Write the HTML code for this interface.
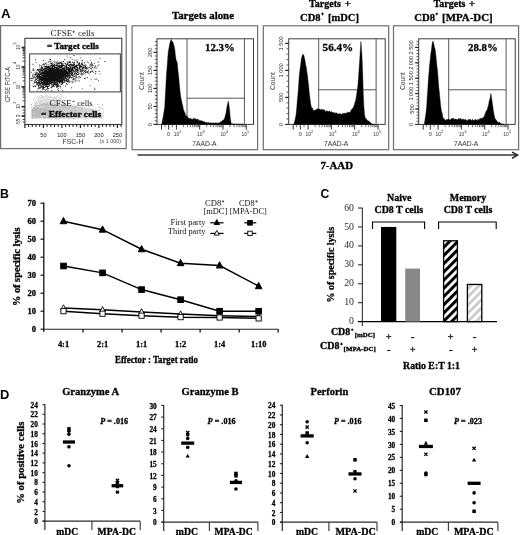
<!DOCTYPE html>
<html><head><meta charset="utf-8"><title>Figure</title>
<style>html,body{margin:0;padding:0;background:#fff;}body{width:520px;height:535px;overflow:hidden;font-family:"Liberation Serif",serif;}svg{display:block;will-change:transform;}</style>
</head><body>
<svg width="520" height="535" viewBox="0 0 520 535"><text x="1.00" y="17.60" font-family="Liberation Sans" font-size="13" font-weight="bold" textLength="9.60" lengthAdjust="spacingAndGlyphs" >A</text><rect x="0.60" y="25.60" width="125.60" height="123.00" fill="none" stroke="#6e6e6e" stroke-width="1.2" /><rect x="24.90" y="38.30" width="96.90" height="86.20" fill="none" stroke="#3c3c3c" stroke-width="1.1" /><path d="M51.1 77.0h.9v.9h-.9zM51.3 73.2h.9v.9h-.9zM46.0 74.2h.9v.9h-.9zM61.3 75.7h.9v.9h-.9zM60.8 74.9h.9v.9h-.9zM56.0 75.1h.9v.9h-.9zM40.5 79.5h.9v.9h-.9zM56.8 76.4h.9v.9h-.9zM40.3 67.7h.9v.9h-.9zM46.3 73.0h.9v.9h-.9zM55.3 74.1h.9v.9h-.9zM56.9 71.2h.9v.9h-.9zM55.3 76.1h.9v.9h-.9zM48.0 82.8h.9v.9h-.9zM57.2 79.6h.9v.9h-.9zM48.3 71.6h.9v.9h-.9zM50.4 74.3h.9v.9h-.9zM57.7 75.2h.9v.9h-.9zM49.6 70.5h.9v.9h-.9zM49.1 80.4h.9v.9h-.9zM46.9 76.2h.9v.9h-.9zM56.2 67.4h.9v.9h-.9zM53.4 80.4h.9v.9h-.9zM37.9 74.4h.9v.9h-.9zM52.2 70.9h.9v.9h-.9zM56.7 73.9h.9v.9h-.9zM42.0 79.3h.9v.9h-.9zM58.0 78.3h.9v.9h-.9zM63.8 75.2h.9v.9h-.9zM53.9 68.5h.9v.9h-.9zM57.6 71.3h.9v.9h-.9zM49.6 69.1h.9v.9h-.9zM45.7 72.8h.9v.9h-.9zM62.7 64.4h.9v.9h-.9zM42.1 76.6h.9v.9h-.9zM63.8 76.1h.9v.9h-.9zM38.8 64.4h.9v.9h-.9zM55.7 70.9h.9v.9h-.9zM44.6 79.7h.9v.9h-.9zM61.3 74.5h.9v.9h-.9zM54.8 76.3h.9v.9h-.9zM65.0 76.2h.9v.9h-.9zM56.9 76.6h.9v.9h-.9zM41.2 81.4h.9v.9h-.9zM60.2 76.2h.9v.9h-.9zM38.2 73.0h.9v.9h-.9zM59.3 65.7h.9v.9h-.9zM51.6 79.3h.9v.9h-.9zM43.2 82.7h.9v.9h-.9zM57.1 73.4h.9v.9h-.9zM55.4 77.2h.9v.9h-.9zM53.9 79.6h.9v.9h-.9zM48.0 73.1h.9v.9h-.9zM60.8 73.9h.9v.9h-.9zM46.4 79.4h.9v.9h-.9zM64.0 71.5h.9v.9h-.9zM42.7 74.8h.9v.9h-.9zM51.9 73.2h.9v.9h-.9zM63.5 68.9h.9v.9h-.9zM62.5 67.9h.9v.9h-.9zM47.1 77.9h.9v.9h-.9zM61.5 77.6h.9v.9h-.9zM55.6 74.9h.9v.9h-.9zM54.1 77.0h.9v.9h-.9zM51.7 75.9h.9v.9h-.9zM57.3 74.1h.9v.9h-.9zM58.7 76.5h.9v.9h-.9zM68.1 74.6h.9v.9h-.9zM49.8 73.1h.9v.9h-.9zM52.9 78.7h.9v.9h-.9zM50.5 76.5h.9v.9h-.9zM66.8 61.6h.9v.9h-.9zM44.6 76.4h.9v.9h-.9zM56.0 75.3h.9v.9h-.9zM49.8 77.8h.9v.9h-.9zM55.1 71.9h.9v.9h-.9zM71.2 74.4h.9v.9h-.9zM48.8 74.4h.9v.9h-.9zM51.3 74.4h.9v.9h-.9zM32.5 74.2h.9v.9h-.9zM60.6 68.5h.9v.9h-.9zM52.5 78.9h.9v.9h-.9zM59.4 80.7h.9v.9h-.9zM40.2 74.1h.9v.9h-.9zM50.4 77.6h.9v.9h-.9zM61.2 61.5h.9v.9h-.9zM61.2 67.2h.9v.9h-.9zM58.1 67.2h.9v.9h-.9zM54.3 79.8h.9v.9h-.9zM51.9 75.5h.9v.9h-.9zM59.0 74.6h.9v.9h-.9zM52.3 81.5h.9v.9h-.9zM60.9 72.4h.9v.9h-.9zM73.6 67.4h.9v.9h-.9zM59.9 72.7h.9v.9h-.9zM54.0 77.6h.9v.9h-.9zM54.7 77.3h.9v.9h-.9zM41.5 68.7h.9v.9h-.9zM57.6 69.7h.9v.9h-.9zM45.3 68.5h.9v.9h-.9zM62.5 77.0h.9v.9h-.9zM64.0 69.2h.9v.9h-.9zM53.0 69.3h.9v.9h-.9zM58.7 81.2h.9v.9h-.9zM46.3 82.2h.9v.9h-.9zM60.4 73.0h.9v.9h-.9zM38.2 82.3h.9v.9h-.9zM52.3 71.8h.9v.9h-.9zM56.0 76.1h.9v.9h-.9zM64.2 68.8h.9v.9h-.9zM61.5 80.5h.9v.9h-.9zM63.9 72.7h.9v.9h-.9zM47.4 79.6h.9v.9h-.9zM53.9 75.0h.9v.9h-.9zM63.7 72.3h.9v.9h-.9zM35.8 74.3h.9v.9h-.9zM39.1 79.5h.9v.9h-.9zM55.4 71.5h.9v.9h-.9zM52.9 78.3h.9v.9h-.9zM53.6 80.5h.9v.9h-.9zM52.5 79.3h.9v.9h-.9zM64.2 80.8h.9v.9h-.9zM48.0 79.0h.9v.9h-.9zM38.9 70.9h.9v.9h-.9zM38.3 80.7h.9v.9h-.9zM43.8 75.3h.9v.9h-.9zM51.6 74.5h.9v.9h-.9zM48.6 76.0h.9v.9h-.9zM66.4 73.5h.9v.9h-.9zM57.0 78.7h.9v.9h-.9zM51.5 68.9h.9v.9h-.9zM48.8 79.8h.9v.9h-.9zM40.7 72.9h.9v.9h-.9zM60.6 77.4h.9v.9h-.9zM53.1 78.2h.9v.9h-.9zM54.2 69.0h.9v.9h-.9zM41.3 72.7h.9v.9h-.9zM59.9 71.3h.9v.9h-.9zM46.2 71.6h.9v.9h-.9zM41.5 75.0h.9v.9h-.9zM44.2 77.0h.9v.9h-.9zM35.3 77.6h.9v.9h-.9zM48.2 66.1h.9v.9h-.9zM58.4 72.7h.9v.9h-.9zM36.3 72.1h.9v.9h-.9zM55.2 72.2h.9v.9h-.9zM58.8 77.4h.9v.9h-.9zM58.0 75.5h.9v.9h-.9zM63.0 76.6h.9v.9h-.9zM56.4 64.7h.9v.9h-.9zM59.7 79.8h.9v.9h-.9zM50.8 72.6h.9v.9h-.9zM67.6 65.2h.9v.9h-.9zM56.5 85.2h.9v.9h-.9zM46.0 78.3h.9v.9h-.9zM67.1 72.7h.9v.9h-.9zM57.2 78.2h.9v.9h-.9zM46.2 74.7h.9v.9h-.9zM55.2 78.1h.9v.9h-.9zM52.7 73.6h.9v.9h-.9zM45.4 73.6h.9v.9h-.9zM59.7 74.3h.9v.9h-.9zM46.6 71.3h.9v.9h-.9zM73.0 77.8h.9v.9h-.9zM57.8 62.3h.9v.9h-.9zM57.7 76.3h.9v.9h-.9zM65.6 75.3h.9v.9h-.9zM52.5 76.9h.9v.9h-.9zM38.4 80.5h.9v.9h-.9zM55.4 71.1h.9v.9h-.9zM62.9 81.8h.9v.9h-.9zM42.5 72.4h.9v.9h-.9zM55.2 75.1h.9v.9h-.9zM50.0 70.3h.9v.9h-.9zM68.9 77.8h.9v.9h-.9zM44.0 69.2h.9v.9h-.9zM65.8 77.8h.9v.9h-.9zM66.7 76.9h.9v.9h-.9zM46.5 76.3h.9v.9h-.9zM36.8 72.6h.9v.9h-.9zM52.6 76.9h.9v.9h-.9zM47.5 74.4h.9v.9h-.9zM56.4 75.9h.9v.9h-.9zM57.8 75.0h.9v.9h-.9zM50.6 78.3h.9v.9h-.9zM53.4 70.7h.9v.9h-.9zM48.3 74.9h.9v.9h-.9zM52.2 75.3h.9v.9h-.9zM53.0 75.3h.9v.9h-.9zM52.0 68.9h.9v.9h-.9zM56.2 79.0h.9v.9h-.9zM56.3 73.3h.9v.9h-.9zM56.3 69.8h.9v.9h-.9zM38.8 76.1h.9v.9h-.9zM46.0 78.5h.9v.9h-.9zM44.9 63.3h.9v.9h-.9zM45.2 82.4h.9v.9h-.9zM50.1 68.5h.9v.9h-.9zM47.3 77.4h.9v.9h-.9zM56.7 75.0h.9v.9h-.9zM64.1 76.7h.9v.9h-.9zM52.8 77.2h.9v.9h-.9zM65.4 77.8h.9v.9h-.9zM60.7 68.9h.9v.9h-.9zM51.9 77.9h.9v.9h-.9zM50.8 79.6h.9v.9h-.9zM57.5 78.2h.9v.9h-.9zM51.4 86.2h.9v.9h-.9zM62.3 72.7h.9v.9h-.9zM53.7 86.2h.9v.9h-.9zM50.4 78.7h.9v.9h-.9zM60.4 73.9h.9v.9h-.9zM44.2 76.2h.9v.9h-.9zM55.7 79.4h.9v.9h-.9zM58.9 74.1h.9v.9h-.9zM59.4 76.4h.9v.9h-.9zM54.5 74.6h.9v.9h-.9zM51.2 77.8h.9v.9h-.9zM45.1 72.4h.9v.9h-.9zM53.0 67.8h.9v.9h-.9zM49.7 65.7h.9v.9h-.9zM47.9 77.6h.9v.9h-.9zM57.2 73.9h.9v.9h-.9zM51.3 68.2h.9v.9h-.9zM66.7 75.6h.9v.9h-.9zM61.2 69.7h.9v.9h-.9zM51.6 66.4h.9v.9h-.9zM58.9 78.2h.9v.9h-.9zM38.8 75.6h.9v.9h-.9zM57.7 66.1h.9v.9h-.9zM39.3 70.9h.9v.9h-.9zM48.3 68.6h.9v.9h-.9zM53.2 75.6h.9v.9h-.9zM57.8 77.3h.9v.9h-.9zM64.3 78.8h.9v.9h-.9zM43.2 73.1h.9v.9h-.9zM45.0 70.3h.9v.9h-.9zM52.4 74.6h.9v.9h-.9zM56.7 66.9h.9v.9h-.9zM43.7 75.2h.9v.9h-.9zM51.5 73.2h.9v.9h-.9zM52.5 71.1h.9v.9h-.9zM58.3 75.6h.9v.9h-.9zM52.3 71.5h.9v.9h-.9zM51.7 62.2h.9v.9h-.9zM45.6 75.3h.9v.9h-.9zM41.7 76.4h.9v.9h-.9zM54.1 68.1h.9v.9h-.9zM51.1 73.2h.9v.9h-.9zM56.4 77.0h.9v.9h-.9zM52.7 70.7h.9v.9h-.9zM51.9 74.3h.9v.9h-.9zM58.5 75.3h.9v.9h-.9zM47.6 68.8h.9v.9h-.9zM50.2 71.4h.9v.9h-.9zM44.7 74.7h.9v.9h-.9zM49.3 75.3h.9v.9h-.9zM56.9 72.3h.9v.9h-.9zM70.4 71.4h.9v.9h-.9zM61.3 74.3h.9v.9h-.9zM61.4 62.9h.9v.9h-.9zM47.4 76.1h.9v.9h-.9zM57.5 84.7h.9v.9h-.9zM55.4 80.1h.9v.9h-.9zM58.7 78.3h.9v.9h-.9zM56.8 73.4h.9v.9h-.9zM56.8 69.2h.9v.9h-.9zM61.9 69.1h.9v.9h-.9zM54.9 84.0h.9v.9h-.9zM51.3 74.7h.9v.9h-.9zM61.7 73.8h.9v.9h-.9zM46.9 76.2h.9v.9h-.9zM57.4 77.3h.9v.9h-.9zM47.2 83.0h.9v.9h-.9zM65.5 73.4h.9v.9h-.9zM55.0 72.4h.9v.9h-.9zM63.6 70.3h.9v.9h-.9zM58.1 71.9h.9v.9h-.9zM47.8 78.2h.9v.9h-.9zM63.0 73.5h.9v.9h-.9zM47.9 78.7h.9v.9h-.9zM52.6 75.9h.9v.9h-.9zM64.4 78.6h.9v.9h-.9zM49.1 85.2h.9v.9h-.9zM53.0 78.1h.9v.9h-.9zM48.1 74.7h.9v.9h-.9zM39.9 83.8h.9v.9h-.9zM63.2 68.0h.9v.9h-.9zM41.7 68.2h.9v.9h-.9zM61.8 71.6h.9v.9h-.9zM52.5 73.1h.9v.9h-.9zM52.1 69.6h.9v.9h-.9zM53.2 67.9h.9v.9h-.9zM52.5 76.0h.9v.9h-.9zM56.5 73.1h.9v.9h-.9zM46.2 75.8h.9v.9h-.9zM49.4 82.0h.9v.9h-.9zM58.8 73.4h.9v.9h-.9zM49.5 71.6h.9v.9h-.9zM46.0 73.5h.9v.9h-.9zM55.2 76.6h.9v.9h-.9zM57.3 83.7h.9v.9h-.9zM47.7 75.0h.9v.9h-.9zM74.0 64.1h.9v.9h-.9zM49.1 75.6h.9v.9h-.9zM54.2 76.2h.9v.9h-.9zM51.2 76.3h.9v.9h-.9zM53.4 78.0h.9v.9h-.9zM38.8 71.8h.9v.9h-.9zM53.0 69.8h.9v.9h-.9zM45.2 78.1h.9v.9h-.9zM48.1 77.8h.9v.9h-.9zM58.6 75.4h.9v.9h-.9zM56.8 73.7h.9v.9h-.9zM42.4 75.3h.9v.9h-.9zM56.4 71.8h.9v.9h-.9zM52.3 78.0h.9v.9h-.9zM46.4 78.0h.9v.9h-.9zM67.0 70.7h.9v.9h-.9zM54.1 73.7h.9v.9h-.9zM64.6 74.9h.9v.9h-.9zM59.7 70.7h.9v.9h-.9zM52.9 74.5h.9v.9h-.9zM39.7 82.3h.9v.9h-.9zM59.7 65.9h.9v.9h-.9zM58.6 73.4h.9v.9h-.9zM56.4 75.9h.9v.9h-.9zM41.8 74.6h.9v.9h-.9zM64.2 70.9h.9v.9h-.9zM45.3 69.0h.9v.9h-.9zM43.8 76.9h.9v.9h-.9zM65.7 75.3h.9v.9h-.9zM54.8 84.5h.9v.9h-.9zM49.1 71.8h.9v.9h-.9zM57.0 76.6h.9v.9h-.9zM45.4 69.9h.9v.9h-.9zM55.2 75.4h.9v.9h-.9zM43.2 74.5h.9v.9h-.9zM48.9 77.0h.9v.9h-.9zM52.1 74.2h.9v.9h-.9zM50.3 79.5h.9v.9h-.9zM63.4 71.9h.9v.9h-.9zM59.3 70.5h.9v.9h-.9zM53.5 77.9h.9v.9h-.9zM64.4 71.7h.9v.9h-.9zM52.4 75.4h.9v.9h-.9zM41.8 75.6h.9v.9h-.9zM47.9 76.7h.9v.9h-.9zM44.5 66.3h.9v.9h-.9zM53.3 75.7h.9v.9h-.9zM48.9 78.9h.9v.9h-.9zM51.0 71.9h.9v.9h-.9zM56.6 67.0h.9v.9h-.9zM47.9 74.9h.9v.9h-.9zM59.4 73.2h.9v.9h-.9zM55.3 71.3h.9v.9h-.9zM55.3 81.9h.9v.9h-.9zM47.9 85.7h.9v.9h-.9zM48.2 75.0h.9v.9h-.9zM54.3 79.0h.9v.9h-.9zM43.7 65.8h.9v.9h-.9zM57.5 77.7h.9v.9h-.9zM57.7 86.0h.9v.9h-.9zM54.5 75.5h.9v.9h-.9zM60.0 75.5h.9v.9h-.9zM65.5 67.7h.9v.9h-.9zM50.2 59.1h.9v.9h-.9zM59.1 72.2h.9v.9h-.9zM59.9 83.7h.9v.9h-.9zM53.0 73.3h.9v.9h-.9zM49.3 71.0h.9v.9h-.9zM48.3 77.8h.9v.9h-.9zM53.3 74.8h.9v.9h-.9zM51.7 78.8h.9v.9h-.9zM56.7 73.5h.9v.9h-.9zM58.0 73.4h.9v.9h-.9zM44.4 81.9h.9v.9h-.9zM56.5 69.8h.9v.9h-.9zM61.1 75.3h.9v.9h-.9zM41.3 82.9h.9v.9h-.9zM55.5 78.3h.9v.9h-.9zM54.5 73.7h.9v.9h-.9zM41.4 80.0h.9v.9h-.9zM53.2 73.2h.9v.9h-.9zM55.6 74.6h.9v.9h-.9zM58.1 72.3h.9v.9h-.9zM52.7 64.8h.9v.9h-.9zM49.8 77.9h.9v.9h-.9zM63.0 71.9h.9v.9h-.9zM52.1 81.8h.9v.9h-.9zM50.6 78.1h.9v.9h-.9zM65.6 73.5h.9v.9h-.9zM62.2 70.4h.9v.9h-.9zM54.6 74.0h.9v.9h-.9zM53.9 79.6h.9v.9h-.9zM70.9 69.8h.9v.9h-.9zM48.7 77.2h.9v.9h-.9zM45.1 77.5h.9v.9h-.9zM57.3 72.8h.9v.9h-.9zM57.0 67.1h.9v.9h-.9zM58.7 66.9h.9v.9h-.9zM47.8 72.5h.9v.9h-.9zM50.0 78.7h.9v.9h-.9zM53.6 72.6h.9v.9h-.9zM57.1 81.3h.9v.9h-.9zM53.0 76.2h.9v.9h-.9zM62.3 74.9h.9v.9h-.9zM43.4 86.7h.9v.9h-.9zM69.6 63.9h.9v.9h-.9zM52.7 76.4h.9v.9h-.9zM60.2 76.9h.9v.9h-.9zM51.0 69.9h.9v.9h-.9zM53.8 79.1h.9v.9h-.9zM44.8 70.6h.9v.9h-.9zM52.8 65.7h.9v.9h-.9zM51.0 72.7h.9v.9h-.9zM56.4 71.0h.9v.9h-.9zM46.4 73.3h.9v.9h-.9zM52.6 71.5h.9v.9h-.9zM53.1 77.9h.9v.9h-.9zM61.9 81.4h.9v.9h-.9zM47.1 73.1h.9v.9h-.9zM34.4 84.9h.9v.9h-.9zM47.6 74.8h.9v.9h-.9zM56.9 68.0h.9v.9h-.9zM56.5 74.1h.9v.9h-.9zM39.3 77.1h.9v.9h-.9zM62.0 65.2h.9v.9h-.9zM59.1 74.9h.9v.9h-.9zM56.6 76.2h.9v.9h-.9zM62.8 72.6h.9v.9h-.9zM59.6 72.0h.9v.9h-.9zM58.5 70.3h.9v.9h-.9zM52.2 82.4h.9v.9h-.9zM56.3 73.5h.9v.9h-.9zM44.4 71.7h.9v.9h-.9zM54.5 78.6h.9v.9h-.9zM56.2 76.6h.9v.9h-.9zM52.7 80.7h.9v.9h-.9zM50.1 72.3h.9v.9h-.9zM59.7 74.2h.9v.9h-.9zM50.9 72.1h.9v.9h-.9zM51.1 77.5h.9v.9h-.9zM55.7 68.8h.9v.9h-.9zM56.2 75.0h.9v.9h-.9zM45.5 78.7h.9v.9h-.9zM50.9 73.2h.9v.9h-.9zM59.0 80.0h.9v.9h-.9zM47.8 77.0h.9v.9h-.9zM46.4 85.6h.9v.9h-.9zM49.3 80.3h.9v.9h-.9zM48.1 78.6h.9v.9h-.9zM69.6 61.4h.9v.9h-.9zM49.7 77.1h.9v.9h-.9zM52.3 71.5h.9v.9h-.9zM69.1 73.4h.9v.9h-.9zM40.7 79.5h.9v.9h-.9zM40.1 80.9h.9v.9h-.9zM48.7 75.6h.9v.9h-.9zM62.5 74.2h.9v.9h-.9zM42.6 67.7h.9v.9h-.9zM61.9 77.1h.9v.9h-.9zM46.9 79.0h.9v.9h-.9zM56.7 77.1h.9v.9h-.9zM36.1 74.7h.9v.9h-.9zM59.8 77.2h.9v.9h-.9zM59.6 62.7h.9v.9h-.9zM54.3 76.6h.9v.9h-.9zM72.1 68.4h.9v.9h-.9zM50.5 74.9h.9v.9h-.9zM59.6 71.9h.9v.9h-.9zM61.6 70.1h.9v.9h-.9zM55.0 71.9h.9v.9h-.9zM54.2 71.2h.9v.9h-.9zM41.0 80.6h.9v.9h-.9zM55.3 71.7h.9v.9h-.9zM54.5 78.9h.9v.9h-.9zM45.7 74.7h.9v.9h-.9zM57.0 76.5h.9v.9h-.9zM50.5 65.1h.9v.9h-.9zM62.3 75.1h.9v.9h-.9zM53.1 73.2h.9v.9h-.9zM55.0 72.4h.9v.9h-.9zM45.3 71.8h.9v.9h-.9zM48.5 72.1h.9v.9h-.9zM44.3 78.2h.9v.9h-.9zM43.2 78.4h.9v.9h-.9zM45.4 76.8h.9v.9h-.9zM63.3 74.5h.9v.9h-.9zM47.5 75.2h.9v.9h-.9zM54.1 66.5h.9v.9h-.9zM48.4 75.7h.9v.9h-.9zM49.5 75.2h.9v.9h-.9zM58.5 77.5h.9v.9h-.9zM59.8 76.6h.9v.9h-.9zM50.8 74.6h.9v.9h-.9zM51.0 73.3h.9v.9h-.9zM51.7 66.8h.9v.9h-.9zM50.5 74.6h.9v.9h-.9zM45.7 75.1h.9v.9h-.9zM56.9 73.4h.9v.9h-.9zM68.6 61.2h.9v.9h-.9zM51.5 66.3h.9v.9h-.9zM60.3 85.9h.9v.9h-.9zM34.2 76.8h.9v.9h-.9zM56.9 72.8h.9v.9h-.9zM57.1 63.9h.9v.9h-.9zM59.4 75.6h.9v.9h-.9zM53.2 71.8h.9v.9h-.9zM57.8 71.9h.9v.9h-.9zM54.7 72.0h.9v.9h-.9zM36.1 75.9h.9v.9h-.9zM54.5 77.8h.9v.9h-.9zM46.4 75.0h.9v.9h-.9zM57.6 74.7h.9v.9h-.9zM62.3 82.7h.9v.9h-.9zM46.2 66.4h.9v.9h-.9zM59.4 80.9h.9v.9h-.9zM59.9 77.6h.9v.9h-.9zM48.4 71.7h.9v.9h-.9zM59.7 69.7h.9v.9h-.9zM39.4 71.2h.9v.9h-.9zM71.7 81.5h.9v.9h-.9zM47.9 71.7h.9v.9h-.9zM54.7 70.9h.9v.9h-.9zM62.8 73.2h.9v.9h-.9zM44.9 81.2h.9v.9h-.9zM48.6 75.9h.9v.9h-.9zM52.9 73.1h.9v.9h-.9zM55.4 71.1h.9v.9h-.9zM39.2 65.7h.9v.9h-.9zM43.5 71.9h.9v.9h-.9zM52.8 74.8h.9v.9h-.9zM57.2 74.7h.9v.9h-.9zM47.0 71.8h.9v.9h-.9zM37.1 75.2h.9v.9h-.9zM56.6 76.6h.9v.9h-.9zM52.1 73.8h.9v.9h-.9zM60.0 73.9h.9v.9h-.9zM58.5 76.6h.9v.9h-.9zM54.6 80.3h.9v.9h-.9zM48.7 73.3h.9v.9h-.9zM46.9 71.4h.9v.9h-.9zM64.7 81.4h.9v.9h-.9zM53.2 77.1h.9v.9h-.9zM61.8 77.4h.9v.9h-.9zM62.0 67.9h.9v.9h-.9zM48.2 77.0h.9v.9h-.9zM63.8 74.0h.9v.9h-.9zM46.6 73.5h.9v.9h-.9zM48.0 71.1h.9v.9h-.9zM64.3 70.6h.9v.9h-.9zM53.2 84.3h.9v.9h-.9zM61.9 75.2h.9v.9h-.9zM48.4 76.8h.9v.9h-.9zM65.2 76.2h.9v.9h-.9zM62.5 74.1h.9v.9h-.9zM56.9 73.2h.9v.9h-.9zM56.2 80.1h.9v.9h-.9zM42.3 75.2h.9v.9h-.9zM54.8 71.7h.9v.9h-.9zM50.7 78.3h.9v.9h-.9zM68.0 76.0h.9v.9h-.9zM55.4 67.2h.9v.9h-.9zM67.5 73.5h.9v.9h-.9zM52.7 69.4h.9v.9h-.9zM52.6 69.6h.9v.9h-.9zM53.5 76.6h.9v.9h-.9zM53.2 75.8h.9v.9h-.9zM46.6 81.6h.9v.9h-.9zM48.1 66.7h.9v.9h-.9zM51.6 71.2h.9v.9h-.9zM45.4 73.6h.9v.9h-.9zM55.2 68.9h.9v.9h-.9zM52.0 81.1h.9v.9h-.9zM58.1 73.3h.9v.9h-.9zM54.0 73.9h.9v.9h-.9zM52.6 77.9h.9v.9h-.9zM52.3 63.6h.9v.9h-.9zM52.8 70.5h.9v.9h-.9zM57.9 71.3h.9v.9h-.9zM54.1 84.3h.9v.9h-.9zM45.1 70.1h.9v.9h-.9zM42.4 64.6h.9v.9h-.9zM38.9 77.5h.9v.9h-.9zM48.2 66.4h.9v.9h-.9zM41.9 78.3h.9v.9h-.9zM47.2 73.4h.9v.9h-.9zM55.5 80.4h.9v.9h-.9zM67.6 77.9h.9v.9h-.9zM54.1 75.2h.9v.9h-.9zM66.5 79.8h.9v.9h-.9zM50.7 76.8h.9v.9h-.9zM55.2 74.5h.9v.9h-.9zM49.2 68.8h.9v.9h-.9zM49.0 67.8h.9v.9h-.9zM62.2 76.1h.9v.9h-.9zM44.0 81.7h.9v.9h-.9zM59.7 65.2h.9v.9h-.9zM66.8 76.9h.9v.9h-.9zM68.5 67.5h.9v.9h-.9zM57.0 76.1h.9v.9h-.9zM54.5 75.1h.9v.9h-.9zM60.9 67.0h.9v.9h-.9zM43.7 69.0h.9v.9h-.9zM48.8 72.1h.9v.9h-.9zM55.8 75.5h.9v.9h-.9zM53.2 71.4h.9v.9h-.9zM49.7 79.1h.9v.9h-.9zM58.7 74.4h.9v.9h-.9zM50.6 81.8h.9v.9h-.9zM48.5 77.9h.9v.9h-.9zM61.7 72.5h.9v.9h-.9zM59.2 68.9h.9v.9h-.9zM60.6 74.7h.9v.9h-.9zM41.1 78.6h.9v.9h-.9zM46.3 80.9h.9v.9h-.9zM47.9 74.2h.9v.9h-.9zM55.1 72.8h.9v.9h-.9zM54.9 71.8h.9v.9h-.9zM58.0 74.1h.9v.9h-.9zM54.6 61.8h.9v.9h-.9zM61.7 73.8h.9v.9h-.9zM39.6 76.2h.9v.9h-.9zM56.5 79.0h.9v.9h-.9zM44.9 82.3h.9v.9h-.9zM51.8 85.5h.9v.9h-.9zM51.9 77.7h.9v.9h-.9zM50.3 69.7h.9v.9h-.9zM61.2 77.9h.9v.9h-.9zM64.5 77.3h.9v.9h-.9zM48.7 67.3h.9v.9h-.9zM48.1 71.9h.9v.9h-.9zM46.9 77.7h.9v.9h-.9zM55.5 73.0h.9v.9h-.9zM54.3 73.7h.9v.9h-.9zM54.6 77.8h.9v.9h-.9zM60.2 70.7h.9v.9h-.9zM41.7 82.0h.9v.9h-.9zM53.9 79.4h.9v.9h-.9zM40.7 74.1h.9v.9h-.9zM53.2 67.9h.9v.9h-.9zM49.1 78.2h.9v.9h-.9zM61.1 81.0h.9v.9h-.9zM46.5 68.7h.9v.9h-.9zM56.9 78.4h.9v.9h-.9zM54.4 68.4h.9v.9h-.9zM58.9 77.6h.9v.9h-.9zM57.2 71.9h.9v.9h-.9zM55.3 77.9h.9v.9h-.9zM48.8 66.5h.9v.9h-.9zM55.5 76.5h.9v.9h-.9zM53.1 78.5h.9v.9h-.9zM48.6 74.5h.9v.9h-.9zM50.7 77.3h.9v.9h-.9zM65.0 72.3h.9v.9h-.9zM68.4 80.0h.9v.9h-.9zM58.9 76.6h.9v.9h-.9zM66.3 72.5h.9v.9h-.9zM52.2 69.7h.9v.9h-.9zM56.5 80.3h.9v.9h-.9zM57.0 76.1h.9v.9h-.9zM51.5 75.4h.9v.9h-.9zM42.3 80.3h.9v.9h-.9zM49.9 69.8h.9v.9h-.9zM47.4 71.3h.9v.9h-.9zM59.4 78.7h.9v.9h-.9zM42.8 79.6h.9v.9h-.9zM59.7 71.3h.9v.9h-.9zM41.9 72.1h.9v.9h-.9zM48.2 76.5h.9v.9h-.9zM50.3 65.5h.9v.9h-.9zM54.8 67.4h.9v.9h-.9zM59.8 68.4h.9v.9h-.9zM47.8 71.1h.9v.9h-.9zM48.9 80.8h.9v.9h-.9zM59.4 76.6h.9v.9h-.9zM55.4 67.2h.9v.9h-.9zM49.1 72.3h.9v.9h-.9zM45.7 77.5h.9v.9h-.9zM47.4 71.8h.9v.9h-.9zM45.2 65.9h.9v.9h-.9zM57.5 80.1h.9v.9h-.9zM54.3 69.9h.9v.9h-.9zM32.7 77.2h.9v.9h-.9zM62.1 75.0h.9v.9h-.9zM60.0 80.6h.9v.9h-.9zM61.5 71.7h.9v.9h-.9zM60.9 77.3h.9v.9h-.9zM41.5 73.7h.9v.9h-.9zM42.3 75.0h.9v.9h-.9zM57.3 69.2h.9v.9h-.9zM37.6 81.8h.9v.9h-.9zM55.8 80.9h.9v.9h-.9zM43.1 80.2h.9v.9h-.9zM68.6 82.2h.9v.9h-.9zM51.4 75.9h.9v.9h-.9zM51.8 79.1h.9v.9h-.9zM60.8 74.2h.9v.9h-.9zM42.8 78.8h.9v.9h-.9zM49.5 77.7h.9v.9h-.9zM55.0 81.7h.9v.9h-.9zM61.5 71.7h.9v.9h-.9zM55.6 82.3h.9v.9h-.9zM49.0 76.8h.9v.9h-.9zM61.9 79.4h.9v.9h-.9zM56.9 68.1h.9v.9h-.9zM43.5 76.5h.9v.9h-.9zM55.9 85.8h.9v.9h-.9zM46.5 80.3h.9v.9h-.9zM58.8 66.4h.9v.9h-.9zM46.9 75.8h.9v.9h-.9zM49.3 74.1h.9v.9h-.9zM56.5 70.5h.9v.9h-.9zM56.5 71.3h.9v.9h-.9zM48.9 77.3h.9v.9h-.9zM48.7 76.2h.9v.9h-.9zM65.0 73.5h.9v.9h-.9zM51.9 77.9h.9v.9h-.9zM50.3 79.7h.9v.9h-.9zM43.4 78.2h.9v.9h-.9zM49.2 71.2h.9v.9h-.9zM66.3 69.4h.9v.9h-.9zM66.2 76.3h.9v.9h-.9zM63.9 69.1h.9v.9h-.9zM62.0 80.3h.9v.9h-.9zM52.1 74.0h.9v.9h-.9zM71.4 73.6h.9v.9h-.9zM49.8 71.9h.9v.9h-.9zM56.3 75.7h.9v.9h-.9zM54.3 82.2h.9v.9h-.9zM50.5 76.9h.9v.9h-.9zM63.9 68.9h.9v.9h-.9zM60.8 82.1h.9v.9h-.9zM42.8 70.4h.9v.9h-.9zM45.2 66.8h.9v.9h-.9zM56.4 65.7h.9v.9h-.9zM56.7 80.8h.9v.9h-.9zM40.9 74.2h.9v.9h-.9zM38.6 79.4h.9v.9h-.9zM47.5 73.8h.9v.9h-.9zM53.4 76.9h.9v.9h-.9zM50.4 74.8h.9v.9h-.9zM48.9 75.4h.9v.9h-.9zM44.2 75.6h.9v.9h-.9zM38.5 73.6h.9v.9h-.9zM67.4 73.5h.9v.9h-.9zM43.6 76.5h.9v.9h-.9zM45.7 67.7h.9v.9h-.9zM47.5 78.4h.9v.9h-.9zM55.9 73.8h.9v.9h-.9zM46.1 70.2h.9v.9h-.9zM63.1 74.7h.9v.9h-.9zM45.9 65.6h.9v.9h-.9zM42.7 86.7h.9v.9h-.9zM44.4 74.9h.9v.9h-.9zM54.6 73.6h.9v.9h-.9zM50.9 68.4h.9v.9h-.9zM45.1 82.9h.9v.9h-.9zM47.3 78.9h.9v.9h-.9zM40.3 74.4h.9v.9h-.9zM55.0 79.0h.9v.9h-.9zM44.6 78.0h.9v.9h-.9zM55.9 70.9h.9v.9h-.9zM56.6 70.1h.9v.9h-.9zM47.0 75.0h.9v.9h-.9zM32.6 75.9h.9v.9h-.9zM45.5 68.5h.9v.9h-.9zM49.8 78.3h.9v.9h-.9zM50.0 80.5h.9v.9h-.9zM44.3 69.3h.9v.9h-.9zM64.6 75.2h.9v.9h-.9zM60.1 70.1h.9v.9h-.9zM59.0 75.1h.9v.9h-.9zM57.9 74.2h.9v.9h-.9zM62.0 70.7h.9v.9h-.9zM45.8 68.4h.9v.9h-.9zM61.7 70.3h.9v.9h-.9zM45.2 70.9h.9v.9h-.9zM49.7 69.0h.9v.9h-.9zM50.8 71.8h.9v.9h-.9zM48.9 70.5h.9v.9h-.9zM53.3 72.4h.9v.9h-.9zM53.9 75.6h.9v.9h-.9zM55.6 64.3h.9v.9h-.9zM49.0 71.2h.9v.9h-.9zM58.8 66.8h.9v.9h-.9zM47.6 73.7h.9v.9h-.9zM50.5 79.2h.9v.9h-.9zM49.7 79.2h.9v.9h-.9zM42.0 67.3h.9v.9h-.9zM62.1 75.6h.9v.9h-.9zM56.7 74.7h.9v.9h-.9zM56.6 68.6h.9v.9h-.9zM60.1 71.4h.9v.9h-.9zM60.4 74.2h.9v.9h-.9zM38.2 70.0h.9v.9h-.9zM61.5 73.1h.9v.9h-.9zM50.0 75.9h.9v.9h-.9zM49.8 72.3h.9v.9h-.9zM53.8 75.1h.9v.9h-.9zM64.4 73.7h.9v.9h-.9zM67.1 81.4h.9v.9h-.9zM65.9 78.1h.9v.9h-.9zM54.0 75.0h.9v.9h-.9zM51.9 71.3h.9v.9h-.9zM52.5 71.6h.9v.9h-.9zM65.3 75.8h.9v.9h-.9zM49.7 66.1h.9v.9h-.9zM52.6 72.6h.9v.9h-.9zM44.9 70.1h.9v.9h-.9zM36.1 78.6h.9v.9h-.9zM52.5 86.3h.9v.9h-.9zM52.8 73.8h.9v.9h-.9zM63.8 74.1h.9v.9h-.9zM54.3 72.7h.9v.9h-.9zM48.5 81.7h.9v.9h-.9zM60.5 81.6h.9v.9h-.9zM50.4 74.9h.9v.9h-.9zM46.4 79.5h.9v.9h-.9zM42.6 78.0h.9v.9h-.9zM61.2 80.2h.9v.9h-.9zM46.0 80.1h.9v.9h-.9zM47.6 71.5h.9v.9h-.9zM43.1 80.7h.9v.9h-.9zM65.4 70.7h.9v.9h-.9zM47.3 73.5h.9v.9h-.9zM71.8 77.3h.9v.9h-.9zM48.9 66.7h.9v.9h-.9zM48.0 80.4h.9v.9h-.9zM67.0 72.0h.9v.9h-.9zM47.8 72.7h.9v.9h-.9zM38.9 79.9h.9v.9h-.9zM44.9 80.1h.9v.9h-.9zM40.2 69.9h.9v.9h-.9zM55.2 70.8h.9v.9h-.9zM58.9 74.0h.9v.9h-.9zM44.2 78.1h.9v.9h-.9zM59.3 65.2h.9v.9h-.9zM66.7 75.5h.9v.9h-.9zM58.7 65.5h.9v.9h-.9zM47.6 73.4h.9v.9h-.9zM61.1 67.1h.9v.9h-.9zM46.4 65.9h.9v.9h-.9zM51.2 76.2h.9v.9h-.9zM40.4 73.0h.9v.9h-.9zM56.8 81.4h.9v.9h-.9zM58.0 72.7h.9v.9h-.9zM44.2 71.1h.9v.9h-.9zM48.0 75.6h.9v.9h-.9zM52.6 82.1h.9v.9h-.9zM55.2 69.4h.9v.9h-.9zM64.6 77.8h.9v.9h-.9zM53.8 71.2h.9v.9h-.9zM39.0 71.1h.9v.9h-.9zM59.8 70.2h.9v.9h-.9zM43.1 76.3h.9v.9h-.9zM54.8 77.1h.9v.9h-.9zM57.9 80.5h.9v.9h-.9zM46.7 79.5h.9v.9h-.9zM45.6 78.3h.9v.9h-.9zM54.3 75.5h.9v.9h-.9zM60.3 73.8h.9v.9h-.9zM61.3 77.7h.9v.9h-.9zM54.0 71.8h.9v.9h-.9zM47.3 72.6h.9v.9h-.9zM51.5 74.5h.9v.9h-.9zM75.4 75.3h.9v.9h-.9zM58.8 70.1h.9v.9h-.9zM47.7 73.5h.9v.9h-.9zM54.4 69.7h.9v.9h-.9zM65.1 70.8h.9v.9h-.9zM61.1 63.1h.9v.9h-.9zM52.9 75.8h.9v.9h-.9zM54.4 77.1h.9v.9h-.9zM55.1 75.0h.9v.9h-.9zM38.8 72.6h.9v.9h-.9zM35.4 79.0h.9v.9h-.9zM55.3 73.4h.9v.9h-.9zM46.8 72.4h.9v.9h-.9zM66.8 81.1h.9v.9h-.9zM52.6 80.4h.9v.9h-.9zM41.1 66.8h.9v.9h-.9zM49.4 70.9h.9v.9h-.9zM48.8 75.7h.9v.9h-.9zM75.7 69.4h.9v.9h-.9zM53.4 75.7h.9v.9h-.9zM52.7 78.8h.9v.9h-.9zM66.3 67.6h.9v.9h-.9zM54.2 73.2h.9v.9h-.9zM55.7 67.3h.9v.9h-.9zM39.8 65.2h.9v.9h-.9zM56.9 75.0h.9v.9h-.9zM53.6 63.7h.9v.9h-.9zM50.2 71.3h.9v.9h-.9zM42.4 71.3h.9v.9h-.9zM58.2 76.5h.9v.9h-.9zM52.8 76.9h.9v.9h-.9zM48.5 75.2h.9v.9h-.9zM53.3 77.0h.9v.9h-.9zM52.5 73.9h.9v.9h-.9zM52.0 71.7h.9v.9h-.9zM69.8 75.3h.9v.9h-.9zM56.2 84.6h.9v.9h-.9zM63.5 66.5h.9v.9h-.9zM58.2 77.8h.9v.9h-.9zM67.1 79.2h.9v.9h-.9zM58.8 68.6h.9v.9h-.9zM46.5 76.3h.9v.9h-.9zM56.8 69.5h.9v.9h-.9zM50.1 72.9h.9v.9h-.9zM53.5 76.0h.9v.9h-.9zM50.8 69.1h.9v.9h-.9zM62.3 80.9h.9v.9h-.9zM52.2 79.2h.9v.9h-.9zM56.3 77.2h.9v.9h-.9zM56.6 70.7h.9v.9h-.9zM57.3 78.7h.9v.9h-.9zM46.3 84.1h.9v.9h-.9zM68.7 81.3h.9v.9h-.9zM67.9 76.5h.9v.9h-.9zM50.5 72.0h.9v.9h-.9zM46.9 75.6h.9v.9h-.9zM52.8 77.6h.9v.9h-.9zM37.9 86.4h.9v.9h-.9zM70.1 72.8h.9v.9h-.9zM58.1 76.2h.9v.9h-.9zM55.1 73.4h.9v.9h-.9zM52.1 70.8h.9v.9h-.9zM54.3 74.3h.9v.9h-.9zM55.4 70.4h.9v.9h-.9zM53.3 74.7h.9v.9h-.9zM57.5 69.2h.9v.9h-.9zM56.1 78.7h.9v.9h-.9zM57.5 72.4h.9v.9h-.9zM49.3 73.8h.9v.9h-.9zM58.5 81.1h.9v.9h-.9zM51.8 71.7h.9v.9h-.9zM55.8 75.2h.9v.9h-.9zM46.2 71.8h.9v.9h-.9zM52.2 77.6h.9v.9h-.9zM44.1 70.7h.9v.9h-.9zM56.7 68.6h.9v.9h-.9zM53.8 76.0h.9v.9h-.9zM52.2 69.9h.9v.9h-.9zM52.6 73.0h.9v.9h-.9zM55.5 70.5h.9v.9h-.9zM61.2 66.1h.9v.9h-.9zM51.7 74.7h.9v.9h-.9zM60.2 71.1h.9v.9h-.9zM57.1 71.5h.9v.9h-.9zM58.5 81.9h.9v.9h-.9zM50.0 76.8h.9v.9h-.9zM46.0 79.6h.9v.9h-.9zM62.1 73.8h.9v.9h-.9zM44.5 77.1h.9v.9h-.9zM61.6 78.7h.9v.9h-.9zM59.1 65.6h.9v.9h-.9zM47.9 81.4h.9v.9h-.9zM43.8 80.5h.9v.9h-.9zM67.1 76.7h.9v.9h-.9zM61.4 72.2h.9v.9h-.9zM43.8 74.9h.9v.9h-.9zM51.5 74.4h.9v.9h-.9zM58.2 73.4h.9v.9h-.9zM54.4 76.3h.9v.9h-.9zM53.0 82.9h.9v.9h-.9zM56.3 74.6h.9v.9h-.9zM51.4 71.8h.9v.9h-.9zM63.1 74.3h.9v.9h-.9zM44.9 72.7h.9v.9h-.9zM52.0 72.6h.9v.9h-.9zM61.1 68.5h.9v.9h-.9zM56.7 74.8h.9v.9h-.9zM44.2 75.5h.9v.9h-.9zM52.3 76.8h.9v.9h-.9zM49.6 76.2h.9v.9h-.9zM40.5 70.7h.9v.9h-.9zM58.9 78.7h.9v.9h-.9zM52.9 71.8h.9v.9h-.9zM61.1 64.2h.9v.9h-.9zM47.0 78.1h.9v.9h-.9zM57.9 69.4h.9v.9h-.9zM38.8 82.4h.9v.9h-.9zM54.1 70.3h.9v.9h-.9zM53.4 78.6h.9v.9h-.9zM33.6 81.3h.9v.9h-.9zM58.6 64.5h.9v.9h-.9zM58.8 65.9h.9v.9h-.9zM61.5 75.5h.9v.9h-.9zM69.9 70.2h.9v.9h-.9zM53.0 79.3h.9v.9h-.9zM48.2 71.7h.9v.9h-.9zM50.2 74.4h.9v.9h-.9zM44.9 77.4h.9v.9h-.9zM57.1 74.5h.9v.9h-.9zM65.8 71.8h.9v.9h-.9zM62.8 71.1h.9v.9h-.9zM58.7 65.2h.9v.9h-.9zM54.5 73.6h.9v.9h-.9zM49.3 72.1h.9v.9h-.9zM50.4 71.5h.9v.9h-.9zM36.6 73.3h.9v.9h-.9zM48.9 72.5h.9v.9h-.9zM45.1 74.6h.9v.9h-.9zM58.9 72.8h.9v.9h-.9zM49.3 81.0h.9v.9h-.9zM60.3 78.0h.9v.9h-.9zM61.7 72.2h.9v.9h-.9zM52.0 79.7h.9v.9h-.9zM48.8 74.3h.9v.9h-.9zM55.8 75.9h.9v.9h-.9zM50.9 79.2h.9v.9h-.9zM51.7 77.9h.9v.9h-.9zM61.0 76.8h.9v.9h-.9zM58.5 68.7h.9v.9h-.9zM43.2 72.6h.9v.9h-.9zM56.6 81.0h.9v.9h-.9zM43.8 76.7h.9v.9h-.9zM46.6 71.8h.9v.9h-.9zM50.9 77.8h.9v.9h-.9zM54.6 79.7h.9v.9h-.9zM45.6 79.2h.9v.9h-.9zM60.0 74.2h.9v.9h-.9zM56.6 71.6h.9v.9h-.9zM44.8 73.4h.9v.9h-.9zM48.2 88.1h.9v.9h-.9zM49.4 82.3h.9v.9h-.9zM54.5 75.8h.9v.9h-.9zM58.6 70.4h.9v.9h-.9zM59.9 75.6h.9v.9h-.9zM41.6 78.3h.9v.9h-.9zM57.1 76.2h.9v.9h-.9zM64.9 71.5h.9v.9h-.9zM56.8 77.6h.9v.9h-.9zM46.2 80.6h.9v.9h-.9zM42.1 69.6h.9v.9h-.9zM56.9 69.2h.9v.9h-.9zM52.1 67.1h.9v.9h-.9zM53.5 69.3h.9v.9h-.9zM55.6 67.3h.9v.9h-.9zM56.4 73.0h.9v.9h-.9zM53.5 74.1h.9v.9h-.9zM54.0 68.4h.9v.9h-.9zM33.8 76.4h.9v.9h-.9zM46.0 73.1h.9v.9h-.9zM56.2 65.2h.9v.9h-.9zM47.3 72.3h.9v.9h-.9zM45.1 76.7h.9v.9h-.9zM51.9 70.9h.9v.9h-.9zM45.6 78.9h.9v.9h-.9zM48.1 77.6h.9v.9h-.9zM56.4 65.6h.9v.9h-.9zM44.9 75.3h.9v.9h-.9zM55.6 77.8h.9v.9h-.9zM59.0 78.7h.9v.9h-.9zM50.2 73.8h.9v.9h-.9zM58.8 72.0h.9v.9h-.9zM60.9 66.5h.9v.9h-.9zM57.9 73.3h.9v.9h-.9zM38.2 80.3h.9v.9h-.9zM55.3 74.4h.9v.9h-.9zM44.9 73.1h.9v.9h-.9zM64.3 69.7h.9v.9h-.9zM44.0 74.7h.9v.9h-.9zM50.1 70.6h.9v.9h-.9zM46.7 79.8h.9v.9h-.9zM42.2 84.4h.9v.9h-.9zM48.9 69.9h.9v.9h-.9zM58.9 76.5h.9v.9h-.9zM45.2 78.6h.9v.9h-.9zM39.2 71.6h.9v.9h-.9zM61.4 72.6h.9v.9h-.9zM43.2 77.7h.9v.9h-.9zM59.9 73.8h.9v.9h-.9zM39.4 74.2h.9v.9h-.9zM56.1 77.7h.9v.9h-.9zM66.9 72.1h.9v.9h-.9zM49.4 74.7h.9v.9h-.9zM62.0 69.4h.9v.9h-.9zM62.8 61.1h.9v.9h-.9zM59.0 70.9h.9v.9h-.9zM56.4 77.3h.9v.9h-.9zM44.1 74.9h.9v.9h-.9zM54.8 77.0h.9v.9h-.9zM46.0 70.6h.9v.9h-.9zM38.6 87.4h.9v.9h-.9zM51.6 73.6h.9v.9h-.9zM41.8 79.8h.9v.9h-.9zM49.0 81.4h.9v.9h-.9zM59.4 74.0h.9v.9h-.9zM58.5 68.9h.9v.9h-.9zM50.6 72.1h.9v.9h-.9zM43.5 75.5h.9v.9h-.9zM51.9 81.1h.9v.9h-.9zM46.1 73.0h.9v.9h-.9zM56.2 76.0h.9v.9h-.9zM53.2 72.3h.9v.9h-.9zM56.7 75.8h.9v.9h-.9zM39.2 74.6h.9v.9h-.9zM42.7 70.1h.9v.9h-.9zM54.1 74.7h.9v.9h-.9zM53.9 70.4h.9v.9h-.9zM51.5 70.5h.9v.9h-.9zM55.9 77.4h.9v.9h-.9zM66.2 79.0h.9v.9h-.9zM47.0 73.0h.9v.9h-.9zM46.0 76.5h.9v.9h-.9zM67.9 76.4h.9v.9h-.9zM36.5 70.3h.9v.9h-.9zM43.3 77.7h.9v.9h-.9zM53.0 75.9h.9v.9h-.9zM66.4 69.5h.9v.9h-.9zM46.6 84.0h.9v.9h-.9zM55.6 70.7h.9v.9h-.9zM37.8 69.0h.9v.9h-.9zM34.7 76.5h.9v.9h-.9zM53.3 79.0h.9v.9h-.9zM52.0 71.4h.9v.9h-.9zM47.4 83.7h.9v.9h-.9zM39.8 76.5h.9v.9h-.9zM53.2 77.3h.9v.9h-.9zM50.0 77.0h.9v.9h-.9zM59.1 73.3h.9v.9h-.9zM49.6 74.0h.9v.9h-.9zM45.8 74.2h.9v.9h-.9zM50.7 75.7h.9v.9h-.9zM63.0 79.5h.9v.9h-.9zM49.7 77.5h.9v.9h-.9zM55.2 77.8h.9v.9h-.9zM53.2 75.7h.9v.9h-.9zM49.5 71.3h.9v.9h-.9zM59.5 79.8h.9v.9h-.9zM58.0 76.0h.9v.9h-.9zM55.0 72.3h.9v.9h-.9zM39.6 78.7h.9v.9h-.9zM54.5 71.8h.9v.9h-.9zM45.8 81.0h.9v.9h-.9zM39.5 83.8h.9v.9h-.9zM57.8 84.8h.9v.9h-.9zM47.6 74.9h.9v.9h-.9zM49.2 75.6h.9v.9h-.9zM51.4 71.2h.9v.9h-.9zM61.1 70.2h.9v.9h-.9zM49.2 77.4h.9v.9h-.9zM49.0 72.9h.9v.9h-.9zM55.7 72.6h.9v.9h-.9zM43.7 74.9h.9v.9h-.9zM51.4 82.4h.9v.9h-.9zM44.8 79.7h.9v.9h-.9zM47.1 73.4h.9v.9h-.9zM50.5 76.0h.9v.9h-.9zM59.5 81.9h.9v.9h-.9zM48.2 81.0h.9v.9h-.9zM60.5 77.5h.9v.9h-.9zM47.3 79.1h.9v.9h-.9zM52.2 76.2h.9v.9h-.9zM51.0 77.7h.9v.9h-.9zM61.4 78.9h.9v.9h-.9zM51.5 79.2h.9v.9h-.9zM63.9 69.2h.9v.9h-.9zM64.0 67.4h.9v.9h-.9zM57.1 76.8h.9v.9h-.9zM64.1 74.7h.9v.9h-.9zM49.4 71.2h.9v.9h-.9zM43.6 78.8h.9v.9h-.9zM51.2 71.4h.9v.9h-.9zM57.0 70.7h.9v.9h-.9zM49.7 72.7h.9v.9h-.9zM65.4 80.0h.9v.9h-.9zM51.8 67.5h.9v.9h-.9zM55.1 74.6h.9v.9h-.9zM55.6 76.8h.9v.9h-.9zM50.6 78.9h.9v.9h-.9zM59.3 74.9h.9v.9h-.9zM50.0 72.6h.9v.9h-.9zM58.2 69.0h.9v.9h-.9zM51.8 71.2h.9v.9h-.9zM42.5 78.2h.9v.9h-.9zM52.8 74.7h.9v.9h-.9zM59.6 67.1h.9v.9h-.9zM52.5 75.9h.9v.9h-.9zM59.2 69.0h.9v.9h-.9zM58.4 75.0h.9v.9h-.9zM63.2 78.7h.9v.9h-.9zM57.1 83.9h.9v.9h-.9zM53.0 72.6h.9v.9h-.9zM50.4 70.5h.9v.9h-.9zM52.8 66.0h.9v.9h-.9zM52.4 76.5h.9v.9h-.9zM60.4 72.2h.9v.9h-.9zM63.4 70.6h.9v.9h-.9zM52.0 66.1h.9v.9h-.9zM47.3 71.4h.9v.9h-.9zM63.9 75.8h.9v.9h-.9zM44.9 77.6h.9v.9h-.9zM56.5 73.1h.9v.9h-.9zM53.2 73.1h.9v.9h-.9zM49.0 67.0h.9v.9h-.9zM52.3 80.3h.9v.9h-.9zM63.5 72.3h.9v.9h-.9zM47.5 74.1h.9v.9h-.9zM59.6 75.5h.9v.9h-.9zM48.7 76.5h.9v.9h-.9zM51.5 76.9h.9v.9h-.9zM50.0 68.2h.9v.9h-.9zM53.4 77.8h.9v.9h-.9zM44.9 74.8h.9v.9h-.9zM59.4 72.2h.9v.9h-.9zM48.2 83.9h.9v.9h-.9zM59.1 78.5h.9v.9h-.9zM46.1 82.4h.9v.9h-.9zM40.9 73.3h.9v.9h-.9zM58.4 79.9h.9v.9h-.9zM46.2 72.2h.9v.9h-.9zM54.4 65.8h.9v.9h-.9zM57.7 76.5h.9v.9h-.9zM49.7 77.2h.9v.9h-.9zM58.7 75.3h.9v.9h-.9zM56.8 80.8h.9v.9h-.9zM49.5 75.5h.9v.9h-.9zM49.2 79.4h.9v.9h-.9zM50.0 76.9h.9v.9h-.9zM54.0 74.7h.9v.9h-.9zM65.5 73.0h.9v.9h-.9zM63.3 77.2h.9v.9h-.9zM62.6 72.9h.9v.9h-.9zM59.7 77.2h.9v.9h-.9zM48.5 76.1h.9v.9h-.9zM52.1 74.4h.9v.9h-.9zM62.4 70.5h.9v.9h-.9zM40.8 68.0h.9v.9h-.9zM49.7 72.0h.9v.9h-.9zM53.1 77.0h.9v.9h-.9zM65.7 74.7h.9v.9h-.9zM56.4 71.0h.9v.9h-.9zM57.2 80.1h.9v.9h-.9zM62.7 65.0h.9v.9h-.9zM59.4 80.9h.9v.9h-.9zM59.0 67.4h.9v.9h-.9zM50.8 77.3h.9v.9h-.9zM56.0 70.7h.9v.9h-.9zM46.6 79.3h.9v.9h-.9zM43.4 81.7h.9v.9h-.9zM53.1 75.8h.9v.9h-.9zM43.4 72.8h.9v.9h-.9zM58.0 67.6h.9v.9h-.9zM67.9 67.0h.9v.9h-.9zM44.2 75.5h.9v.9h-.9zM56.5 77.4h.9v.9h-.9zM50.3 73.8h.9v.9h-.9zM51.3 72.1h.9v.9h-.9zM34.4 80.4h.9v.9h-.9zM54.8 75.0h.9v.9h-.9zM48.5 76.0h.9v.9h-.9zM52.9 74.2h.9v.9h-.9zM61.0 66.2h.9v.9h-.9zM54.8 69.7h.9v.9h-.9zM50.7 81.3h.9v.9h-.9zM45.2 74.8h.9v.9h-.9zM48.7 79.0h.9v.9h-.9zM45.9 67.8h.9v.9h-.9zM56.7 72.6h.9v.9h-.9zM50.7 79.4h.9v.9h-.9zM46.6 73.5h.9v.9h-.9zM54.1 76.2h.9v.9h-.9zM49.3 79.4h.9v.9h-.9zM69.1 71.2h.9v.9h-.9zM66.5 64.0h.9v.9h-.9zM63.1 72.1h.9v.9h-.9zM54.0 72.9h.9v.9h-.9zM48.4 69.3h.9v.9h-.9zM50.2 80.4h.9v.9h-.9zM61.2 72.2h.9v.9h-.9zM49.2 71.8h.9v.9h-.9zM44.4 83.2h.9v.9h-.9zM57.8 74.6h.9v.9h-.9zM49.5 70.4h.9v.9h-.9zM62.5 77.0h.9v.9h-.9zM46.1 79.5h.9v.9h-.9zM45.0 78.0h.9v.9h-.9zM46.1 73.3h.9v.9h-.9zM56.6 76.1h.9v.9h-.9zM60.3 70.2h.9v.9h-.9zM64.4 79.3h.9v.9h-.9zM52.9 76.5h.9v.9h-.9zM47.4 74.4h.9v.9h-.9zM43.5 75.8h.9v.9h-.9zM54.4 80.2h.9v.9h-.9zM59.8 77.4h.9v.9h-.9zM50.4 73.8h.9v.9h-.9zM50.5 75.7h.9v.9h-.9zM39.1 79.1h.9v.9h-.9zM41.7 73.3h.9v.9h-.9zM53.2 72.2h.9v.9h-.9zM65.0 73.0h.9v.9h-.9zM64.3 78.6h.9v.9h-.9zM49.4 76.6h.9v.9h-.9zM62.3 72.2h.9v.9h-.9zM53.6 72.0h.9v.9h-.9zM53.4 72.9h.9v.9h-.9zM53.6 78.8h.9v.9h-.9zM63.0 74.2h.9v.9h-.9zM54.5 78.1h.9v.9h-.9zM50.9 70.1h.9v.9h-.9zM61.0 69.7h.9v.9h-.9zM59.7 69.7h.9v.9h-.9zM66.2 68.7h.9v.9h-.9zM59.1 80.5h.9v.9h-.9zM46.1 81.6h.9v.9h-.9zM47.1 67.3h.9v.9h-.9zM58.2 77.1h.9v.9h-.9zM51.5 63.6h.9v.9h-.9zM52.6 73.2h.9v.9h-.9zM50.3 73.5h.9v.9h-.9zM40.1 73.2h.9v.9h-.9zM66.0 80.1h.9v.9h-.9zM50.4 71.6h.9v.9h-.9zM55.9 78.9h.9v.9h-.9zM58.2 68.9h.9v.9h-.9zM54.2 75.0h.9v.9h-.9zM63.4 78.8h.9v.9h-.9zM56.8 79.5h.9v.9h-.9zM50.2 81.5h.9v.9h-.9zM49.9 76.5h.9v.9h-.9zM59.6 69.9h.9v.9h-.9zM47.9 67.3h.9v.9h-.9zM54.2 74.2h.9v.9h-.9zM50.6 76.9h.9v.9h-.9zM37.8 75.8h.9v.9h-.9zM53.6 73.3h.9v.9h-.9zM58.7 81.6h.9v.9h-.9zM49.8 70.7h.9v.9h-.9zM48.6 75.3h.9v.9h-.9zM57.2 70.4h.9v.9h-.9zM60.2 69.4h.9v.9h-.9zM59.0 75.8h.9v.9h-.9zM56.3 83.6h.9v.9h-.9zM51.1 74.0h.9v.9h-.9zM56.4 78.0h.9v.9h-.9zM43.4 76.6h.9v.9h-.9zM47.7 77.7h.9v.9h-.9zM62.9 73.8h.9v.9h-.9zM52.2 75.4h.9v.9h-.9zM31.7 79.8h.9v.9h-.9zM57.0 74.8h.9v.9h-.9zM50.1 71.6h.9v.9h-.9zM51.7 79.9h.9v.9h-.9zM52.3 80.5h.9v.9h-.9zM34.5 74.2h.9v.9h-.9zM55.0 74.3h.9v.9h-.9zM41.0 72.7h.9v.9h-.9zM62.0 68.0h.9v.9h-.9zM45.9 70.4h.9v.9h-.9zM49.0 77.7h.9v.9h-.9zM57.3 65.2h.9v.9h-.9zM63.5 70.9h.9v.9h-.9zM48.8 82.2h.9v.9h-.9zM52.4 69.1h.9v.9h-.9zM48.4 71.8h.9v.9h-.9zM45.7 73.7h.9v.9h-.9zM59.3 75.4h.9v.9h-.9zM43.1 87.6h.9v.9h-.9zM45.9 75.7h.9v.9h-.9zM53.2 77.8h.9v.9h-.9zM50.6 76.7h.9v.9h-.9zM68.2 73.5h.9v.9h-.9zM45.2 76.7h.9v.9h-.9zM47.2 73.4h.9v.9h-.9zM54.4 75.8h.9v.9h-.9zM51.0 78.4h.9v.9h-.9zM51.6 68.9h.9v.9h-.9zM59.3 72.3h.9v.9h-.9zM61.7 70.8h.9v.9h-.9zM57.1 75.5h.9v.9h-.9zM33.6 69.8h.9v.9h-.9zM44.9 81.4h.9v.9h-.9zM39.4 79.7h.9v.9h-.9zM60.9 75.9h.9v.9h-.9zM57.9 71.9h.9v.9h-.9zM52.9 75.5h.9v.9h-.9zM56.0 77.3h.9v.9h-.9zM51.5 71.6h.9v.9h-.9zM49.0 76.7h.9v.9h-.9zM41.0 70.1h.9v.9h-.9zM50.0 72.4h.9v.9h-.9zM51.1 63.1h.9v.9h-.9zM50.5 73.6h.9v.9h-.9zM58.6 65.3h.9v.9h-.9zM50.8 76.8h.9v.9h-.9zM56.5 79.4h.9v.9h-.9zM60.6 69.2h.9v.9h-.9zM57.6 72.6h.9v.9h-.9zM47.2 81.7h.9v.9h-.9zM48.5 71.2h.9v.9h-.9zM50.1 71.0h.9v.9h-.9zM60.3 75.5h.9v.9h-.9zM63.1 75.4h.9v.9h-.9zM48.6 79.5h.9v.9h-.9zM48.3 72.9h.9v.9h-.9zM51.8 74.8h.9v.9h-.9zM61.6 71.1h.9v.9h-.9zM55.5 74.1h.9v.9h-.9zM43.9 70.5h.9v.9h-.9zM51.4 76.4h.9v.9h-.9zM55.3 76.4h.9v.9h-.9zM53.4 72.5h.9v.9h-.9zM56.1 69.8h.9v.9h-.9zM43.3 73.9h.9v.9h-.9zM42.7 73.2h.9v.9h-.9zM47.6 72.6h.9v.9h-.9zM52.7 71.0h.9v.9h-.9zM49.9 67.3h.9v.9h-.9zM54.0 70.5h.9v.9h-.9zM55.9 61.8h.9v.9h-.9zM47.2 76.1h.9v.9h-.9zM35.4 74.5h.9v.9h-.9zM53.7 74.9h.9v.9h-.9zM42.2 76.5h.9v.9h-.9zM54.1 70.1h.9v.9h-.9zM58.4 73.8h.9v.9h-.9zM53.1 72.5h.9v.9h-.9zM57.0 74.6h.9v.9h-.9zM61.2 75.7h.9v.9h-.9zM48.5 73.9h.9v.9h-.9zM59.6 72.3h.9v.9h-.9zM55.8 76.5h.9v.9h-.9zM51.7 64.4h.9v.9h-.9zM54.0 75.4h.9v.9h-.9zM54.0 71.1h.9v.9h-.9zM61.8 73.1h.9v.9h-.9zM48.5 71.8h.9v.9h-.9zM55.6 69.5h.9v.9h-.9zM45.7 84.0h.9v.9h-.9zM62.5 78.3h.9v.9h-.9zM62.9 76.2h.9v.9h-.9zM40.8 80.9h.9v.9h-.9zM62.0 75.8h.9v.9h-.9zM38.8 81.3h.9v.9h-.9zM62.9 71.4h.9v.9h-.9zM53.9 77.8h.9v.9h-.9zM52.4 79.4h.9v.9h-.9zM53.6 77.5h.9v.9h-.9zM53.6 67.9h.9v.9h-.9zM45.8 89.1h.9v.9h-.9zM55.0 80.1h.9v.9h-.9zM61.3 81.3h.9v.9h-.9zM57.0 71.5h.9v.9h-.9zM53.1 66.0h.9v.9h-.9zM51.6 78.6h.9v.9h-.9zM37.3 76.8h.9v.9h-.9zM59.0 79.8h.9v.9h-.9zM46.3 72.2h.9v.9h-.9zM39.4 71.3h.9v.9h-.9zM56.9 83.3h.9v.9h-.9zM44.7 81.4h.9v.9h-.9zM56.1 72.0h.9v.9h-.9zM69.0 61.9h.9v.9h-.9zM52.5 75.5h.9v.9h-.9zM68.5 81.0h.9v.9h-.9zM69.5 73.6h.9v.9h-.9zM60.1 79.9h.9v.9h-.9zM56.7 75.7h.9v.9h-.9zM51.7 72.8h.9v.9h-.9zM44.0 83.9h.9v.9h-.9zM49.7 65.6h.9v.9h-.9zM54.9 74.2h.9v.9h-.9zM54.3 82.4h.9v.9h-.9zM52.2 73.4h.9v.9h-.9zM47.6 74.9h.9v.9h-.9zM49.8 75.7h.9v.9h-.9zM75.8 74.1h.9v.9h-.9zM46.8 83.6h.9v.9h-.9zM59.3 77.5h.9v.9h-.9zM58.2 77.6h.9v.9h-.9zM57.9 80.3h.9v.9h-.9zM60.3 79.8h.9v.9h-.9zM49.3 74.8h.9v.9h-.9zM47.7 79.2h.9v.9h-.9zM59.1 71.9h.9v.9h-.9zM57.3 85.7h.9v.9h-.9zM62.0 68.7h.9v.9h-.9zM52.3 77.4h.9v.9h-.9zM52.7 76.2h.9v.9h-.9zM61.6 75.2h.9v.9h-.9zM45.0 78.4h.9v.9h-.9zM52.3 75.1h.9v.9h-.9zM48.9 68.8h.9v.9h-.9zM43.9 73.8h.9v.9h-.9zM45.2 63.2h.9v.9h-.9zM61.4 68.6h.9v.9h-.9zM47.7 77.3h.9v.9h-.9zM35.4 82.1h.9v.9h-.9zM47.4 77.9h.9v.9h-.9zM49.5 76.2h.9v.9h-.9zM53.8 74.4h.9v.9h-.9zM39.7 69.2h.9v.9h-.9zM52.7 80.8h.9v.9h-.9zM49.0 77.2h.9v.9h-.9zM54.2 76.5h.9v.9h-.9zM60.2 67.2h.9v.9h-.9zM55.0 73.5h.9v.9h-.9zM50.7 70.9h.9v.9h-.9zM47.3 70.5h.9v.9h-.9zM45.0 86.4h.9v.9h-.9zM65.4 73.4h.9v.9h-.9zM58.4 69.7h.9v.9h-.9zM32.7 68.3h.9v.9h-.9zM54.0 80.8h.9v.9h-.9zM52.7 70.1h.9v.9h-.9zM51.2 70.2h.9v.9h-.9zM42.8 74.4h.9v.9h-.9zM50.1 71.2h.9v.9h-.9zM46.5 71.0h.9v.9h-.9zM54.7 80.5h.9v.9h-.9zM51.5 84.5h.9v.9h-.9zM41.2 76.8h.9v.9h-.9zM44.5 74.6h.9v.9h-.9zM53.7 76.9h.9v.9h-.9zM61.3 71.3h.9v.9h-.9zM43.9 74.5h.9v.9h-.9zM55.1 71.2h.9v.9h-.9zM59.5 81.4h.9v.9h-.9zM42.6 77.1h.9v.9h-.9zM60.4 65.3h.9v.9h-.9zM54.5 73.4h.9v.9h-.9zM42.6 81.3h.9v.9h-.9zM54.6 72.2h.9v.9h-.9zM56.2 77.1h.9v.9h-.9zM58.6 76.6h.9v.9h-.9zM56.0 69.0h.9v.9h-.9zM49.9 75.4h.9v.9h-.9zM32.8 85.8h.9v.9h-.9zM50.2 70.1h.9v.9h-.9zM39.7 76.8h.9v.9h-.9zM53.2 71.9h.9v.9h-.9zM50.0 70.8h.9v.9h-.9zM47.5 74.6h.9v.9h-.9zM48.3 77.9h.9v.9h-.9zM52.0 75.2h.9v.9h-.9zM56.0 79.9h.9v.9h-.9zM57.4 75.1h.9v.9h-.9zM51.8 71.0h.9v.9h-.9zM50.5 77.8h.9v.9h-.9zM54.7 72.6h.9v.9h-.9zM43.3 68.6h.9v.9h-.9zM55.4 78.8h.9v.9h-.9zM55.7 68.2h.9v.9h-.9zM51.4 75.6h.9v.9h-.9zM46.3 76.7h.9v.9h-.9zM51.5 70.9h.9v.9h-.9zM43.9 78.9h.9v.9h-.9zM55.6 70.3h.9v.9h-.9zM45.6 79.1h.9v.9h-.9zM57.4 72.7h.9v.9h-.9zM64.6 72.1h.9v.9h-.9zM45.3 80.0h.9v.9h-.9zM51.6 76.2h.9v.9h-.9zM53.3 70.0h.9v.9h-.9zM44.3 74.4h.9v.9h-.9zM63.3 69.1h.9v.9h-.9zM62.9 74.6h.9v.9h-.9zM44.9 76.4h.9v.9h-.9zM57.1 70.1h.9v.9h-.9zM37.4 77.5h.9v.9h-.9zM44.9 77.2h.9v.9h-.9zM39.0 75.2h.9v.9h-.9zM47.1 68.5h.9v.9h-.9zM51.2 75.4h.9v.9h-.9zM48.9 69.6h.9v.9h-.9zM54.5 66.6h.9v.9h-.9zM56.9 76.3h.9v.9h-.9zM65.2 77.3h.9v.9h-.9zM55.6 75.4h.9v.9h-.9zM53.2 68.6h.9v.9h-.9zM63.7 75.8h.9v.9h-.9zM50.9 69.6h.9v.9h-.9zM63.8 75.9h.9v.9h-.9zM44.4 78.3h.9v.9h-.9zM66.8 73.1h.9v.9h-.9zM55.9 72.4h.9v.9h-.9zM48.4 79.7h.9v.9h-.9zM75.4 73.0h.9v.9h-.9zM52.1 78.1h.9v.9h-.9zM50.8 77.9h.9v.9h-.9zM59.0 69.5h.9v.9h-.9zM45.2 74.9h.9v.9h-.9zM59.1 75.2h.9v.9h-.9zM62.0 67.6h.9v.9h-.9zM56.6 71.4h.9v.9h-.9zM53.7 75.9h.9v.9h-.9zM45.9 74.1h.9v.9h-.9zM44.5 76.5h.9v.9h-.9zM46.8 72.9h.9v.9h-.9zM54.6 71.5h.9v.9h-.9zM61.4 70.9h.9v.9h-.9zM59.2 75.2h.9v.9h-.9zM45.5 74.2h.9v.9h-.9zM46.9 73.5h.9v.9h-.9zM51.0 82.7h.9v.9h-.9zM50.0 81.7h.9v.9h-.9zM56.3 68.4h.9v.9h-.9zM36.2 79.0h.9v.9h-.9zM38.5 79.0h.9v.9h-.9zM60.5 75.5h.9v.9h-.9zM51.5 73.5h.9v.9h-.9zM54.9 73.0h.9v.9h-.9zM49.1 73.2h.9v.9h-.9zM61.5 71.0h.9v.9h-.9zM55.8 69.2h.9v.9h-.9zM47.8 68.9h.9v.9h-.9zM51.6 77.6h.9v.9h-.9zM55.2 72.1h.9v.9h-.9zM57.4 72.6h.9v.9h-.9zM55.7 75.5h.9v.9h-.9zM56.9 63.2h.9v.9h-.9zM43.5 78.8h.9v.9h-.9zM52.2 84.4h.9v.9h-.9zM51.3 72.2h.9v.9h-.9zM63.8 75.9h.9v.9h-.9zM66.8 75.5h.9v.9h-.9zM51.5 77.8h.9v.9h-.9zM47.3 73.1h.9v.9h-.9zM49.0 73.9h.9v.9h-.9zM58.7 71.9h.9v.9h-.9zM55.3 72.1h.9v.9h-.9zM59.4 61.8h.9v.9h-.9zM51.5 75.4h.9v.9h-.9zM45.2 79.7h.9v.9h-.9zM54.6 80.0h.9v.9h-.9zM60.0 76.7h.9v.9h-.9zM51.9 69.8h.9v.9h-.9zM51.4 72.6h.9v.9h-.9zM54.8 72.3h.9v.9h-.9zM75.2 65.4h.9v.9h-.9zM61.5 71.7h.9v.9h-.9zM51.2 78.7h.9v.9h-.9zM53.0 69.2h.9v.9h-.9zM56.0 73.4h.9v.9h-.9zM38.1 76.7h.9v.9h-.9zM45.4 71.9h.9v.9h-.9zM56.5 75.5h.9v.9h-.9zM50.9 84.2h.9v.9h-.9zM56.0 71.5h.9v.9h-.9zM54.7 73.8h.9v.9h-.9zM37.0 69.0h.9v.9h-.9zM42.9 84.5h.9v.9h-.9zM51.7 73.4h.9v.9h-.9zM48.9 79.2h.9v.9h-.9zM53.2 82.0h.9v.9h-.9zM58.7 81.2h.9v.9h-.9zM52.2 76.2h.9v.9h-.9zM49.9 74.0h.9v.9h-.9zM40.5 73.1h.9v.9h-.9zM46.1 72.3h.9v.9h-.9zM61.8 74.8h.9v.9h-.9zM61.9 77.4h.9v.9h-.9zM59.7 78.3h.9v.9h-.9zM48.6 78.4h.9v.9h-.9zM50.7 72.4h.9v.9h-.9zM61.6 83.2h.9v.9h-.9zM45.9 82.8h.9v.9h-.9zM59.0 70.2h.9v.9h-.9zM55.0 75.9h.9v.9h-.9zM55.7 72.7h.9v.9h-.9zM43.7 75.5h.9v.9h-.9zM59.2 77.4h.9v.9h-.9zM57.8 78.9h.9v.9h-.9zM45.8 75.0h.9v.9h-.9zM55.5 78.7h.9v.9h-.9zM54.1 76.7h.9v.9h-.9zM54.0 83.6h.9v.9h-.9zM37.2 75.8h.9v.9h-.9zM70.9 73.9h.9v.9h-.9zM39.8 76.3h.9v.9h-.9zM42.6 72.5h.9v.9h-.9zM54.6 81.9h.9v.9h-.9zM56.3 77.1h.9v.9h-.9zM60.4 74.7h.9v.9h-.9zM46.8 74.6h.9v.9h-.9zM55.4 73.1h.9v.9h-.9zM48.2 73.4h.9v.9h-.9zM42.2 71.0h.9v.9h-.9zM52.3 73.0h.9v.9h-.9zM53.3 80.6h.9v.9h-.9zM55.2 74.2h.9v.9h-.9zM44.5 70.6h.9v.9h-.9zM55.7 70.4h.9v.9h-.9zM56.1 69.5h.9v.9h-.9zM54.0 74.1h.9v.9h-.9zM60.2 72.1h.9v.9h-.9zM50.3 75.8h.9v.9h-.9zM53.4 81.9h.9v.9h-.9zM51.1 72.3h.9v.9h-.9zM50.7 76.8h.9v.9h-.9zM54.7 77.4h.9v.9h-.9zM43.0 86.3h.9v.9h-.9zM66.3 73.1h.9v.9h-.9zM44.3 76.0h.9v.9h-.9zM56.0 64.5h.9v.9h-.9zM53.1 68.0h.9v.9h-.9zM56.3 80.2h.9v.9h-.9zM60.5 67.2h.9v.9h-.9zM63.0 77.5h.9v.9h-.9zM50.4 76.9h.9v.9h-.9zM64.0 72.0h.9v.9h-.9zM52.9 72.1h.9v.9h-.9zM61.3 64.3h.9v.9h-.9zM63.2 69.3h.9v.9h-.9zM59.7 66.8h.9v.9h-.9zM46.2 72.5h.9v.9h-.9zM59.0 66.9h.9v.9h-.9zM57.4 71.3h.9v.9h-.9zM62.0 72.3h.9v.9h-.9zM56.5 73.4h.9v.9h-.9zM65.9 71.7h.9v.9h-.9zM52.8 83.2h.9v.9h-.9zM53.6 77.5h.9v.9h-.9zM47.7 75.9h.9v.9h-.9zM36.6 76.5h.9v.9h-.9zM48.3 68.4h.9v.9h-.9zM42.8 80.4h.9v.9h-.9zM56.1 67.6h.9v.9h-.9zM66.1 70.3h.9v.9h-.9zM50.3 75.8h.9v.9h-.9zM44.8 68.2h.9v.9h-.9zM47.6 80.2h.9v.9h-.9zM59.9 67.0h.9v.9h-.9zM61.7 73.8h.9v.9h-.9zM56.6 74.4h.9v.9h-.9zM56.0 69.8h.9v.9h-.9zM46.4 72.0h.9v.9h-.9zM50.3 77.5h.9v.9h-.9zM44.2 82.3h.9v.9h-.9zM48.4 72.3h.9v.9h-.9zM58.1 75.9h.9v.9h-.9zM50.6 70.0h.9v.9h-.9zM45.8 68.2h.9v.9h-.9zM61.3 78.5h.9v.9h-.9zM66.5 75.4h.9v.9h-.9zM55.4 77.6h.9v.9h-.9zM59.9 72.7h.9v.9h-.9zM55.5 83.7h.9v.9h-.9zM40.8 69.5h.9v.9h-.9zM46.0 78.4h.9v.9h-.9zM61.6 72.2h.9v.9h-.9zM57.8 73.8h.9v.9h-.9zM55.2 71.9h.9v.9h-.9zM52.8 74.5h.9v.9h-.9zM61.2 83.5h.9v.9h-.9zM39.9 78.0h.9v.9h-.9zM53.0 78.7h.9v.9h-.9zM60.7 77.2h.9v.9h-.9zM58.8 69.8h.9v.9h-.9zM40.7 82.9h.9v.9h-.9zM61.7 69.5h.9v.9h-.9zM62.3 76.6h.9v.9h-.9zM35.3 80.1h.9v.9h-.9zM45.9 80.3h.9v.9h-.9zM48.1 71.7h.9v.9h-.9zM41.8 74.6h.9v.9h-.9zM60.4 70.9h.9v.9h-.9zM39.6 85.1h.9v.9h-.9zM66.3 76.3h.9v.9h-.9zM49.1 69.5h.9v.9h-.9zM41.2 78.0h.9v.9h-.9zM62.4 69.0h.9v.9h-.9zM53.0 73.3h.9v.9h-.9zM51.1 76.9h.9v.9h-.9zM68.1 70.3h.9v.9h-.9zM59.1 78.7h.9v.9h-.9zM50.9 74.0h.9v.9h-.9zM43.3 80.1h.9v.9h-.9zM49.2 72.0h.9v.9h-.9zM53.5 70.7h.9v.9h-.9zM45.5 73.9h.9v.9h-.9zM63.7 72.6h.9v.9h-.9zM56.8 67.7h.9v.9h-.9zM38.9 83.8h.9v.9h-.9zM50.1 68.0h.9v.9h-.9zM52.2 77.2h.9v.9h-.9zM40.5 71.8h.9v.9h-.9zM54.9 70.3h.9v.9h-.9zM58.8 78.2h.9v.9h-.9zM56.2 72.3h.9v.9h-.9zM52.7 71.8h.9v.9h-.9zM52.1 76.0h.9v.9h-.9zM50.8 79.0h.9v.9h-.9zM71.8 70.4h.9v.9h-.9zM55.5 77.9h.9v.9h-.9zM57.7 73.0h.9v.9h-.9zM49.5 79.2h.9v.9h-.9zM57.5 76.3h.9v.9h-.9zM47.2 77.8h.9v.9h-.9zM58.8 73.2h.9v.9h-.9zM57.7 83.6h.9v.9h-.9zM39.4 78.4h.9v.9h-.9zM44.5 69.3h.9v.9h-.9zM51.3 77.1h.9v.9h-.9zM53.4 69.3h.9v.9h-.9zM42.6 73.0h.9v.9h-.9zM53.1 70.8h.9v.9h-.9zM42.1 83.2h.9v.9h-.9zM46.9 74.4h.9v.9h-.9zM49.0 72.3h.9v.9h-.9zM53.3 73.2h.9v.9h-.9zM57.5 68.9h.9v.9h-.9zM42.2 84.1h.9v.9h-.9zM52.5 77.9h.9v.9h-.9zM61.6 76.2h.9v.9h-.9zM53.3 67.6h.9v.9h-.9zM41.4 79.9h.9v.9h-.9zM57.9 76.6h.9v.9h-.9zM41.0 66.2h.9v.9h-.9zM45.3 70.0h.9v.9h-.9zM54.2 69.9h.9v.9h-.9zM64.5 70.7h.9v.9h-.9zM48.9 78.7h.9v.9h-.9zM55.4 70.3h.9v.9h-.9zM59.0 82.4h.9v.9h-.9zM44.1 74.2h.9v.9h-.9zM45.2 66.7h.9v.9h-.9zM57.6 77.2h.9v.9h-.9zM60.1 75.7h.9v.9h-.9zM38.3 75.7h.9v.9h-.9zM48.1 69.8h.9v.9h-.9zM44.9 78.6h.9v.9h-.9zM50.8 83.4h.9v.9h-.9zM56.4 65.8h.9v.9h-.9zM59.5 79.4h.9v.9h-.9zM53.2 69.1h.9v.9h-.9zM65.9 67.5h.9v.9h-.9zM52.4 66.1h.9v.9h-.9zM43.9 67.8h.9v.9h-.9zM60.9 79.0h.9v.9h-.9zM50.0 68.8h.9v.9h-.9zM52.6 76.2h.9v.9h-.9zM41.9 70.4h.9v.9h-.9zM52.3 77.7h.9v.9h-.9zM53.5 76.4h.9v.9h-.9zM43.9 64.3h.9v.9h-.9zM55.3 70.2h.9v.9h-.9zM52.1 72.9h.9v.9h-.9zM56.5 70.8h.9v.9h-.9zM63.6 73.7h.9v.9h-.9zM56.9 76.9h.9v.9h-.9zM60.6 75.6h.9v.9h-.9zM40.2 72.9h.9v.9h-.9zM66.6 75.3h.9v.9h-.9zM57.1 76.2h.9v.9h-.9zM48.3 71.9h.9v.9h-.9zM48.3 80.1h.9v.9h-.9zM55.7 82.2h.9v.9h-.9zM56.7 82.6h.9v.9h-.9zM56.4 68.9h.9v.9h-.9zM65.8 74.8h.9v.9h-.9zM61.7 74.7h.9v.9h-.9zM50.6 75.5h.9v.9h-.9zM44.8 69.9h.9v.9h-.9zM46.5 72.8h.9v.9h-.9zM43.0 75.0h.9v.9h-.9zM55.2 83.3h.9v.9h-.9zM66.5 73.0h.9v.9h-.9zM59.5 72.9h.9v.9h-.9zM55.9 74.1h.9v.9h-.9zM49.0 75.2h.9v.9h-.9zM42.1 77.5h.9v.9h-.9zM50.9 69.9h.9v.9h-.9zM50.3 77.2h.9v.9h-.9zM48.0 77.1h.9v.9h-.9zM57.2 81.1h.9v.9h-.9zM45.0 74.7h.9v.9h-.9zM56.8 80.9h.9v.9h-.9zM54.9 77.7h.9v.9h-.9zM42.2 72.9h.9v.9h-.9zM65.3 72.1h.9v.9h-.9zM69.0 69.8h.9v.9h-.9zM50.9 67.5h.9v.9h-.9zM57.7 75.3h.9v.9h-.9zM67.9 73.9h.9v.9h-.9zM51.1 68.4h.9v.9h-.9zM52.4 78.8h.9v.9h-.9zM58.5 79.5h.9v.9h-.9zM59.4 73.7h.9v.9h-.9zM57.5 74.9h.9v.9h-.9zM43.1 83.1h.9v.9h-.9zM55.8 69.5h.9v.9h-.9zM55.9 75.5h.9v.9h-.9zM60.4 80.3h.9v.9h-.9zM64.3 69.2h.9v.9h-.9zM39.2 77.0h.9v.9h-.9zM55.5 75.8h.9v.9h-.9zM44.8 73.2h.9v.9h-.9zM54.4 77.7h.9v.9h-.9zM69.3 74.3h.9v.9h-.9zM48.5 64.3h.9v.9h-.9zM61.0 73.2h.9v.9h-.9zM54.9 68.7h.9v.9h-.9zM63.6 62.5h.9v.9h-.9zM57.1 74.4h.9v.9h-.9zM59.1 80.6h.9v.9h-.9zM55.0 74.7h.9v.9h-.9zM64.9 63.6h.9v.9h-.9zM53.0 75.0h.9v.9h-.9zM65.9 67.5h.9v.9h-.9zM64.4 74.5h.9v.9h-.9zM40.5 68.8h.9v.9h-.9zM41.1 77.8h.9v.9h-.9zM58.2 77.6h.9v.9h-.9zM64.6 69.2h.9v.9h-.9zM67.2 76.3h.9v.9h-.9zM60.9 75.7h.9v.9h-.9zM42.6 78.7h.9v.9h-.9zM45.2 69.5h.9v.9h-.9zM52.4 75.5h.9v.9h-.9zM55.4 72.3h.9v.9h-.9zM45.6 77.1h.9v.9h-.9zM48.3 67.7h.9v.9h-.9zM57.0 81.9h.9v.9h-.9zM51.8 68.9h.9v.9h-.9zM70.5 80.7h.9v.9h-.9zM52.9 73.4h.9v.9h-.9zM58.2 90.1h.9v.9h-.9zM57.4 79.3h.9v.9h-.9zM60.6 62.9h.9v.9h-.9zM44.5 69.4h.9v.9h-.9zM60.5 73.7h.9v.9h-.9zM74.7 68.7h.9v.9h-.9zM59.2 73.8h.9v.9h-.9zM57.5 86.7h.9v.9h-.9zM59.0 81.6h.9v.9h-.9zM69.6 67.9h.9v.9h-.9zM63.2 70.4h.9v.9h-.9zM57.1 74.7h.9v.9h-.9zM56.2 71.3h.9v.9h-.9zM72.3 69.3h.9v.9h-.9zM63.4 81.9h.9v.9h-.9zM62.6 78.4h.9v.9h-.9zM70.5 77.2h.9v.9h-.9zM74.0 62.4h.9v.9h-.9zM76.5 70.1h.9v.9h-.9zM37.7 74.1h.9v.9h-.9zM41.4 76.8h.9v.9h-.9zM40.4 71.5h.9v.9h-.9zM59.1 74.3h.9v.9h-.9zM47.6 74.4h.9v.9h-.9zM55.0 74.6h.9v.9h-.9zM55.9 72.8h.9v.9h-.9zM65.2 63.1h.9v.9h-.9zM50.8 75.8h.9v.9h-.9zM51.8 71.7h.9v.9h-.9zM51.4 76.1h.9v.9h-.9zM69.1 70.3h.9v.9h-.9zM53.2 76.6h.9v.9h-.9zM53.5 63.6h.9v.9h-.9zM58.8 71.3h.9v.9h-.9zM50.0 78.7h.9v.9h-.9zM56.5 70.7h.9v.9h-.9zM33.2 68.9h.9v.9h-.9zM56.1 73.3h.9v.9h-.9zM60.6 74.3h.9v.9h-.9zM51.0 67.9h.9v.9h-.9zM44.5 75.5h.9v.9h-.9zM43.9 80.7h.9v.9h-.9zM42.1 66.7h.9v.9h-.9zM54.0 64.4h.9v.9h-.9zM73.1 65.0h.9v.9h-.9zM55.5 72.7h.9v.9h-.9zM47.4 65.8h.9v.9h-.9zM36.5 82.8h.9v.9h-.9zM66.7 84.0h.9v.9h-.9zM40.6 80.2h.9v.9h-.9zM55.9 78.8h.9v.9h-.9zM50.6 79.1h.9v.9h-.9zM65.4 75.5h.9v.9h-.9zM71.2 70.0h.9v.9h-.9zM72.2 66.8h.9v.9h-.9zM73.5 55.1h.9v.9h-.9zM56.1 69.5h.9v.9h-.9zM56.0 79.8h.9v.9h-.9zM63.5 73.0h.9v.9h-.9zM73.9 62.1h.9v.9h-.9zM47.5 84.2h.9v.9h-.9zM59.4 61.7h.9v.9h-.9zM59.6 66.6h.9v.9h-.9zM71.5 77.3h.9v.9h-.9zM50.3 82.4h.9v.9h-.9zM47.2 80.9h.9v.9h-.9zM62.1 72.1h.9v.9h-.9zM41.1 75.4h.9v.9h-.9zM32.0 75.6h.9v.9h-.9zM36.6 84.7h.9v.9h-.9zM45.9 62.4h.9v.9h-.9zM62.1 74.8h.9v.9h-.9zM50.7 87.0h.9v.9h-.9zM64.1 72.7h.9v.9h-.9zM49.2 58.7h.9v.9h-.9zM61.0 78.4h.9v.9h-.9zM49.8 67.3h.9v.9h-.9zM55.6 64.7h.9v.9h-.9zM56.1 78.3h.9v.9h-.9zM71.9 72.3h.9v.9h-.9zM58.1 77.8h.9v.9h-.9zM70.7 69.3h.9v.9h-.9zM43.1 72.1h.9v.9h-.9zM42.8 71.6h.9v.9h-.9zM54.7 76.2h.9v.9h-.9zM57.6 74.1h.9v.9h-.9zM52.3 77.1h.9v.9h-.9zM65.3 76.4h.9v.9h-.9zM71.7 69.2h.9v.9h-.9zM53.4 84.1h.9v.9h-.9zM58.1 75.9h.9v.9h-.9zM52.5 80.2h.9v.9h-.9zM51.8 69.2h.9v.9h-.9zM55.4 71.6h.9v.9h-.9zM64.8 70.1h.9v.9h-.9zM57.3 72.5h.9v.9h-.9zM59.6 69.7h.9v.9h-.9zM67.6 63.7h.9v.9h-.9zM52.0 70.8h.9v.9h-.9zM62.8 72.9h.9v.9h-.9zM61.1 71.1h.9v.9h-.9zM48.5 69.2h.9v.9h-.9zM52.5 71.7h.9v.9h-.9zM58.9 75.4h.9v.9h-.9zM66.3 71.3h.9v.9h-.9zM48.1 69.6h.9v.9h-.9zM56.6 75.9h.9v.9h-.9zM76.5 70.9h.9v.9h-.9zM74.5 80.8h.9v.9h-.9zM45.0 83.0h.9v.9h-.9zM67.9 79.2h.9v.9h-.9zM55.9 79.4h.9v.9h-.9zM50.9 74.6h.9v.9h-.9zM56.2 84.0h.9v.9h-.9zM53.7 79.8h.9v.9h-.9zM56.7 69.9h.9v.9h-.9zM58.5 77.2h.9v.9h-.9zM48.5 79.1h.9v.9h-.9zM48.5 70.6h.9v.9h-.9zM58.3 72.2h.9v.9h-.9zM45.7 66.9h.9v.9h-.9zM56.2 75.3h.9v.9h-.9zM51.2 76.0h.9v.9h-.9zM40.0 79.4h.9v.9h-.9zM60.4 74.7h.9v.9h-.9zM49.6 75.7h.9v.9h-.9zM57.4 79.7h.9v.9h-.9zM58.9 74.8h.9v.9h-.9zM48.4 80.4h.9v.9h-.9zM68.3 68.8h.9v.9h-.9zM62.7 74.4h.9v.9h-.9zM55.5 66.9h.9v.9h-.9zM74.4 59.8h.9v.9h-.9zM59.2 71.3h.9v.9h-.9zM68.0 69.2h.9v.9h-.9zM56.4 77.3h.9v.9h-.9zM60.8 70.1h.9v.9h-.9zM63.1 74.8h.9v.9h-.9zM66.4 69.1h.9v.9h-.9zM55.5 71.9h.9v.9h-.9zM47.2 77.2h.9v.9h-.9zM60.3 81.1h.9v.9h-.9zM52.6 76.9h.9v.9h-.9zM68.0 71.0h.9v.9h-.9zM56.7 74.6h.9v.9h-.9zM48.8 69.9h.9v.9h-.9zM67.7 72.6h.9v.9h-.9zM55.2 67.2h.9v.9h-.9zM57.2 80.3h.9v.9h-.9zM44.0 71.4h.9v.9h-.9zM67.6 79.7h.9v.9h-.9zM72.2 67.7h.9v.9h-.9zM62.3 68.5h.9v.9h-.9zM61.4 70.9h.9v.9h-.9zM58.1 81.1h.9v.9h-.9zM59.5 71.9h.9v.9h-.9zM56.6 75.4h.9v.9h-.9zM50.6 76.2h.9v.9h-.9zM62.3 81.5h.9v.9h-.9zM34.5 71.7h.9v.9h-.9zM43.1 81.5h.9v.9h-.9zM81.5 70.0h.9v.9h-.9zM57.3 80.1h.9v.9h-.9zM30.5 78.1h.9v.9h-.9zM50.7 72.4h.9v.9h-.9zM59.5 70.0h.9v.9h-.9zM67.6 71.7h.9v.9h-.9zM60.0 87.4h.9v.9h-.9zM51.3 80.1h.9v.9h-.9zM47.4 82.7h.9v.9h-.9zM66.1 72.8h.9v.9h-.9zM66.3 80.9h.9v.9h-.9zM70.4 71.1h.9v.9h-.9zM55.4 80.3h.9v.9h-.9zM40.7 73.7h.9v.9h-.9zM61.1 76.2h.9v.9h-.9zM75.4 79.9h.9v.9h-.9zM59.4 75.8h.9v.9h-.9zM42.3 75.7h.9v.9h-.9zM58.7 72.2h.9v.9h-.9zM56.6 77.3h.9v.9h-.9zM46.1 72.8h.9v.9h-.9zM37.5 84.1h.9v.9h-.9zM45.0 66.7h.9v.9h-.9zM64.0 71.2h.9v.9h-.9zM66.0 69.9h.9v.9h-.9zM78.1 73.6h.9v.9h-.9zM57.6 74.3h.9v.9h-.9zM53.9 78.9h.9v.9h-.9zM76.8 67.5h.9v.9h-.9zM44.7 79.6h.9v.9h-.9zM67.1 63.5h.9v.9h-.9zM48.8 69.9h.9v.9h-.9zM61.8 75.6h.9v.9h-.9zM48.4 69.3h.9v.9h-.9zM63.1 61.2h.9v.9h-.9zM62.7 71.8h.9v.9h-.9zM75.9 75.5h.9v.9h-.9zM50.0 73.7h.9v.9h-.9zM53.1 70.5h.9v.9h-.9zM56.8 79.2h.9v.9h-.9zM40.4 75.9h.9v.9h-.9zM71.5 75.0h.9v.9h-.9zM47.6 71.2h.9v.9h-.9zM47.1 66.9h.9v.9h-.9zM67.9 72.0h.9v.9h-.9zM48.8 67.5h.9v.9h-.9zM52.0 72.0h.9v.9h-.9zM73.8 67.9h.9v.9h-.9zM57.2 79.7h.9v.9h-.9zM62.9 71.6h.9v.9h-.9zM33.4 86.3h.9v.9h-.9zM62.2 70.4h.9v.9h-.9zM55.1 68.9h.9v.9h-.9zM46.7 67.7h.9v.9h-.9zM61.2 75.8h.9v.9h-.9zM57.8 78.0h.9v.9h-.9zM61.5 73.6h.9v.9h-.9zM46.9 79.1h.9v.9h-.9zM68.3 75.0h.9v.9h-.9zM68.9 68.8h.9v.9h-.9zM45.9 82.9h.9v.9h-.9zM50.0 76.5h.9v.9h-.9zM54.0 74.5h.9v.9h-.9zM53.2 71.6h.9v.9h-.9zM37.6 88.2h.9v.9h-.9zM58.1 63.0h.9v.9h-.9zM46.7 69.7h.9v.9h-.9zM48.4 61.5h.9v.9h-.9zM61.9 81.9h.9v.9h-.9zM53.5 78.6h.9v.9h-.9zM62.2 65.9h.9v.9h-.9zM68.6 62.2h.9v.9h-.9zM50.1 73.2h.9v.9h-.9zM68.9 72.1h.9v.9h-.9zM54.7 69.8h.9v.9h-.9zM56.9 74.0h.9v.9h-.9zM63.5 80.2h.9v.9h-.9zM63.6 72.6h.9v.9h-.9zM54.4 83.1h.9v.9h-.9zM58.1 73.5h.9v.9h-.9zM74.5 78.9h.9v.9h-.9zM61.9 72.2h.9v.9h-.9zM49.5 81.2h.9v.9h-.9zM51.3 80.2h.9v.9h-.9zM48.0 76.2h.9v.9h-.9zM60.1 74.0h.9v.9h-.9zM58.4 75.6h.9v.9h-.9zM44.5 70.2h.9v.9h-.9zM54.5 84.2h.9v.9h-.9zM54.7 69.2h.9v.9h-.9zM49.2 75.5h.9v.9h-.9zM68.1 68.5h.9v.9h-.9zM61.8 73.9h.9v.9h-.9zM52.3 69.5h.9v.9h-.9zM54.4 70.3h.9v.9h-.9zM61.5 63.2h.9v.9h-.9zM67.6 75.9h.9v.9h-.9zM61.9 81.0h.9v.9h-.9zM62.2 63.4h.9v.9h-.9zM56.5 76.4h.9v.9h-.9zM49.0 69.2h.9v.9h-.9zM60.4 75.9h.9v.9h-.9zM51.6 73.5h.9v.9h-.9zM50.8 71.9h.9v.9h-.9zM55.4 80.0h.9v.9h-.9zM39.5 75.4h.9v.9h-.9zM72.5 72.4h.9v.9h-.9zM57.6 78.3h.9v.9h-.9zM45.7 69.4h.9v.9h-.9zM39.0 69.4h.9v.9h-.9zM58.5 78.1h.9v.9h-.9zM51.7 71.1h.9v.9h-.9zM60.1 76.5h.9v.9h-.9zM58.6 63.0h.9v.9h-.9zM50.4 61.2h.9v.9h-.9zM58.5 68.9h.9v.9h-.9zM49.3 83.6h.9v.9h-.9zM69.5 73.9h.9v.9h-.9zM58.8 74.4h.9v.9h-.9zM50.0 74.9h.9v.9h-.9zM75.6 65.3h.9v.9h-.9zM49.2 76.2h.9v.9h-.9zM65.1 76.7h.9v.9h-.9zM46.1 75.3h.9v.9h-.9zM53.3 67.8h.9v.9h-.9zM56.8 71.2h.9v.9h-.9zM65.4 74.5h.9v.9h-.9zM48.0 76.0h.9v.9h-.9zM52.4 71.3h.9v.9h-.9zM51.0 80.8h.9v.9h-.9zM51.8 65.5h.9v.9h-.9zM48.1 80.0h.9v.9h-.9zM78.0 63.8h.9v.9h-.9zM52.4 72.9h.9v.9h-.9zM41.6 79.1h.9v.9h-.9zM55.5 75.6h.9v.9h-.9zM78.9 68.0h.9v.9h-.9zM64.1 76.9h.9v.9h-.9zM49.5 72.1h.9v.9h-.9zM71.9 74.7h.9v.9h-.9zM57.5 67.7h.9v.9h-.9zM65.0 75.1h.9v.9h-.9zM78.4 77.6h.9v.9h-.9zM64.2 73.8h.9v.9h-.9zM56.6 70.9h.9v.9h-.9zM59.2 74.7h.9v.9h-.9zM62.7 78.6h.9v.9h-.9zM59.2 70.4h.9v.9h-.9zM64.2 80.8h.9v.9h-.9zM47.5 78.0h.9v.9h-.9zM61.6 75.8h.9v.9h-.9zM61.2 72.5h.9v.9h-.9zM55.0 83.4h.9v.9h-.9zM73.7 62.8h.9v.9h-.9zM49.1 72.6h.9v.9h-.9zM39.7 79.2h.9v.9h-.9zM55.4 71.2h.9v.9h-.9zM65.2 85.5h.9v.9h-.9zM71.1 77.4h.9v.9h-.9zM51.8 78.4h.9v.9h-.9zM55.6 80.4h.9v.9h-.9zM61.9 72.6h.9v.9h-.9zM61.6 69.0h.9v.9h-.9zM64.1 80.6h.9v.9h-.9zM52.3 77.8h.9v.9h-.9zM39.0 82.5h.9v.9h-.9zM65.0 66.6h.9v.9h-.9zM73.8 71.1h.9v.9h-.9zM38.4 70.1h.9v.9h-.9zM64.9 70.7h.9v.9h-.9zM67.3 63.3h.9v.9h-.9zM55.0 79.5h.9v.9h-.9zM49.1 79.1h.9v.9h-.9zM52.3 76.6h.9v.9h-.9zM59.3 85.5h.9v.9h-.9zM43.4 80.8h.9v.9h-.9zM69.4 65.2h.9v.9h-.9zM56.8 86.4h.9v.9h-.9zM66.7 55.7h.9v.9h-.9zM53.6 65.1h.9v.9h-.9zM59.1 69.4h.9v.9h-.9zM50.3 70.6h.9v.9h-.9zM59.0 70.9h.9v.9h-.9zM46.8 74.6h.9v.9h-.9zM60.1 68.5h.9v.9h-.9zM67.3 62.7h.9v.9h-.9zM60.2 71.0h.9v.9h-.9zM72.1 67.3h.9v.9h-.9zM49.2 68.0h.9v.9h-.9zM76.3 73.3h.9v.9h-.9zM44.9 74.4h.9v.9h-.9zM46.2 84.3h.9v.9h-.9zM60.3 62.0h.9v.9h-.9zM58.1 78.6h.9v.9h-.9zM56.0 76.6h.9v.9h-.9zM54.9 75.4h.9v.9h-.9zM58.2 69.7h.9v.9h-.9zM59.5 74.2h.9v.9h-.9zM55.6 70.3h.9v.9h-.9zM45.7 77.4h.9v.9h-.9zM64.4 59.1h.9v.9h-.9zM50.5 82.5h.9v.9h-.9zM65.3 68.2h.9v.9h-.9zM69.8 65.9h.9v.9h-.9zM47.9 86.2h.9v.9h-.9zM51.5 73.7h.9v.9h-.9zM39.2 71.8h.9v.9h-.9zM44.0 75.6h.9v.9h-.9zM37.3 83.6h.9v.9h-.9zM52.4 71.4h.9v.9h-.9zM49.5 79.4h.9v.9h-.9zM71.7 68.6h.9v.9h-.9zM72.5 79.5h.9v.9h-.9zM69.7 72.9h.9v.9h-.9zM40.8 80.7h.9v.9h-.9zM51.8 75.9h.9v.9h-.9zM36.8 76.3h.9v.9h-.9zM58.4 68.4h.9v.9h-.9zM59.0 82.5h.9v.9h-.9zM58.4 69.8h.9v.9h-.9zM80.4 57.4h.9v.9h-.9zM46.6 78.1h.9v.9h-.9zM50.0 62.7h.9v.9h-.9zM58.7 78.0h.9v.9h-.9zM47.9 83.6h.9v.9h-.9zM61.1 79.5h.9v.9h-.9zM40.4 77.1h.9v.9h-.9zM72.4 81.8h.9v.9h-.9zM69.5 71.3h.9v.9h-.9zM57.9 70.2h.9v.9h-.9zM67.2 67.9h.9v.9h-.9zM57.3 62.4h.9v.9h-.9zM40.6 86.8h.9v.9h-.9zM56.6 75.1h.9v.9h-.9zM33.5 78.3h.9v.9h-.9zM77.2 61.6h.9v.9h-.9zM31.7 78.0h.9v.9h-.9zM50.6 73.9h.9v.9h-.9zM43.1 69.1h.9v.9h-.9zM43.3 80.0h.9v.9h-.9zM55.5 78.6h.9v.9h-.9zM44.9 79.4h.9v.9h-.9zM51.5 75.4h.9v.9h-.9zM65.6 72.3h.9v.9h-.9zM52.4 65.6h.9v.9h-.9zM56.7 78.2h.9v.9h-.9zM49.5 74.9h.9v.9h-.9zM37.9 70.3h.9v.9h-.9zM60.1 80.3h.9v.9h-.9zM52.8 65.4h.9v.9h-.9zM52.1 66.2h.9v.9h-.9zM53.2 85.2h.9v.9h-.9zM59.1 72.5h.9v.9h-.9zM66.7 69.8h.9v.9h-.9zM59.4 74.4h.9v.9h-.9zM60.6 65.0h.9v.9h-.9zM63.3 77.4h.9v.9h-.9zM32.5 63.8h.9v.9h-.9zM46.8 84.1h.9v.9h-.9zM56.2 77.7h.9v.9h-.9zM61.7 77.8h.9v.9h-.9zM49.4 72.1h.9v.9h-.9zM59.9 76.6h.9v.9h-.9zM61.9 74.7h.9v.9h-.9zM51.0 81.1h.9v.9h-.9zM60.9 78.9h.9v.9h-.9zM30.8 80.2h.9v.9h-.9zM49.1 76.0h.9v.9h-.9zM51.1 73.3h.9v.9h-.9zM58.0 75.5h.9v.9h-.9zM47.7 61.7h.9v.9h-.9zM47.9 78.6h.9v.9h-.9zM47.3 78.1h.9v.9h-.9zM52.2 69.5h.9v.9h-.9zM68.1 80.8h.9v.9h-.9zM54.9 73.9h.9v.9h-.9zM65.9 64.7h.9v.9h-.9zM47.0 82.1h.9v.9h-.9zM65.3 69.4h.9v.9h-.9zM47.9 77.6h.9v.9h-.9zM41.4 74.1h.9v.9h-.9zM53.6 60.8h.9v.9h-.9zM62.1 77.0h.9v.9h-.9zM67.1 63.8h.9v.9h-.9zM42.7 72.1h.9v.9h-.9zM42.4 88.1h.9v.9h-.9zM45.9 74.3h.9v.9h-.9zM58.1 76.1h.9v.9h-.9zM71.1 64.9h.9v.9h-.9zM65.1 73.0h.9v.9h-.9zM43.8 77.3h.9v.9h-.9zM41.4 85.9h.9v.9h-.9zM48.4 81.1h.9v.9h-.9zM69.5 67.8h.9v.9h-.9zM46.7 76.6h.9v.9h-.9zM45.1 81.2h.9v.9h-.9zM57.8 69.4h.9v.9h-.9zM48.9 79.5h.9v.9h-.9zM40.9 86.4h.9v.9h-.9zM47.8 74.5h.9v.9h-.9zM46.4 85.0h.9v.9h-.9zM64.6 79.6h.9v.9h-.9zM62.8 73.1h.9v.9h-.9zM73.7 74.2h.9v.9h-.9zM60.6 76.3h.9v.9h-.9zM63.7 74.0h.9v.9h-.9zM54.3 65.4h.9v.9h-.9zM77.5 62.4h.9v.9h-.9zM33.5 74.5h.9v.9h-.9zM76.2 76.8h.9v.9h-.9zM49.7 76.7h.9v.9h-.9zM55.7 62.9h.9v.9h-.9zM52.5 76.3h.9v.9h-.9zM68.3 64.8h.9v.9h-.9zM32.4 69.9h.9v.9h-.9zM59.5 73.8h.9v.9h-.9zM57.6 74.5h.9v.9h-.9zM52.2 67.1h.9v.9h-.9zM60.8 75.2h.9v.9h-.9zM62.1 79.8h.9v.9h-.9zM43.0 63.5h.9v.9h-.9zM37.3 89.7h.9v.9h-.9zM46.4 78.2h.9v.9h-.9zM55.8 78.1h.9v.9h-.9zM89.7 64.4h.9v.9h-.9zM54.2 71.0h.9v.9h-.9zM58.6 76.4h.9v.9h-.9zM45.8 83.4h.9v.9h-.9zM68.0 74.1h.9v.9h-.9zM54.8 72.9h.9v.9h-.9zM38.7 81.1h.9v.9h-.9zM45.8 73.2h.9v.9h-.9zM66.5 66.7h.9v.9h-.9zM50.5 79.9h.9v.9h-.9zM75.5 66.2h.9v.9h-.9zM67.6 68.0h.9v.9h-.9zM60.1 75.9h.9v.9h-.9zM44.0 82.2h.9v.9h-.9zM74.9 70.5h.9v.9h-.9zM58.8 66.8h.9v.9h-.9zM74.8 70.6h.9v.9h-.9zM42.6 81.0h.9v.9h-.9zM40.7 73.2h.9v.9h-.9zM33.6 86.2h.9v.9h-.9zM79.2 65.8h.9v.9h-.9zM49.1 72.1h.9v.9h-.9zM50.1 78.3h.9v.9h-.9zM71.3 65.3h.9v.9h-.9zM60.6 62.9h.9v.9h-.9zM72.0 70.3h.9v.9h-.9zM48.6 84.1h.9v.9h-.9zM54.9 81.9h.9v.9h-.9zM67.3 81.1h.9v.9h-.9zM47.6 76.0h.9v.9h-.9zM59.9 72.1h.9v.9h-.9zM72.0 66.8h.9v.9h-.9zM66.5 79.6h.9v.9h-.9zM35.5 72.7h.9v.9h-.9zM46.5 72.8h.9v.9h-.9zM60.1 72.2h.9v.9h-.9zM56.8 71.3h.9v.9h-.9zM55.1 76.9h.9v.9h-.9zM63.8 68.0h.9v.9h-.9zM54.8 70.0h.9v.9h-.9zM54.1 66.3h.9v.9h-.9zM66.0 75.8h.9v.9h-.9zM54.7 70.4h.9v.9h-.9zM51.2 71.2h.9v.9h-.9zM39.8 86.4h.9v.9h-.9zM90.5 60.2h.9v.9h-.9zM43.7 79.7h.9v.9h-.9zM62.4 63.9h.9v.9h-.9zM35.8 81.1h.9v.9h-.9zM35.1 86.2h.9v.9h-.9zM50.8 75.5h.9v.9h-.9zM56.0 70.9h.9v.9h-.9zM54.5 72.6h.9v.9h-.9zM69.1 70.9h.9v.9h-.9zM55.7 71.1h.9v.9h-.9zM49.3 71.2h.9v.9h-.9zM56.1 84.3h.9v.9h-.9zM67.7 73.0h.9v.9h-.9zM73.5 76.2h.9v.9h-.9zM58.2 72.6h.9v.9h-.9zM44.5 77.7h.9v.9h-.9zM52.7 65.8h.9v.9h-.9zM42.5 87.6h.9v.9h-.9zM58.3 76.3h.9v.9h-.9zM58.1 71.0h.9v.9h-.9zM60.8 79.1h.9v.9h-.9zM52.8 77.5h.9v.9h-.9zM66.8 69.1h.9v.9h-.9zM57.8 69.5h.9v.9h-.9zM62.3 70.7h.9v.9h-.9zM68.0 67.3h.9v.9h-.9zM73.7 68.7h.9v.9h-.9zM47.2 70.7h.9v.9h-.9zM63.0 67.8h.9v.9h-.9zM74.9 77.4h.9v.9h-.9zM61.4 64.9h.9v.9h-.9zM55.7 70.0h.9v.9h-.9zM37.0 80.2h.9v.9h-.9zM79.1 66.4h.9v.9h-.9zM64.5 79.5h.9v.9h-.9zM45.9 74.1h.9v.9h-.9zM58.8 76.1h.9v.9h-.9zM44.0 77.6h.9v.9h-.9zM54.9 79.6h.9v.9h-.9zM39.2 74.2h.9v.9h-.9zM50.7 73.3h.9v.9h-.9zM63.6 69.0h.9v.9h-.9zM84.7 64.3h.9v.9h-.9zM64.8 78.0h.9v.9h-.9zM66.1 70.8h.9v.9h-.9zM47.3 74.3h.9v.9h-.9zM63.0 73.3h.9v.9h-.9zM62.1 76.0h.9v.9h-.9zM46.7 70.6h.9v.9h-.9zM71.1 68.2h.9v.9h-.9zM39.4 87.8h.9v.9h-.9zM47.2 70.5h.9v.9h-.9zM66.2 65.6h.9v.9h-.9zM46.9 81.7h.9v.9h-.9zM47.4 89.8h.9v.9h-.9zM57.0 88.9h.9v.9h-.9zM57.4 74.0h.9v.9h-.9zM49.3 74.1h.9v.9h-.9zM50.7 74.9h.9v.9h-.9zM64.1 65.2h.9v.9h-.9zM46.4 64.2h.9v.9h-.9zM71.8 70.4h.9v.9h-.9zM55.9 73.7h.9v.9h-.9zM66.5 73.7h.9v.9h-.9zM64.9 71.3h.9v.9h-.9zM54.7 73.9h.9v.9h-.9zM36.4 84.0h.9v.9h-.9zM39.4 71.7h.9v.9h-.9zM63.0 72.9h.9v.9h-.9zM64.5 81.9h.9v.9h-.9zM75.6 77.9h.9v.9h-.9zM53.6 86.0h.9v.9h-.9zM46.8 75.4h.9v.9h-.9zM66.5 70.7h.9v.9h-.9zM54.7 72.3h.9v.9h-.9zM70.3 57.3h.9v.9h-.9zM69.4 77.3h.9v.9h-.9zM55.2 77.3h.9v.9h-.9zM45.8 82.3h.9v.9h-.9zM88.1 62.4h.9v.9h-.9zM70.7 70.8h.9v.9h-.9zM52.5 72.0h.9v.9h-.9zM54.0 67.4h.9v.9h-.9zM41.7 86.2h.9v.9h-.9zM55.8 77.1h.9v.9h-.9zM59.3 76.0h.9v.9h-.9zM40.0 71.9h.9v.9h-.9zM62.6 78.3h.9v.9h-.9zM44.0 73.2h.9v.9h-.9zM44.8 79.9h.9v.9h-.9zM59.6 73.5h.9v.9h-.9zM49.2 77.3h.9v.9h-.9zM56.3 69.8h.9v.9h-.9zM59.5 69.6h.9v.9h-.9zM66.0 75.5h.9v.9h-.9zM48.8 78.7h.9v.9h-.9zM56.7 69.9h.9v.9h-.9zM46.4 66.6h.9v.9h-.9zM44.1 78.3h.9v.9h-.9zM68.7 67.9h.9v.9h-.9zM57.7 75.6h.9v.9h-.9zM64.2 74.9h.9v.9h-.9zM68.9 75.7h.9v.9h-.9zM48.0 77.8h.9v.9h-.9zM31.4 77.9h.9v.9h-.9zM56.2 77.2h.9v.9h-.9zM52.8 79.3h.9v.9h-.9zM69.9 66.5h.9v.9h-.9zM50.3 76.6h.9v.9h-.9zM61.1 73.8h.9v.9h-.9zM64.7 65.6h.9v.9h-.9zM64.1 78.9h.9v.9h-.9zM67.7 74.1h.9v.9h-.9zM53.5 76.7h.9v.9h-.9zM55.2 65.2h.9v.9h-.9zM49.6 75.0h.9v.9h-.9zM50.6 69.8h.9v.9h-.9zM53.6 72.4h.9v.9h-.9zM56.7 73.6h.9v.9h-.9zM57.8 79.2h.9v.9h-.9zM57.4 76.0h.9v.9h-.9zM43.2 60.0h.9v.9h-.9zM51.8 78.6h.9v.9h-.9zM52.4 71.2h.9v.9h-.9zM43.0 81.6h.9v.9h-.9zM50.5 76.5h.9v.9h-.9zM67.9 74.6h.9v.9h-.9zM79.6 68.5h.9v.9h-.9zM66.0 75.9h.9v.9h-.9zM49.1 75.6h.9v.9h-.9zM50.1 69.4h.9v.9h-.9zM59.1 69.0h.9v.9h-.9zM73.6 66.3h.9v.9h-.9zM50.3 75.7h.9v.9h-.9zM50.6 75.4h.9v.9h-.9zM49.6 67.3h.9v.9h-.9zM30.7 71.8h.9v.9h-.9zM72.0 73.3h.9v.9h-.9zM57.6 71.1h.9v.9h-.9zM54.5 76.0h.9v.9h-.9zM41.4 72.4h.9v.9h-.9zM46.7 82.9h.9v.9h-.9zM44.9 82.8h.9v.9h-.9zM51.1 90.3h.9v.9h-.9zM55.2 74.3h.9v.9h-.9zM70.2 76.1h.9v.9h-.9zM65.9 66.0h.9v.9h-.9zM67.9 81.1h.9v.9h-.9zM54.9 71.5h.9v.9h-.9zM44.5 82.0h.9v.9h-.9zM59.1 73.4h.9v.9h-.9zM43.0 85.7h.9v.9h-.9zM65.2 72.0h.9v.9h-.9zM71.5 65.6h.9v.9h-.9zM65.3 66.5h.9v.9h-.9zM70.8 69.5h.9v.9h-.9zM68.8 69.1h.9v.9h-.9zM60.2 79.6h.9v.9h-.9zM46.5 76.4h.9v.9h-.9zM47.2 80.5h.9v.9h-.9zM49.7 73.2h.9v.9h-.9zM53.9 81.0h.9v.9h-.9zM45.1 76.0h.9v.9h-.9zM52.5 71.6h.9v.9h-.9zM47.7 74.8h.9v.9h-.9zM58.1 64.9h.9v.9h-.9zM58.5 66.9h.9v.9h-.9zM56.2 86.8h.9v.9h-.9zM45.8 75.7h.9v.9h-.9zM53.3 80.1h.9v.9h-.9zM51.0 65.0h.9v.9h-.9zM39.1 78.4h.9v.9h-.9zM58.7 79.5h.9v.9h-.9zM50.4 78.9h.9v.9h-.9zM44.8 83.5h.9v.9h-.9zM55.3 70.3h.9v.9h-.9zM57.9 83.4h.9v.9h-.9zM47.1 68.8h.9v.9h-.9zM45.3 69.6h.9v.9h-.9zM55.5 76.1h.9v.9h-.9zM54.3 75.5h.9v.9h-.9zM68.4 69.9h.9v.9h-.9zM42.8 63.8h.9v.9h-.9zM58.5 69.7h.9v.9h-.9zM53.4 76.8h.9v.9h-.9zM60.9 64.2h.9v.9h-.9zM45.9 76.4h.9v.9h-.9zM54.5 80.7h.9v.9h-.9zM50.7 63.4h.9v.9h-.9zM68.3 62.3h.9v.9h-.9zM45.8 78.2h.9v.9h-.9zM44.9 90.2h.9v.9h-.9zM58.5 76.5h.9v.9h-.9zM51.4 87.4h.9v.9h-.9zM61.7 68.8h.9v.9h-.9zM69.2 61.9h.9v.9h-.9zM49.8 76.9h.9v.9h-.9zM57.4 68.3h.9v.9h-.9zM72.6 79.0h.9v.9h-.9zM46.2 78.1h.9v.9h-.9zM49.3 72.9h.9v.9h-.9zM66.4 72.6h.9v.9h-.9zM54.9 74.8h.9v.9h-.9zM43.7 83.3h.9v.9h-.9zM48.1 82.9h.9v.9h-.9zM51.2 72.4h.9v.9h-.9zM71.6 72.0h.9v.9h-.9zM49.3 72.3h.9v.9h-.9zM62.4 83.2h.9v.9h-.9zM62.4 70.5h.9v.9h-.9zM44.2 72.6h.9v.9h-.9zM54.8 75.6h.9v.9h-.9zM49.1 82.6h.9v.9h-.9zM45.9 72.0h.9v.9h-.9zM61.2 75.7h.9v.9h-.9zM51.9 80.2h.9v.9h-.9zM41.2 86.1h.9v.9h-.9zM79.0 80.4h.9v.9h-.9zM57.3 84.8h.9v.9h-.9zM56.6 81.4h.9v.9h-.9zM53.9 75.5h.9v.9h-.9zM61.5 63.1h.9v.9h-.9zM53.8 84.1h.9v.9h-.9zM65.7 73.9h.9v.9h-.9zM58.0 81.4h.9v.9h-.9zM59.5 62.7h.9v.9h-.9zM46.1 74.3h.9v.9h-.9zM57.5 71.2h.9v.9h-.9zM54.9 83.6h.9v.9h-.9zM65.8 75.4h.9v.9h-.9zM56.2 74.3h.9v.9h-.9zM59.8 74.6h.9v.9h-.9zM48.4 79.9h.9v.9h-.9zM47.3 75.5h.9v.9h-.9zM52.2 68.3h.9v.9h-.9zM62.4 72.3h.9v.9h-.9zM43.8 76.0h.9v.9h-.9zM41.5 84.9h.9v.9h-.9zM61.4 84.1h.9v.9h-.9zM50.1 79.1h.9v.9h-.9zM68.8 65.6h.9v.9h-.9zM76.2 70.4h.9v.9h-.9zM84.8 66.5h.9v.9h-.9zM86.4 71.8h.9v.9h-.9zM69.6 68.5h.9v.9h-.9zM69.2 76.8h.9v.9h-.9zM72.3 72.9h.9v.9h-.9zM84.7 66.6h.9v.9h-.9zM72.9 70.5h.9v.9h-.9zM70.4 63.6h.9v.9h-.9zM68.8 70.9h.9v.9h-.9zM78.6 76.1h.9v.9h-.9zM61.5 72.3h.9v.9h-.9zM67.2 74.6h.9v.9h-.9zM82.9 68.4h.9v.9h-.9zM89.5 65.5h.9v.9h-.9zM72.5 64.4h.9v.9h-.9zM71.4 69.6h.9v.9h-.9zM82.7 73.5h.9v.9h-.9zM74.7 65.5h.9v.9h-.9zM74.2 66.9h.9v.9h-.9zM73.0 67.2h.9v.9h-.9zM69.6 69.1h.9v.9h-.9zM72.7 68.2h.9v.9h-.9zM65.3 70.4h.9v.9h-.9zM81.8 70.8h.9v.9h-.9zM72.4 64.0h.9v.9h-.9zM66.0 64.5h.9v.9h-.9zM71.6 67.7h.9v.9h-.9zM62.0 73.0h.9v.9h-.9zM64.0 66.9h.9v.9h-.9zM70.9 72.8h.9v.9h-.9zM92.5 65.3h.9v.9h-.9zM74.7 67.0h.9v.9h-.9zM75.3 67.9h.9v.9h-.9zM97.8 61.5h.9v.9h-.9zM76.1 65.2h.9v.9h-.9zM80.0 65.9h.9v.9h-.9zM81.8 63.3h.9v.9h-.9zM94.8 67.5h.9v.9h-.9zM62.1 73.1h.9v.9h-.9zM73.0 63.9h.9v.9h-.9zM80.7 65.8h.9v.9h-.9zM83.2 65.5h.9v.9h-.9zM84.6 68.3h.9v.9h-.9zM80.0 68.9h.9v.9h-.9zM73.9 67.3h.9v.9h-.9zM80.8 71.2h.9v.9h-.9zM73.6 78.6h.9v.9h-.9zM91.2 62.0h.9v.9h-.9zM86.1 67.2h.9v.9h-.9zM79.0 64.9h.9v.9h-.9zM90.9 63.4h.9v.9h-.9zM76.3 65.4h.9v.9h-.9zM93.2 72.2h.9v.9h-.9zM65.9 67.7h.9v.9h-.9zM80.1 66.3h.9v.9h-.9zM74.0 64.1h.9v.9h-.9zM79.1 63.5h.9v.9h-.9zM84.0 78.2h.9v.9h-.9zM74.3 75.9h.9v.9h-.9zM80.1 65.3h.9v.9h-.9zM74.1 64.6h.9v.9h-.9zM78.0 71.4h.9v.9h-.9zM84.8 66.5h.9v.9h-.9zM67.0 69.2h.9v.9h-.9zM91.0 68.2h.9v.9h-.9zM76.5 59.6h.9v.9h-.9zM73.4 71.3h.9v.9h-.9zM69.1 75.2h.9v.9h-.9zM72.3 65.2h.9v.9h-.9zM72.1 68.6h.9v.9h-.9zM85.4 65.2h.9v.9h-.9zM62.1 69.7h.9v.9h-.9zM81.4 74.7h.9v.9h-.9zM67.6 75.9h.9v.9h-.9zM82.7 69.9h.9v.9h-.9zM70.6 65.4h.9v.9h-.9zM69.0 73.4h.9v.9h-.9zM78.8 72.9h.9v.9h-.9zM92.2 67.0h.9v.9h-.9zM76.6 76.8h.9v.9h-.9zM66.1 67.7h.9v.9h-.9zM73.9 67.2h.9v.9h-.9zM78.2 64.8h.9v.9h-.9zM86.7 61.6h.9v.9h-.9zM70.2 61.9h.9v.9h-.9zM65.3 72.3h.9v.9h-.9zM82.3 67.1h.9v.9h-.9zM84.1 70.4h.9v.9h-.9zM72.2 68.9h.9v.9h-.9zM80.1 76.9h.9v.9h-.9zM73.3 70.5h.9v.9h-.9zM81.6 73.3h.9v.9h-.9zM80.6 72.8h.9v.9h-.9zM68.1 68.3h.9v.9h-.9zM60.8 70.0h.9v.9h-.9zM96.5 67.5h.9v.9h-.9zM77.7 69.6h.9v.9h-.9zM78.2 62.7h.9v.9h-.9zM71.2 68.4h.9v.9h-.9zM78.4 64.7h.9v.9h-.9zM76.1 65.5h.9v.9h-.9zM66.0 66.9h.9v.9h-.9zM70.3 72.9h.9v.9h-.9zM88.2 69.8h.9v.9h-.9zM75.2 66.3h.9v.9h-.9zM63.9 67.6h.9v.9h-.9zM90.1 72.1h.9v.9h-.9zM78.9 67.3h.9v.9h-.9zM77.0 70.3h.9v.9h-.9zM76.9 70.4h.9v.9h-.9zM70.6 69.4h.9v.9h-.9zM74.1 73.5h.9v.9h-.9zM66.6 75.2h.9v.9h-.9zM76.3 66.4h.9v.9h-.9zM77.2 69.0h.9v.9h-.9zM75.1 70.6h.9v.9h-.9zM72.2 61.8h.9v.9h-.9zM82.8 67.8h.9v.9h-.9zM90.9 68.7h.9v.9h-.9zM60.3 75.6h.9v.9h-.9zM71.3 71.5h.9v.9h-.9zM95.5 71.3h.9v.9h-.9zM67.9 69.1h.9v.9h-.9zM63.6 72.8h.9v.9h-.9zM81.7 63.6h.9v.9h-.9zM80.8 72.2h.9v.9h-.9zM83.7 64.9h.9v.9h-.9zM71.2 64.3h.9v.9h-.9zM66.2 71.0h.9v.9h-.9zM77.3 74.1h.9v.9h-.9zM79.3 66.9h.9v.9h-.9zM65.1 76.4h.9v.9h-.9zM78.4 68.3h.9v.9h-.9zM68.6 64.9h.9v.9h-.9zM82.3 63.8h.9v.9h-.9zM81.9 70.7h.9v.9h-.9zM73.8 61.9h.9v.9h-.9zM80.4 74.2h.9v.9h-.9zM70.1 63.8h.9v.9h-.9zM86.1 68.2h.9v.9h-.9zM71.8 74.3h.9v.9h-.9zM74.7 70.7h.9v.9h-.9zM73.6 65.7h.9v.9h-.9zM78.8 64.7h.9v.9h-.9zM62.2 67.8h.9v.9h-.9zM87.3 72.2h.9v.9h-.9zM95.1 70.9h.9v.9h-.9zM90.5 68.2h.9v.9h-.9zM73.4 70.9h.9v.9h-.9zM69.1 72.5h.9v.9h-.9zM73.3 70.0h.9v.9h-.9zM69.9 68.7h.9v.9h-.9zM85.2 66.7h.9v.9h-.9zM71.4 70.3h.9v.9h-.9zM84.3 67.0h.9v.9h-.9zM67.3 62.9h.9v.9h-.9zM65.8 74.3h.9v.9h-.9zM76.3 70.7h.9v.9h-.9zM86.0 68.8h.9v.9h-.9zM81.0 66.0h.9v.9h-.9zM63.6 72.7h.9v.9h-.9zM76.2 71.1h.9v.9h-.9zM68.1 68.9h.9v.9h-.9zM93.8 63.2h.9v.9h-.9zM77.8 74.1h.9v.9h-.9zM75.1 69.3h.9v.9h-.9zM59.2 73.7h.9v.9h-.9zM73.3 74.4h.9v.9h-.9zM76.2 67.0h.9v.9h-.9zM80.6 67.1h.9v.9h-.9zM72.7 75.6h.9v.9h-.9zM85.2 68.2h.9v.9h-.9zM83.7 71.4h.9v.9h-.9zM81.8 68.2h.9v.9h-.9zM77.6 70.2h.9v.9h-.9zM81.7 69.6h.9v.9h-.9zM72.4 68.7h.9v.9h-.9zM80.8 64.0h.9v.9h-.9zM76.9 71.8h.9v.9h-.9zM78.4 67.2h.9v.9h-.9zM76.8 66.5h.9v.9h-.9zM85.2 66.1h.9v.9h-.9zM63.1 64.9h.9v.9h-.9zM79.5 69.2h.9v.9h-.9zM73.1 63.4h.9v.9h-.9zM75.8 65.1h.9v.9h-.9zM71.5 69.1h.9v.9h-.9zM70.6 70.6h.9v.9h-.9zM70.8 67.2h.9v.9h-.9zM75.1 74.9h.9v.9h-.9zM90.1 71.2h.9v.9h-.9zM70.9 69.2h.9v.9h-.9zM84.6 71.2h.9v.9h-.9zM63.5 69.8h.9v.9h-.9zM70.8 72.4h.9v.9h-.9zM82.3 65.7h.9v.9h-.9zM94.8 65.5h.9v.9h-.9zM97.3 65.7h.9v.9h-.9zM76.3 76.7h.9v.9h-.9zM72.6 67.0h.9v.9h-.9zM89.3 67.1h.9v.9h-.9zM81.0 62.8h.9v.9h-.9zM91.9 71.1h.9v.9h-.9zM80.0 71.2h.9v.9h-.9zM72.8 67.0h.9v.9h-.9zM63.9 71.5h.9v.9h-.9zM87.3 71.1h.9v.9h-.9zM84.7 70.7h.9v.9h-.9zM69.3 63.9h.9v.9h-.9zM82.3 68.7h.9v.9h-.9zM85.2 66.5h.9v.9h-.9zM69.7 71.2h.9v.9h-.9zM72.4 62.2h.9v.9h-.9zM71.9 65.4h.9v.9h-.9zM67.7 67.2h.9v.9h-.9zM84.9 77.6h.9v.9h-.9zM91.4 65.3h.9v.9h-.9zM86.5 67.3h.9v.9h-.9zM80.3 65.4h.9v.9h-.9zM76.4 61.6h.9v.9h-.9zM91.9 63.8h.9v.9h-.9zM81.9 65.6h.9v.9h-.9zM79.2 63.4h.9v.9h-.9zM73.9 72.7h.9v.9h-.9zM81.9 59.9h.9v.9h-.9zM84.1 62.3h.9v.9h-.9zM79.4 70.5h.9v.9h-.9zM71.7 67.8h.9v.9h-.9zM75.0 70.5h.9v.9h-.9zM84.6 73.5h.9v.9h-.9zM79.7 76.7h.9v.9h-.9zM69.1 76.9h.9v.9h-.9zM74.8 72.0h.9v.9h-.9zM76.0 69.0h.9v.9h-.9zM69.4 71.0h.9v.9h-.9zM93.8 67.4h.9v.9h-.9zM76.8 68.6h.9v.9h-.9zM82.9 67.1h.9v.9h-.9zM77.0 69.5h.9v.9h-.9zM87.8 71.4h.9v.9h-.9zM68.2 66.9h.9v.9h-.9zM77.2 72.1h.9v.9h-.9zM85.1 66.9h.9v.9h-.9zM94.7 66.0h.9v.9h-.9zM88.7 73.3h.9v.9h-.9zM90.3 68.0h.9v.9h-.9zM81.8 61.7h.9v.9h-.9zM62.2 67.6h.9v.9h-.9zM83.0 72.4h.9v.9h-.9zM76.1 73.0h.9v.9h-.9zM81.8 74.4h.9v.9h-.9zM63.8 66.5h.9v.9h-.9zM69.0 65.0h.9v.9h-.9zM90.7 63.2h.9v.9h-.9zM70.1 67.6h.9v.9h-.9zM84.4 65.9h.9v.9h-.9zM83.1 70.2h.9v.9h-.9zM71.7 59.2h.9v.9h-.9zM69.4 64.2h.9v.9h-.9zM90.6 64.1h.9v.9h-.9zM68.1 71.1h.9v.9h-.9zM77.5 64.6h.9v.9h-.9zM86.1 71.4h.9v.9h-.9zM79.3 65.1h.9v.9h-.9zM69.7 60.8h.9v.9h-.9zM80.2 69.9h.9v.9h-.9zM69.3 69.5h.9v.9h-.9zM104.3 61.0h.9v.9h-.9zM62.8 72.6h.9v.9h-.9zM73.5 66.9h.9v.9h-.9zM82.2 67.5h.9v.9h-.9zM85.3 69.8h.9v.9h-.9zM86.7 68.0h.9v.9h-.9zM59.0 76.2h.9v.9h-.9zM62.8 74.4h.9v.9h-.9zM79.1 62.5h.9v.9h-.9zM77.6 72.2h.9v.9h-.9zM68.5 69.6h.9v.9h-.9zM39.1 79.7h.9v.9h-.9zM39.6 87.3h.9v.9h-.9zM44.7 82.9h.9v.9h-.9zM41.7 83.5h.9v.9h-.9zM43.1 83.7h.9v.9h-.9zM35.3 86.1h.9v.9h-.9zM38.6 74.4h.9v.9h-.9zM44.8 79.0h.9v.9h-.9zM41.4 82.7h.9v.9h-.9zM39.7 84.8h.9v.9h-.9zM40.9 82.1h.9v.9h-.9zM38.3 82.1h.9v.9h-.9zM37.9 83.2h.9v.9h-.9zM47.2 86.4h.9v.9h-.9zM43.7 78.5h.9v.9h-.9zM46.0 86.1h.9v.9h-.9zM50.1 75.6h.9v.9h-.9zM42.1 81.9h.9v.9h-.9zM46.3 79.4h.9v.9h-.9zM40.5 90.8h.9v.9h-.9zM45.9 76.4h.9v.9h-.9zM42.1 87.6h.9v.9h-.9zM39.6 85.0h.9v.9h-.9zM42.4 78.2h.9v.9h-.9zM39.5 86.8h.9v.9h-.9zM46.7 81.0h.9v.9h-.9zM46.4 80.7h.9v.9h-.9zM43.0 83.0h.9v.9h-.9zM37.1 84.1h.9v.9h-.9zM40.5 73.9h.9v.9h-.9zM38.7 80.2h.9v.9h-.9zM38.7 79.8h.9v.9h-.9zM39.3 74.9h.9v.9h-.9zM45.5 83.3h.9v.9h-.9zM43.0 82.1h.9v.9h-.9zM42.3 82.2h.9v.9h-.9zM37.7 78.0h.9v.9h-.9zM42.3 86.4h.9v.9h-.9zM42.9 88.4h.9v.9h-.9zM36.6 82.1h.9v.9h-.9zM39.6 87.1h.9v.9h-.9zM48.7 81.3h.9v.9h-.9zM44.9 82.2h.9v.9h-.9zM38.1 82.7h.9v.9h-.9zM37.9 88.2h.9v.9h-.9zM44.3 87.0h.9v.9h-.9zM43.4 74.9h.9v.9h-.9zM45.2 83.3h.9v.9h-.9zM32.6 83.4h.9v.9h-.9zM46.0 88.7h.9v.9h-.9zM38.0 85.7h.9v.9h-.9zM43.3 82.4h.9v.9h-.9zM40.9 84.8h.9v.9h-.9zM44.3 85.2h.9v.9h-.9zM40.4 78.6h.9v.9h-.9zM47.2 87.4h.9v.9h-.9zM39.8 82.9h.9v.9h-.9zM45.2 77.1h.9v.9h-.9zM43.1 80.7h.9v.9h-.9zM50.0 83.0h.9v.9h-.9zM42.8 81.6h.9v.9h-.9zM42.7 77.0h.9v.9h-.9zM37.0 78.1h.9v.9h-.9zM45.5 82.7h.9v.9h-.9zM46.5 76.2h.9v.9h-.9zM39.6 87.9h.9v.9h-.9zM38.9 76.8h.9v.9h-.9zM39.1 81.9h.9v.9h-.9zM41.9 87.4h.9v.9h-.9zM47.2 88.2h.9v.9h-.9zM44.3 81.3h.9v.9h-.9zM40.1 78.1h.9v.9h-.9zM47.0 87.2h.9v.9h-.9zM42.4 80.0h.9v.9h-.9zM44.7 84.6h.9v.9h-.9zM42.6 79.1h.9v.9h-.9zM42.9 81.1h.9v.9h-.9zM44.9 85.0h.9v.9h-.9zM43.7 81.6h.9v.9h-.9zM48.0 85.6h.9v.9h-.9zM47.0 85.8h.9v.9h-.9zM44.6 84.3h.9v.9h-.9zM37.8 76.9h.9v.9h-.9zM38.3 85.1h.9v.9h-.9zM45.6 83.6h.9v.9h-.9zM42.4 89.2h.9v.9h-.9zM40.4 77.0h.9v.9h-.9zM35.9 81.9h.9v.9h-.9zM44.8 85.5h.9v.9h-.9zM51.9 66.6h.9v.9h-.9zM82.3 64.3h.9v.9h-.9zM54.1 66.6h.9v.9h-.9zM90.8 78.7h.9v.9h-.9zM64.7 69.9h.9v.9h-.9zM94.7 88.9h.9v.9h-.9zM62.6 76.3h.9v.9h-.9zM90.7 65.7h.9v.9h-.9zM49.6 60.5h.9v.9h-.9zM66.1 83.1h.9v.9h-.9zM42.6 71.7h.9v.9h-.9zM99.4 73.4h.9v.9h-.9zM58.0 85.5h.9v.9h-.9zM92.7 69.8h.9v.9h-.9zM40.4 78.6h.9v.9h-.9zM82.3 88.4h.9v.9h-.9zM76.9 67.5h.9v.9h-.9zM67.0 66.8h.9v.9h-.9zM62.3 72.9h.9v.9h-.9zM94.0 87.8h.9v.9h-.9zM95.0 73.3h.9v.9h-.9zM97.6 61.7h.9v.9h-.9zM94.6 78.8h.9v.9h-.9zM91.3 71.1h.9v.9h-.9zM99.4 57.9h.9v.9h-.9zM89.7 84.9h.9v.9h-.9zM57.4 85.2h.9v.9h-.9zM46.5 82.6h.9v.9h-.9zM63.9 71.0h.9v.9h-.9zM45.4 84.2h.9v.9h-.9zM81.7 60.0h.9v.9h-.9zM98.5 64.5h.9v.9h-.9zM57.5 71.1h.9v.9h-.9zM71.2 87.3h.9v.9h-.9zM96.3 78.5h.9v.9h-.9zM56.9 60.7h.9v.9h-.9zM36.7 74.6h.9v.9h-.9zM71.7 72.2h.9v.9h-.9zM98.8 71.1h.9v.9h-.9zM55.9 71.2h.9v.9h-.9zM43.7 88.9h.9v.9h-.9zM72.2 75.5h.9v.9h-.9zM61.0 65.5h.9v.9h-.9zM53.4 73.8h.9v.9h-.9zM62.3 90.3h.9v.9h-.9zM70.3 64.0h.9v.9h-.9zM35.7 62.4h.9v.9h-.9zM55.5 83.6h.9v.9h-.9zM92.5 65.0h.9v.9h-.9zM85.1 72.0h.9v.9h-.9zM68.6 75.1h.9v.9h-.9zM34.9 59.3h.9v.9h-.9zM77.4 80.4h.9v.9h-.9zM57.9 88.2h.9v.9h-.9zM87.8 67.3h.9v.9h-.9zM36.6 75.8h.9v.9h-.9zM76.5 64.6h.9v.9h-.9zM35.0 73.6h.9v.9h-.9zM34.3 82.0h.9v.9h-.9zM74.5 66.5h.9v.9h-.9zM62.3 64.9h.9v.9h-.9zM44.6 63.2h.9v.9h-.9zM87.5 72.4h.9v.9h-.9zM80.7 68.8h.9v.9h-.9zM86.9 77.3h.9v.9h-.9zM76.5 70.4h.9v.9h-.9zM70.2 63.5h.9v.9h-.9zM98.2 79.9h.9v.9h-.9zM68.2 78.7h.9v.9h-.9zM38.8 68.4h.9v.9h-.9z" fill="#111"/><defs><linearGradient id="gg" x1="0" x2="1" y1="0" y2="0"><stop offset="0" stop-color="#b8b8b8"/><stop offset="0.45" stop-color="#c8c8c8"/><stop offset="1" stop-color="#dcdcdc"/></linearGradient></defs><path d="M34 104 Q37 97.5 44 96 Q52 95.5 58 97.5 Q61 100 61 104 Z" fill="#ebebeb"/><path d="M39.7 103.4h.9v.9h-.9zM33.4 99.4h.9v.9h-.9zM58.2 102.8h.9v.9h-.9zM53.8 98.0h.9v.9h-.9zM39.7 102.0h.9v.9h-.9zM41.7 102.2h.9v.9h-.9zM43.1 102.6h.9v.9h-.9zM49.6 103.2h.9v.9h-.9zM61.6 98.8h.9v.9h-.9zM61.6 95.1h.9v.9h-.9zM58.4 95.3h.9v.9h-.9zM48.8 98.9h.9v.9h-.9zM55.3 98.2h.9v.9h-.9zM39.0 102.8h.9v.9h-.9zM49.0 102.6h.9v.9h-.9zM47.2 95.4h.9v.9h-.9zM55.4 97.2h.9v.9h-.9zM46.7 95.0h.9v.9h-.9zM40.5 101.7h.9v.9h-.9zM55.2 101.4h.9v.9h-.9zM45.9 102.3h.9v.9h-.9zM52.4 97.1h.9v.9h-.9zM48.5 101.0h.9v.9h-.9zM54.1 97.0h.9v.9h-.9zM42.0 98.4h.9v.9h-.9zM35.8 98.5h.9v.9h-.9zM54.2 100.8h.9v.9h-.9zM38.0 102.3h.9v.9h-.9zM36.4 102.5h.9v.9h-.9zM37.3 96.0h.9v.9h-.9zM40.3 100.1h.9v.9h-.9zM40.8 103.8h.9v.9h-.9zM60.2 97.8h.9v.9h-.9zM54.7 102.0h.9v.9h-.9zM49.3 97.5h.9v.9h-.9zM60.5 104.6h.9v.9h-.9zM33.4 98.3h.9v.9h-.9zM42.3 97.0h.9v.9h-.9zM45.5 104.0h.9v.9h-.9zM33.7 103.4h.9v.9h-.9zM42.0 95.1h.9v.9h-.9zM59.1 97.7h.9v.9h-.9zM39.2 96.2h.9v.9h-.9zM43.6 96.2h.9v.9h-.9zM38.2 97.5h.9v.9h-.9zM49.8 99.5h.9v.9h-.9zM41.8 100.3h.9v.9h-.9zM55.4 102.2h.9v.9h-.9zM43.0 104.2h.9v.9h-.9zM55.9 100.6h.9v.9h-.9zM46.8 98.3h.9v.9h-.9zM36.9 103.9h.9v.9h-.9zM50.6 96.0h.9v.9h-.9zM59.8 103.9h.9v.9h-.9zM34.0 102.0h.9v.9h-.9zM39.9 100.4h.9v.9h-.9zM57.2 98.5h.9v.9h-.9zM47.5 101.7h.9v.9h-.9zM38.6 101.3h.9v.9h-.9zM45.3 104.8h.9v.9h-.9zM38.4 102.1h.9v.9h-.9zM34.2 97.7h.9v.9h-.9zM36.4 96.5h.9v.9h-.9zM48.3 96.7h.9v.9h-.9zM56.0 96.0h.9v.9h-.9zM51.1 103.6h.9v.9h-.9zM36.7 97.2h.9v.9h-.9zM55.2 99.7h.9v.9h-.9zM60.0 98.4h.9v.9h-.9zM44.5 104.6h.9v.9h-.9zM43.0 104.7h.9v.9h-.9zM58.8 97.0h.9v.9h-.9zM48.8 104.4h.9v.9h-.9zM36.4 103.5h.9v.9h-.9zM55.5 102.5h.9v.9h-.9zM50.4 96.0h.9v.9h-.9zM60.8 96.0h.9v.9h-.9zM55.7 102.2h.9v.9h-.9zM42.2 101.8h.9v.9h-.9zM44.9 102.5h.9v.9h-.9zM34.3 104.3h.9v.9h-.9zM44.1 103.0h.9v.9h-.9zM46.7 103.1h.9v.9h-.9zM41.7 100.5h.9v.9h-.9zM33.7 99.9h.9v.9h-.9zM35.3 103.6h.9v.9h-.9zM52.6 99.3h.9v.9h-.9zM61.3 104.5h.9v.9h-.9zM60.7 95.8h.9v.9h-.9zM53.4 102.3h.9v.9h-.9zM50.6 95.2h.9v.9h-.9zM59.8 99.4h.9v.9h-.9zM50.3 103.1h.9v.9h-.9zM41.0 95.3h.9v.9h-.9zM59.8 97.7h.9v.9h-.9zM34.2 96.4h.9v.9h-.9zM61.8 102.4h.9v.9h-.9zM39.1 96.5h.9v.9h-.9zM59.0 101.6h.9v.9h-.9zM49.9 96.3h.9v.9h-.9zM45.0 104.5h.9v.9h-.9zM33.1 99.2h.9v.9h-.9zM34.7 105.0h.9v.9h-.9zM36.0 104.5h.9v.9h-.9zM57.4 102.3h.9v.9h-.9zM34.2 102.0h.9v.9h-.9zM47.3 99.9h.9v.9h-.9zM37.2 100.1h.9v.9h-.9zM56.3 96.3h.9v.9h-.9zM58.4 99.2h.9v.9h-.9zM40.7 97.4h.9v.9h-.9zM46.3 101.5h.9v.9h-.9zM49.5 103.9h.9v.9h-.9zM47.8 100.1h.9v.9h-.9zM61.7 97.2h.9v.9h-.9zM33.5 98.3h.9v.9h-.9zM42.1 96.2h.9v.9h-.9zM45.1 95.3h.9v.9h-.9zM59.7 99.8h.9v.9h-.9zM58.5 102.0h.9v.9h-.9zM54.2 102.6h.9v.9h-.9zM41.7 102.3h.9v.9h-.9zM39.0 100.5h.9v.9h-.9zM50.3 102.8h.9v.9h-.9zM37.9 98.4h.9v.9h-.9zM56.9 103.0h.9v.9h-.9zM61.4 96.2h.9v.9h-.9zM39.1 96.1h.9v.9h-.9zM54.0 102.5h.9v.9h-.9zM51.8 102.8h.9v.9h-.9zM48.0 100.6h.9v.9h-.9zM59.7 101.5h.9v.9h-.9zM52.0 100.9h.9v.9h-.9zM47.3 102.6h.9v.9h-.9zM49.6 96.3h.9v.9h-.9zM45.3 99.2h.9v.9h-.9zM45.5 100.6h.9v.9h-.9zM43.5 98.9h.9v.9h-.9zM45.4 98.7h.9v.9h-.9zM61.2 95.9h.9v.9h-.9zM33.5 102.2h.9v.9h-.9zM44.5 99.5h.9v.9h-.9zM50.2 98.7h.9v.9h-.9zM39.9 95.2h.9v.9h-.9zM58.3 104.4h.9v.9h-.9zM41.3 99.7h.9v.9h-.9zM42.4 95.6h.9v.9h-.9zM58.9 103.4h.9v.9h-.9zM40.0 97.5h.9v.9h-.9zM53.2 103.0h.9v.9h-.9zM46.6 98.9h.9v.9h-.9zM39.8 103.0h.9v.9h-.9zM58.0 103.6h.9v.9h-.9zM36.3 100.9h.9v.9h-.9zM61.6 102.2h.9v.9h-.9zM46.3 96.5h.9v.9h-.9zM34.8 102.3h.9v.9h-.9zM35.0 103.1h.9v.9h-.9zM52.3 99.7h.9v.9h-.9zM58.9 104.3h.9v.9h-.9z" fill="#d0d0d0"/><path d="M31.4 118.6 L31.4 110 Q33 106.5 36 105.5 Q39 103.8 44 103.4 L56 103.8 Q70 104.8 84 107.2 Q96 109.5 102 113 L102.5 118.6 Z" fill="url(#gg)"/><path d="M75.4 104.6h.9v.9h-.9zM73.4 109.7h.9v.9h-.9zM49.0 117.9h.9v.9h-.9zM83.6 104.9h.9v.9h-.9zM47.5 108.5h.9v.9h-.9zM72.3 108.2h.9v.9h-.9zM62.7 116.0h.9v.9h-.9zM44.1 114.5h.9v.9h-.9zM54.8 118.1h.9v.9h-.9zM99.5 108.2h.9v.9h-.9zM74.6 104.8h.9v.9h-.9zM60.6 113.0h.9v.9h-.9zM76.9 108.5h.9v.9h-.9zM33.4 105.0h.9v.9h-.9zM71.4 105.7h.9v.9h-.9zM53.0 112.9h.9v.9h-.9zM95.9 111.2h.9v.9h-.9zM49.3 112.4h.9v.9h-.9zM50.8 115.5h.9v.9h-.9zM42.2 107.2h.9v.9h-.9zM62.6 117.5h.9v.9h-.9zM42.9 106.1h.9v.9h-.9zM40.5 106.4h.9v.9h-.9zM54.9 109.3h.9v.9h-.9zM85.7 109.5h.9v.9h-.9zM65.2 109.3h.9v.9h-.9zM86.7 117.5h.9v.9h-.9zM61.6 117.7h.9v.9h-.9zM49.0 118.6h.9v.9h-.9zM68.8 113.9h.9v.9h-.9zM58.5 107.3h.9v.9h-.9zM40.7 117.2h.9v.9h-.9zM56.9 114.2h.9v.9h-.9zM64.2 111.4h.9v.9h-.9zM45.9 105.8h.9v.9h-.9zM55.2 113.9h.9v.9h-.9zM70.1 103.0h.9v.9h-.9zM82.2 109.9h.9v.9h-.9zM36.0 107.2h.9v.9h-.9zM46.2 116.2h.9v.9h-.9zM70.6 108.2h.9v.9h-.9zM48.9 107.7h.9v.9h-.9zM51.2 108.5h.9v.9h-.9zM87.9 115.6h.9v.9h-.9zM81.3 117.2h.9v.9h-.9zM78.1 104.8h.9v.9h-.9zM34.2 105.6h.9v.9h-.9zM49.6 111.5h.9v.9h-.9zM90.2 112.4h.9v.9h-.9zM61.9 106.9h.9v.9h-.9zM101.7 115.1h.9v.9h-.9zM55.6 103.7h.9v.9h-.9zM101.7 107.1h.9v.9h-.9zM92.0 104.9h.9v.9h-.9zM78.0 108.7h.9v.9h-.9zM95.0 107.8h.9v.9h-.9zM38.3 106.2h.9v.9h-.9zM89.0 118.7h.9v.9h-.9zM77.3 113.9h.9v.9h-.9zM51.3 107.4h.9v.9h-.9zM37.2 118.8h.9v.9h-.9zM34.1 112.8h.9v.9h-.9zM56.2 106.0h.9v.9h-.9zM62.4 117.9h.9v.9h-.9zM48.8 105.6h.9v.9h-.9zM76.3 113.5h.9v.9h-.9zM67.8 105.9h.9v.9h-.9zM93.9 104.8h.9v.9h-.9zM43.5 106.9h.9v.9h-.9zM68.0 110.6h.9v.9h-.9zM70.9 114.6h.9v.9h-.9zM95.4 110.5h.9v.9h-.9zM34.0 116.3h.9v.9h-.9zM32.3 108.1h.9v.9h-.9zM41.3 112.6h.9v.9h-.9zM87.3 105.1h.9v.9h-.9zM52.2 116.6h.9v.9h-.9zM80.6 104.7h.9v.9h-.9zM80.4 115.7h.9v.9h-.9zM60.4 105.5h.9v.9h-.9zM78.4 108.1h.9v.9h-.9zM40.6 105.6h.9v.9h-.9zM60.0 105.0h.9v.9h-.9zM58.7 111.8h.9v.9h-.9zM70.8 109.5h.9v.9h-.9zM88.6 104.4h.9v.9h-.9zM54.7 117.9h.9v.9h-.9zM93.2 117.7h.9v.9h-.9zM86.1 111.6h.9v.9h-.9zM87.7 112.2h.9v.9h-.9zM39.5 107.1h.9v.9h-.9zM38.0 117.0h.9v.9h-.9zM54.2 109.5h.9v.9h-.9zM69.8 104.6h.9v.9h-.9zM81.8 115.7h.9v.9h-.9zM88.3 117.1h.9v.9h-.9zM53.8 105.3h.9v.9h-.9zM85.8 114.1h.9v.9h-.9zM57.8 108.5h.9v.9h-.9zM42.1 116.3h.9v.9h-.9zM64.2 116.0h.9v.9h-.9zM55.5 108.1h.9v.9h-.9zM68.0 114.9h.9v.9h-.9zM94.6 108.7h.9v.9h-.9zM80.9 109.5h.9v.9h-.9zM93.0 115.2h.9v.9h-.9zM71.0 108.8h.9v.9h-.9zM50.7 117.2h.9v.9h-.9zM88.7 107.9h.9v.9h-.9zM37.1 106.1h.9v.9h-.9zM100.4 103.6h.9v.9h-.9zM89.3 111.5h.9v.9h-.9zM70.9 111.6h.9v.9h-.9zM60.5 111.9h.9v.9h-.9zM37.5 117.7h.9v.9h-.9zM38.4 105.2h.9v.9h-.9zM79.4 113.3h.9v.9h-.9zM89.1 114.1h.9v.9h-.9zM98.0 103.8h.9v.9h-.9zM31.8 106.8h.9v.9h-.9zM87.1 105.4h.9v.9h-.9zM69.3 115.3h.9v.9h-.9zM42.3 111.4h.9v.9h-.9zM95.9 115.0h.9v.9h-.9zM59.7 110.7h.9v.9h-.9zM51.0 118.4h.9v.9h-.9zM87.3 113.9h.9v.9h-.9zM52.9 114.7h.9v.9h-.9zM66.0 115.8h.9v.9h-.9zM57.2 117.1h.9v.9h-.9z" fill="#e4e4e4"/><path d="M80.3 110.2h.9v.9h-.9zM71.5 115.9h.9v.9h-.9zM69.1 118.4h.9v.9h-.9zM31.5 117.4h.9v.9h-.9zM82.4 110.8h.9v.9h-.9zM92.2 105.4h.9v.9h-.9zM55.3 114.4h.9v.9h-.9zM90.3 109.0h.9v.9h-.9zM102.6 113.4h.9v.9h-.9zM34.3 105.0h.9v.9h-.9zM36.5 112.1h.9v.9h-.9zM54.2 107.2h.9v.9h-.9zM63.2 104.3h.9v.9h-.9zM96.4 116.4h.9v.9h-.9zM71.2 110.1h.9v.9h-.9zM53.2 112.6h.9v.9h-.9zM56.0 118.6h.9v.9h-.9zM99.8 114.6h.9v.9h-.9zM90.5 104.2h.9v.9h-.9zM39.9 108.5h.9v.9h-.9zM40.1 109.8h.9v.9h-.9zM102.0 116.4h.9v.9h-.9zM100.0 106.5h.9v.9h-.9zM47.0 103.4h.9v.9h-.9zM50.7 103.9h.9v.9h-.9zM69.0 107.8h.9v.9h-.9zM79.5 112.0h.9v.9h-.9zM74.0 107.8h.9v.9h-.9zM83.9 114.0h.9v.9h-.9zM82.4 110.5h.9v.9h-.9zM64.4 107.6h.9v.9h-.9zM33.9 110.5h.9v.9h-.9zM75.4 106.0h.9v.9h-.9zM92.9 117.1h.9v.9h-.9zM92.5 116.1h.9v.9h-.9zM66.2 105.8h.9v.9h-.9zM50.5 114.8h.9v.9h-.9zM101.9 104.8h.9v.9h-.9zM31.5 108.7h.9v.9h-.9zM56.1 112.6h.9v.9h-.9zM39.1 116.5h.9v.9h-.9zM55.3 117.5h.9v.9h-.9zM54.7 107.9h.9v.9h-.9zM43.7 118.5h.9v.9h-.9zM73.4 116.2h.9v.9h-.9zM35.5 111.7h.9v.9h-.9zM83.8 118.7h.9v.9h-.9zM98.4 104.7h.9v.9h-.9zM57.9 119.0h.9v.9h-.9zM69.5 118.3h.9v.9h-.9zM49.3 103.4h.9v.9h-.9zM99.1 107.2h.9v.9h-.9zM71.4 108.8h.9v.9h-.9zM72.6 117.9h.9v.9h-.9zM99.2 117.0h.9v.9h-.9zM49.5 116.1h.9v.9h-.9zM32.3 109.7h.9v.9h-.9zM99.0 107.1h.9v.9h-.9zM57.4 112.3h.9v.9h-.9zM48.0 114.3h.9v.9h-.9zM78.0 104.5h.9v.9h-.9zM97.2 104.1h.9v.9h-.9zM81.2 108.6h.9v.9h-.9zM41.3 104.2h.9v.9h-.9zM102.8 115.8h.9v.9h-.9zM64.0 115.7h.9v.9h-.9zM100.8 117.8h.9v.9h-.9zM69.3 107.4h.9v.9h-.9zM68.3 118.7h.9v.9h-.9zM83.6 113.7h.9v.9h-.9zM91.7 109.5h.9v.9h-.9zM71.2 116.6h.9v.9h-.9zM45.3 116.7h.9v.9h-.9zM32.8 111.6h.9v.9h-.9zM72.4 105.3h.9v.9h-.9zM97.4 110.0h.9v.9h-.9zM44.3 109.6h.9v.9h-.9zM73.6 109.9h.9v.9h-.9zM31.2 104.5h.9v.9h-.9zM82.4 105.1h.9v.9h-.9zM49.4 115.9h.9v.9h-.9zM93.0 117.1h.9v.9h-.9zM43.6 103.1h.9v.9h-.9zM85.3 112.6h.9v.9h-.9zM57.2 103.3h.9v.9h-.9zM62.1 106.8h.9v.9h-.9zM73.3 118.7h.9v.9h-.9zM46.1 104.2h.9v.9h-.9zM81.0 104.7h.9v.9h-.9zM47.1 110.0h.9v.9h-.9zM102.0 108.2h.9v.9h-.9zM53.7 110.6h.9v.9h-.9zM42.7 109.4h.9v.9h-.9zM81.4 108.2h.9v.9h-.9zM88.3 105.9h.9v.9h-.9zM38.3 113.0h.9v.9h-.9zM63.6 117.7h.9v.9h-.9zM38.6 114.9h.9v.9h-.9zM79.2 108.9h.9v.9h-.9zM40.2 112.8h.9v.9h-.9zM85.6 110.6h.9v.9h-.9zM65.0 114.0h.9v.9h-.9zM74.9 109.8h.9v.9h-.9zM44.4 110.4h.9v.9h-.9zM70.6 117.3h.9v.9h-.9zM102.6 111.9h.9v.9h-.9zM54.7 106.6h.9v.9h-.9zM76.4 114.8h.9v.9h-.9zM48.8 114.0h.9v.9h-.9zM102.9 109.3h.9v.9h-.9zM98.6 110.0h.9v.9h-.9zM78.0 116.9h.9v.9h-.9zM45.6 108.5h.9v.9h-.9zM101.9 104.0h.9v.9h-.9zM53.0 110.6h.9v.9h-.9zM84.6 113.1h.9v.9h-.9zM97.9 113.7h.9v.9h-.9zM31.1 104.1h.9v.9h-.9zM33.6 109.9h.9v.9h-.9zM32.9 111.4h.9v.9h-.9zM76.5 106.2h.9v.9h-.9zM92.6 109.6h.9v.9h-.9zM100.1 108.7h.9v.9h-.9zM75.6 111.7h.9v.9h-.9zM49.9 115.5h.9v.9h-.9zM31.3 107.0h.9v.9h-.9zM54.1 117.1h.9v.9h-.9zM67.0 103.6h.9v.9h-.9zM52.5 112.8h.9v.9h-.9zM89.2 104.7h.9v.9h-.9z" fill="#b4b4b4"/><rect x="29.60" y="53.90" width="90.80" height="38.00" fill="none" stroke="#4a4a4a" stroke-width="1.1" /><text x="50.60" y="35.75" font-family="Liberation Serif" font-size="8.2" fill="#222" textLength="21.70" lengthAdjust="spacingAndGlyphs" >CFSE</text><path d="M72.50 31.80H74.70M73.60 30.70V32.90" stroke="#333" stroke-width="0.8" fill="none"/><text x="78.10" y="35.75" font-family="Liberation Serif" font-size="8.2" fill="#222" textLength="16.30" lengthAdjust="spacingAndGlyphs" >cells</text><text x="46.90" y="48.50" font-family="Liberation Serif" font-size="8.6" font-weight="bold" stroke="#000" stroke-width="0.3" textLength="51.90" lengthAdjust="spacingAndGlyphs" >= Target cells</text><text x="49.50" y="106.10" font-family="Liberation Serif" font-size="8.2" fill="#222" textLength="22.30" lengthAdjust="spacingAndGlyphs" >CFSE</text><path d="M72.40 101.60H74.40" stroke="#333" stroke-width="0.9" fill="none"/><text x="77.20" y="106.10" font-family="Liberation Serif" font-size="8.2" fill="#222" textLength="15.40" lengthAdjust="spacingAndGlyphs" >cells</text><text x="41.10" y="117.30" font-family="Liberation Serif" font-size="8.8" font-weight="bold" stroke="#000" stroke-width="0.3" textLength="60.00" lengthAdjust="spacingAndGlyphs" >= Effector cells</text><line x1="21.60" y1="47.50" x2="24.90" y2="47.50" stroke="#222" stroke-width="1.7" /><text x="19.90" y="49.90" font-family="Liberation Sans" font-size="6.2" fill="#333" textLength="4.70" lengthAdjust="spacingAndGlyphs" transform="rotate(-90 19.90 49.90)" >10</text><text x="16.00" y="44.50" font-family="Liberation Sans" font-size="4.2" fill="#333" textLength="2.20" lengthAdjust="spacingAndGlyphs" transform="rotate(-90 16.00 44.50)" >5</text><line x1="21.60" y1="67.00" x2="24.90" y2="67.00" stroke="#222" stroke-width="1.7" /><text x="19.90" y="69.40" font-family="Liberation Sans" font-size="6.2" fill="#333" textLength="4.70" lengthAdjust="spacingAndGlyphs" transform="rotate(-90 19.90 69.40)" >10</text><text x="16.00" y="64.00" font-family="Liberation Sans" font-size="4.2" fill="#333" textLength="2.20" lengthAdjust="spacingAndGlyphs" transform="rotate(-90 16.00 64.00)" >4</text><line x1="21.60" y1="86.90" x2="24.90" y2="86.90" stroke="#222" stroke-width="1.7" /><text x="19.90" y="89.30" font-family="Liberation Sans" font-size="6.2" fill="#333" textLength="4.70" lengthAdjust="spacingAndGlyphs" transform="rotate(-90 19.90 89.30)" >10</text><text x="16.00" y="83.90" font-family="Liberation Sans" font-size="4.2" fill="#333" textLength="2.20" lengthAdjust="spacingAndGlyphs" transform="rotate(-90 16.00 83.90)" >3</text><line x1="21.60" y1="106.70" x2="24.90" y2="106.70" stroke="#222" stroke-width="1.7" /><text x="19.90" y="109.10" font-family="Liberation Sans" font-size="6.2" fill="#333" textLength="4.70" lengthAdjust="spacingAndGlyphs" transform="rotate(-90 19.90 109.10)" >10</text><text x="16.00" y="103.70" font-family="Liberation Sans" font-size="4.2" fill="#333" textLength="2.20" lengthAdjust="spacingAndGlyphs" transform="rotate(-90 16.00 103.70)" >2</text><line x1="22.60" y1="61.13" x2="24.90" y2="61.13" stroke="#444" stroke-width="1.0" /><line x1="22.60" y1="57.70" x2="24.90" y2="57.70" stroke="#444" stroke-width="1.0" /><line x1="22.60" y1="55.26" x2="24.90" y2="55.26" stroke="#444" stroke-width="1.0" /><line x1="22.60" y1="53.37" x2="24.90" y2="53.37" stroke="#444" stroke-width="1.0" /><line x1="22.60" y1="51.83" x2="24.90" y2="51.83" stroke="#444" stroke-width="1.0" /><line x1="22.60" y1="50.52" x2="24.90" y2="50.52" stroke="#444" stroke-width="1.0" /><line x1="22.60" y1="49.39" x2="24.90" y2="49.39" stroke="#444" stroke-width="1.0" /><line x1="22.60" y1="48.39" x2="24.90" y2="48.39" stroke="#444" stroke-width="1.0" /><line x1="22.60" y1="80.91" x2="24.90" y2="80.91" stroke="#444" stroke-width="1.0" /><line x1="22.60" y1="77.41" x2="24.90" y2="77.41" stroke="#444" stroke-width="1.0" /><line x1="22.60" y1="74.92" x2="24.90" y2="74.92" stroke="#444" stroke-width="1.0" /><line x1="22.60" y1="72.99" x2="24.90" y2="72.99" stroke="#444" stroke-width="1.0" /><line x1="22.60" y1="71.41" x2="24.90" y2="71.41" stroke="#444" stroke-width="1.0" /><line x1="22.60" y1="70.08" x2="24.90" y2="70.08" stroke="#444" stroke-width="1.0" /><line x1="22.60" y1="68.93" x2="24.90" y2="68.93" stroke="#444" stroke-width="1.0" /><line x1="22.60" y1="67.91" x2="24.90" y2="67.91" stroke="#444" stroke-width="1.0" /><line x1="22.60" y1="100.74" x2="24.90" y2="100.74" stroke="#444" stroke-width="1.0" /><line x1="22.60" y1="97.25" x2="24.90" y2="97.25" stroke="#444" stroke-width="1.0" /><line x1="22.60" y1="94.78" x2="24.90" y2="94.78" stroke="#444" stroke-width="1.0" /><line x1="22.60" y1="92.86" x2="24.90" y2="92.86" stroke="#444" stroke-width="1.0" /><line x1="22.60" y1="91.29" x2="24.90" y2="91.29" stroke="#444" stroke-width="1.0" /><line x1="22.60" y1="89.97" x2="24.90" y2="89.97" stroke="#444" stroke-width="1.0" /><line x1="22.60" y1="88.82" x2="24.90" y2="88.82" stroke="#444" stroke-width="1.0" /><line x1="22.60" y1="87.81" x2="24.90" y2="87.81" stroke="#444" stroke-width="1.0" /><line x1="21.60" y1="116.00" x2="24.90" y2="116.00" stroke="#222" stroke-width="1.7" /><text x="19.90" y="117.30" font-family="Liberation Sans" font-size="6.0" fill="#333" textLength="2.60" lengthAdjust="spacingAndGlyphs" transform="rotate(-90 19.90 117.30)" >0</text><text x="19.90" y="125.00" font-family="Liberation Sans" font-size="5.6" fill="#333" textLength="6.00" lengthAdjust="spacingAndGlyphs" transform="rotate(-90 19.90 125.00)" >-55</text><line x1="22.60" y1="110.00" x2="24.90" y2="110.00" stroke="#444" stroke-width="1.0" /><line x1="22.60" y1="113.00" x2="24.90" y2="113.00" stroke="#444" stroke-width="1.0" /><line x1="22.60" y1="119.50" x2="24.90" y2="119.50" stroke="#444" stroke-width="1.0" /><line x1="22.60" y1="122.00" x2="24.90" y2="122.00" stroke="#444" stroke-width="1.0" /><text x="9.60" y="84.50" font-family="Liberation Sans" font-size="6.8" text-anchor="middle" fill="#333" textLength="35.00" lengthAdjust="spacingAndGlyphs" transform="rotate(-90 9.60 84.50)" >CFSE FITC-A</text><line x1="24.90" y1="124.50" x2="24.90" y2="128.00" stroke="#222" stroke-width="1.2" /><line x1="28.60" y1="124.50" x2="28.60" y2="127.00" stroke="#222" stroke-width="1.0" /><line x1="32.30" y1="124.50" x2="32.30" y2="127.00" stroke="#222" stroke-width="1.0" /><line x1="36.00" y1="124.50" x2="36.00" y2="127.00" stroke="#222" stroke-width="1.0" /><line x1="39.70" y1="124.50" x2="39.70" y2="127.00" stroke="#222" stroke-width="1.0" /><line x1="43.40" y1="124.50" x2="43.40" y2="128.00" stroke="#222" stroke-width="1.2" /><line x1="47.10" y1="124.50" x2="47.10" y2="127.00" stroke="#222" stroke-width="1.0" /><line x1="50.80" y1="124.50" x2="50.80" y2="127.00" stroke="#222" stroke-width="1.0" /><line x1="54.50" y1="124.50" x2="54.50" y2="127.00" stroke="#222" stroke-width="1.0" /><line x1="58.20" y1="124.50" x2="58.20" y2="127.00" stroke="#222" stroke-width="1.0" /><line x1="61.90" y1="124.50" x2="61.90" y2="128.00" stroke="#222" stroke-width="1.2" /><line x1="65.60" y1="124.50" x2="65.60" y2="127.00" stroke="#222" stroke-width="1.0" /><line x1="69.30" y1="124.50" x2="69.30" y2="127.00" stroke="#222" stroke-width="1.0" /><line x1="73.00" y1="124.50" x2="73.00" y2="127.00" stroke="#222" stroke-width="1.0" /><line x1="76.70" y1="124.50" x2="76.70" y2="127.00" stroke="#222" stroke-width="1.0" /><line x1="80.40" y1="124.50" x2="80.40" y2="128.00" stroke="#222" stroke-width="1.2" /><line x1="84.10" y1="124.50" x2="84.10" y2="127.00" stroke="#222" stroke-width="1.0" /><line x1="87.80" y1="124.50" x2="87.80" y2="127.00" stroke="#222" stroke-width="1.0" /><line x1="91.50" y1="124.50" x2="91.50" y2="127.00" stroke="#222" stroke-width="1.0" /><line x1="95.20" y1="124.50" x2="95.20" y2="127.00" stroke="#222" stroke-width="1.0" /><line x1="98.90" y1="124.50" x2="98.90" y2="128.00" stroke="#222" stroke-width="1.2" /><line x1="102.60" y1="124.50" x2="102.60" y2="127.00" stroke="#222" stroke-width="1.0" /><line x1="106.30" y1="124.50" x2="106.30" y2="127.00" stroke="#222" stroke-width="1.0" /><line x1="110.00" y1="124.50" x2="110.00" y2="127.00" stroke="#222" stroke-width="1.0" /><line x1="113.70" y1="124.50" x2="113.70" y2="127.00" stroke="#222" stroke-width="1.0" /><line x1="117.40" y1="124.50" x2="117.40" y2="128.00" stroke="#222" stroke-width="1.2" /><line x1="121.10" y1="124.50" x2="121.10" y2="127.00" stroke="#222" stroke-width="1.0" /><text x="43.40" y="136.60" font-family="Liberation Sans" font-size="5.6" text-anchor="middle" fill="#222" >50</text><text x="61.90" y="136.60" font-family="Liberation Sans" font-size="5.6" text-anchor="middle" fill="#222" >100</text><text x="80.40" y="136.60" font-family="Liberation Sans" font-size="5.6" text-anchor="middle" fill="#222" >150</text><text x="98.90" y="136.60" font-family="Liberation Sans" font-size="5.6" text-anchor="middle" fill="#222" >200</text><text x="117.40" y="136.60" font-family="Liberation Sans" font-size="5.6" text-anchor="middle" fill="#222" >250</text><text x="62.40" y="144.30" font-family="Liberation Sans" font-size="6.8" fill="#333" textLength="21.20" lengthAdjust="spacingAndGlyphs" >FSC-H</text><text x="99.80" y="143.30" font-family="Liberation Sans" font-size="5.2" fill="#444" textLength="21.20" lengthAdjust="spacingAndGlyphs" >(x 1 000)</text><rect x="132.10" y="25.80" width="125.50" height="123.90" fill="none" stroke="#6e6e6e" stroke-width="1.2" /><rect x="157.00" y="38.80" width="96.50" height="85.60" fill="none" stroke="#3c3c3c" stroke-width="1.0" /><line x1="187.00" y1="38.80" x2="187.00" y2="124.40" stroke="#555" stroke-width="1.0" /><line x1="244.40" y1="38.80" x2="244.40" y2="124.40" stroke="#555" stroke-width="1.0" /><line x1="187.00" y1="98.20" x2="244.40" y2="98.20" stroke="#555" stroke-width="1.0" /><path d="M161.7 124.4 L161.7 124.4 L162.3 121.1 L162.9 118.2 L163.5 114.9 L164.1 111.1 L164.7 107.1 L165.3 96.0 L165.9 85.1 L166.5 73.9 L167.1 66.8 L167.7 58.8 L168.3 51.5 L168.9 48.5 L169.5 45.0 L170.1 42.1 L170.7 40.5 L171.3 39.4 L171.9 41.4 L172.5 41.6 L173.1 42.4 L173.7 44.7 L174.3 46.9 L174.9 50.4 L175.5 56.1 L176.1 60.1 L176.7 61.2 L177.3 63.3 L177.9 70.3 L178.5 75.1 L179.1 81.5 L179.7 88.1 L180.3 93.5 L180.9 97.8 L181.5 100.3 L182.1 103.5 L182.7 105.6 L183.3 108.9 L183.9 110.8 L184.5 112.0 L185.1 113.2 L185.7 115.9 L186.3 115.6 L186.9 116.6 L187.5 116.6 L188.1 118.6 L188.7 117.7 L189.3 118.5 L189.9 118.6 L190.5 118.3 L191.1 119.2 L191.7 118.9 L192.3 119.3 L192.9 119.4 L193.5 117.9 L194.1 119.3 L194.7 118.5 L195.3 118.8 L195.9 119.0 L196.5 120.3 L197.1 118.8 L197.7 119.6 L198.3 119.2 L198.9 121.0 L199.5 120.2 L200.1 120.7 L200.7 120.6 L201.3 121.1 L201.9 120.6 L202.5 120.9 L203.1 121.6 L203.7 121.7 L204.3 122.1 L204.9 121.6 L205.5 122.4 L206.1 122.4 L206.7 122.4 L207.3 122.5 L207.9 122.8 L208.5 122.6 L209.1 122.7 L209.7 122.9 L210.3 122.8 L210.9 122.7 L211.5 123.1 L212.1 123.1 L212.7 123.1 L213.3 122.8 L213.9 123.1 L214.5 123.2 L215.1 123.1 L215.7 122.8 L216.3 123.0 L216.9 122.9 L217.5 122.9 L218.1 122.8 L218.7 123.2 L219.3 122.8 L219.9 122.8 L220.5 121.8 L221.1 121.6 L221.7 121.6 L222.3 120.6 L222.9 120.3 L223.5 120.1 L224.1 119.2 L224.7 118.0 L225.3 115.4 L225.9 113.6 L226.5 109.7 L227.1 106.2 L227.7 103.6 L228.3 101.0 L228.9 104.5 L229.5 109.3 L230.1 115.9 L230.7 120.9 L231.3 123.8 L231.9 123.9 L232.5 123.8 L233.1 123.9 L233.7 124.0 L234.3 124.0 L234.9 124.1 L235.5 124.1 L236.1 124.2 L236.7 124.2 L237.3 124.2 L237.9 124.2 L238.5 124.2 L239.1 124.2 L239.7 124.2 L240.3 124.2 L240.9 124.2 L241.5 124.2 L242.1 124.2 L242.7 124.2 L243.3 124.2 L243.5 124.4 Z" fill="#000" stroke="#000" stroke-width="0.4"/><text x="205.00" y="51.30" font-family="Liberation Serif" font-size="11.3" font-weight="bold" stroke="#000" stroke-width="0.3" textLength="29.80" lengthAdjust="spacingAndGlyphs" >12.3%</text><line x1="154.80" y1="120.80" x2="157.00" y2="120.80" stroke="#444" stroke-width="0.9" /><line x1="154.80" y1="117.20" x2="157.00" y2="117.20" stroke="#444" stroke-width="0.9" /><line x1="154.80" y1="113.60" x2="157.00" y2="113.60" stroke="#444" stroke-width="0.9" /><line x1="154.80" y1="110.00" x2="157.00" y2="110.00" stroke="#444" stroke-width="0.9" /><line x1="154.80" y1="106.40" x2="157.00" y2="106.40" stroke="#444" stroke-width="0.9" /><line x1="154.80" y1="102.80" x2="157.00" y2="102.80" stroke="#444" stroke-width="0.9" /><line x1="154.80" y1="99.20" x2="157.00" y2="99.20" stroke="#444" stroke-width="0.9" /><line x1="154.80" y1="95.60" x2="157.00" y2="95.60" stroke="#444" stroke-width="0.9" /><line x1="154.80" y1="92.00" x2="157.00" y2="92.00" stroke="#444" stroke-width="0.9" /><line x1="154.80" y1="88.40" x2="157.00" y2="88.40" stroke="#444" stroke-width="0.9" /><line x1="154.80" y1="84.80" x2="157.00" y2="84.80" stroke="#444" stroke-width="0.9" /><line x1="154.80" y1="81.20" x2="157.00" y2="81.20" stroke="#444" stroke-width="0.9" /><line x1="154.80" y1="77.60" x2="157.00" y2="77.60" stroke="#444" stroke-width="0.9" /><line x1="154.80" y1="74.00" x2="157.00" y2="74.00" stroke="#444" stroke-width="0.9" /><line x1="154.80" y1="70.40" x2="157.00" y2="70.40" stroke="#444" stroke-width="0.9" /><line x1="154.80" y1="66.80" x2="157.00" y2="66.80" stroke="#444" stroke-width="0.9" /><line x1="154.80" y1="63.20" x2="157.00" y2="63.20" stroke="#444" stroke-width="0.9" /><line x1="154.80" y1="59.60" x2="157.00" y2="59.60" stroke="#444" stroke-width="0.9" /><line x1="154.80" y1="56.00" x2="157.00" y2="56.00" stroke="#444" stroke-width="0.9" /><line x1="154.80" y1="52.40" x2="157.00" y2="52.40" stroke="#444" stroke-width="0.9" /><line x1="154.80" y1="48.80" x2="157.00" y2="48.80" stroke="#444" stroke-width="0.9" /><line x1="154.80" y1="45.20" x2="157.00" y2="45.20" stroke="#444" stroke-width="0.9" /><line x1="154.80" y1="41.60" x2="157.00" y2="41.60" stroke="#444" stroke-width="0.9" /><line x1="153.40" y1="124.40" x2="157.00" y2="124.40" stroke="#222" stroke-width="1.1" /><text x="151.80" y="124.40" font-family="Liberation Sans" font-size="5.6" text-anchor="middle" fill="#222" transform="rotate(-90 151.80 124.40)" >0</text><line x1="153.40" y1="106.40" x2="157.00" y2="106.40" stroke="#222" stroke-width="1.1" /><text x="151.80" y="106.40" font-family="Liberation Sans" font-size="5.6" text-anchor="middle" fill="#222" transform="rotate(-90 151.80 106.40)" >50</text><line x1="153.40" y1="88.40" x2="157.00" y2="88.40" stroke="#222" stroke-width="1.1" /><text x="151.80" y="88.40" font-family="Liberation Sans" font-size="5.6" text-anchor="middle" fill="#222" transform="rotate(-90 151.80 88.40)" >100</text><line x1="153.40" y1="70.40" x2="157.00" y2="70.40" stroke="#222" stroke-width="1.1" /><text x="151.80" y="70.40" font-family="Liberation Sans" font-size="5.6" text-anchor="middle" fill="#222" transform="rotate(-90 151.80 70.40)" >150</text><line x1="153.40" y1="52.40" x2="157.00" y2="52.40" stroke="#222" stroke-width="1.1" /><text x="151.80" y="52.40" font-family="Liberation Sans" font-size="5.6" text-anchor="middle" fill="#222" transform="rotate(-90 151.80 52.40)" >200</text><text x="143.50" y="81.00" font-family="Liberation Sans" font-size="6.6" text-anchor="middle" fill="#333" textLength="18.00" lengthAdjust="spacingAndGlyphs" transform="rotate(-90 143.50 81.00)" >Count</text><line x1="161.50" y1="124.40" x2="161.50" y2="129.60" stroke="#333" stroke-width="1.0" /><line x1="165.00" y1="124.40" x2="165.00" y2="127.20" stroke="#333" stroke-width="0.7" /><line x1="168.60" y1="124.40" x2="168.60" y2="129.60" stroke="#333" stroke-width="1.0" /><line x1="172.30" y1="124.40" x2="172.30" y2="127.20" stroke="#333" stroke-width="0.7" /><line x1="176.40" y1="124.40" x2="176.40" y2="129.60" stroke="#333" stroke-width="1.0" /><line x1="183.41" y1="124.40" x2="183.41" y2="127.20" stroke="#333" stroke-width="0.7" /><line x1="187.52" y1="124.40" x2="187.52" y2="127.20" stroke="#333" stroke-width="0.7" /><line x1="190.43" y1="124.40" x2="190.43" y2="127.20" stroke="#333" stroke-width="0.7" /><line x1="192.69" y1="124.40" x2="192.69" y2="127.20" stroke="#333" stroke-width="0.7" /><line x1="194.53" y1="124.40" x2="194.53" y2="127.20" stroke="#333" stroke-width="0.7" /><line x1="196.09" y1="124.40" x2="196.09" y2="127.20" stroke="#333" stroke-width="0.7" /><line x1="197.44" y1="124.40" x2="197.44" y2="127.20" stroke="#333" stroke-width="0.7" /><line x1="198.63" y1="124.40" x2="198.63" y2="127.20" stroke="#333" stroke-width="0.7" /><line x1="199.70" y1="124.40" x2="199.70" y2="129.60" stroke="#333" stroke-width="1.0" /><line x1="206.71" y1="124.40" x2="206.71" y2="127.20" stroke="#333" stroke-width="0.7" /><line x1="210.82" y1="124.40" x2="210.82" y2="127.20" stroke="#333" stroke-width="0.7" /><line x1="213.73" y1="124.40" x2="213.73" y2="127.20" stroke="#333" stroke-width="0.7" /><line x1="215.99" y1="124.40" x2="215.99" y2="127.20" stroke="#333" stroke-width="0.7" /><line x1="217.83" y1="124.40" x2="217.83" y2="127.20" stroke="#333" stroke-width="0.7" /><line x1="219.39" y1="124.40" x2="219.39" y2="127.20" stroke="#333" stroke-width="0.7" /><line x1="220.74" y1="124.40" x2="220.74" y2="127.20" stroke="#333" stroke-width="0.7" /><line x1="221.93" y1="124.40" x2="221.93" y2="127.20" stroke="#333" stroke-width="0.7" /><line x1="223.00" y1="124.40" x2="223.00" y2="129.60" stroke="#333" stroke-width="1.0" /><line x1="230.01" y1="124.40" x2="230.01" y2="127.20" stroke="#333" stroke-width="0.7" /><line x1="234.12" y1="124.40" x2="234.12" y2="127.20" stroke="#333" stroke-width="0.7" /><line x1="237.03" y1="124.40" x2="237.03" y2="127.20" stroke="#333" stroke-width="0.7" /><line x1="239.29" y1="124.40" x2="239.29" y2="127.20" stroke="#333" stroke-width="0.7" /><line x1="241.13" y1="124.40" x2="241.13" y2="127.20" stroke="#333" stroke-width="0.7" /><line x1="242.69" y1="124.40" x2="242.69" y2="127.20" stroke="#333" stroke-width="0.7" /><line x1="244.04" y1="124.40" x2="244.04" y2="127.20" stroke="#333" stroke-width="0.7" /><line x1="245.23" y1="124.40" x2="245.23" y2="127.20" stroke="#333" stroke-width="0.7" /><line x1="246.30" y1="124.40" x2="246.30" y2="129.60" stroke="#333" stroke-width="1.0" /><text x="168.60" y="136.00" font-family="Liberation Sans" font-size="5.6" text-anchor="middle" fill="#333" >0</text><text x="173.80" y="136.00" font-family="Liberation Sans" font-size="5.6" fill="#333" textLength="5.40" lengthAdjust="spacingAndGlyphs" >10</text><text x="179.30" y="133.00" font-family="Liberation Sans" font-size="4.0" fill="#333" >2</text><text x="197.10" y="136.00" font-family="Liberation Sans" font-size="5.6" fill="#333" textLength="5.40" lengthAdjust="spacingAndGlyphs" >10</text><text x="202.60" y="133.00" font-family="Liberation Sans" font-size="4.0" fill="#333" >3</text><text x="220.40" y="136.00" font-family="Liberation Sans" font-size="5.6" fill="#333" textLength="5.40" lengthAdjust="spacingAndGlyphs" >10</text><text x="225.90" y="133.00" font-family="Liberation Sans" font-size="4.0" fill="#333" >4</text><text x="241.60" y="136.00" font-family="Liberation Sans" font-size="5.6" fill="#333" textLength="5.40" lengthAdjust="spacingAndGlyphs" >10</text><text x="247.10" y="133.00" font-family="Liberation Sans" font-size="4.0" fill="#333" >5</text><text x="192.30" y="145.60" font-family="Liberation Sans" font-size="6.6" fill="#333" textLength="24.30" lengthAdjust="spacingAndGlyphs" >7AAD-A</text><rect x="263.30" y="25.80" width="125.40" height="123.90" fill="none" stroke="#6e6e6e" stroke-width="1.2" /><rect x="288.70" y="38.80" width="96.50" height="85.60" fill="none" stroke="#3c3c3c" stroke-width="1.0" /><line x1="318.70" y1="38.80" x2="318.70" y2="124.40" stroke="#555" stroke-width="1.0" /><line x1="376.10" y1="38.80" x2="376.10" y2="124.40" stroke="#555" stroke-width="1.0" /><line x1="318.70" y1="89.80" x2="376.10" y2="89.80" stroke="#555" stroke-width="1.0" /><path d="M293.7 124.4 L293.7 124.4 L294.3 122.8 L294.9 120.3 L295.5 117.8 L296.1 114.2 L296.7 108.3 L297.3 100.9 L297.9 94.6 L298.5 86.8 L299.1 78.1 L299.7 71.5 L300.3 67.2 L300.9 62.4 L301.5 58.0 L302.1 56.3 L302.7 54.3 L303.3 54.4 L303.9 55.5 L304.5 58.2 L305.1 61.1 L305.7 64.9 L306.3 67.2 L306.9 72.1 L307.5 75.6 L308.1 81.4 L308.7 86.6 L309.3 93.0 L309.9 97.8 L310.5 102.6 L311.1 106.0 L311.7 108.0 L312.3 107.7 L312.9 109.3 L313.5 110.5 L314.1 110.5 L314.7 110.4 L315.3 109.6 L315.9 110.6 L316.5 109.2 L317.1 108.8 L317.7 108.8 L318.3 109.1 L318.9 109.0 L319.5 109.0 L320.1 109.8 L320.7 109.8 L321.3 109.1 L321.9 109.8 L322.5 109.4 L323.1 109.7 L323.7 109.8 L324.3 109.8 L324.9 110.5 L325.5 111.7 L326.1 111.4 L326.7 110.5 L327.3 110.9 L327.9 111.6 L328.5 111.7 L329.1 110.9 L329.7 111.1 L330.3 112.1 L330.9 112.3 L331.5 111.4 L332.1 112.8 L332.7 112.0 L333.3 112.7 L333.9 112.7 L334.5 112.5 L335.1 113.7 L335.7 112.8 L336.3 112.9 L336.9 113.1 L337.5 113.7 L338.1 114.1 L338.7 113.7 L339.3 113.4 L339.9 113.7 L340.5 113.7 L341.1 114.3 L341.7 114.4 L342.3 114.0 L342.9 113.1 L343.5 113.8 L344.1 113.6 L344.7 113.3 L345.3 114.0 L345.9 112.7 L346.5 113.3 L347.1 112.6 L347.7 112.2 L348.3 112.4 L348.9 112.2 L349.5 112.4 L350.1 112.1 L350.7 111.3 L351.3 109.5 L351.9 109.4 L352.5 108.3 L353.1 108.3 L353.7 106.4 L354.3 104.7 L354.9 102.5 L355.5 101.2 L356.1 98.0 L356.7 94.3 L357.3 89.8 L357.9 85.5 L358.5 77.6 L359.1 68.6 L359.7 59.9 L360.3 50.4 L360.9 41.4 L361.5 48.4 L362.1 58.5 L362.7 73.6 L363.3 94.4 L363.9 106.8 L364.5 114.1 L365.1 117.5 L365.7 118.2 L366.3 118.8 L366.9 120.1 L367.5 120.3 L368.1 121.3 L368.7 120.7 L369.3 121.4 L369.9 122.1 L370.5 122.8 L371.1 123.3 L371.7 123.8 L372.3 124.0 L372.9 124.0 L373.5 124.1 L374.0 124.4 Z" fill="#000" stroke="#000" stroke-width="0.4"/><text x="322.60" y="51.30" font-family="Liberation Serif" font-size="11.3" font-weight="bold" stroke="#000" stroke-width="0.3" textLength="30.70" lengthAdjust="spacingAndGlyphs" >56.4%</text><line x1="286.50" y1="119.00" x2="288.70" y2="119.00" stroke="#444" stroke-width="0.9" /><line x1="286.50" y1="113.60" x2="288.70" y2="113.60" stroke="#444" stroke-width="0.9" /><line x1="286.50" y1="108.20" x2="288.70" y2="108.20" stroke="#444" stroke-width="0.9" /><line x1="286.50" y1="102.80" x2="288.70" y2="102.80" stroke="#444" stroke-width="0.9" /><line x1="286.50" y1="97.40" x2="288.70" y2="97.40" stroke="#444" stroke-width="0.9" /><line x1="286.50" y1="92.00" x2="288.70" y2="92.00" stroke="#444" stroke-width="0.9" /><line x1="286.50" y1="86.60" x2="288.70" y2="86.60" stroke="#444" stroke-width="0.9" /><line x1="286.50" y1="81.20" x2="288.70" y2="81.20" stroke="#444" stroke-width="0.9" /><line x1="286.50" y1="75.80" x2="288.70" y2="75.80" stroke="#444" stroke-width="0.9" /><line x1="286.50" y1="70.40" x2="288.70" y2="70.40" stroke="#444" stroke-width="0.9" /><line x1="286.50" y1="65.00" x2="288.70" y2="65.00" stroke="#444" stroke-width="0.9" /><line x1="286.50" y1="59.60" x2="288.70" y2="59.60" stroke="#444" stroke-width="0.9" /><line x1="286.50" y1="54.20" x2="288.70" y2="54.20" stroke="#444" stroke-width="0.9" /><line x1="286.50" y1="48.80" x2="288.70" y2="48.80" stroke="#444" stroke-width="0.9" /><line x1="286.50" y1="43.40" x2="288.70" y2="43.40" stroke="#444" stroke-width="0.9" /><line x1="285.10" y1="124.40" x2="288.70" y2="124.40" stroke="#222" stroke-width="1.1" /><text x="283.50" y="124.40" font-family="Liberation Sans" font-size="5.6" text-anchor="middle" fill="#222" transform="rotate(-90 283.50 124.40)" >0</text><line x1="285.10" y1="97.40" x2="288.70" y2="97.40" stroke="#222" stroke-width="1.1" /><text x="283.50" y="97.40" font-family="Liberation Sans" font-size="5.6" text-anchor="middle" fill="#222" transform="rotate(-90 283.50 97.40)" >500</text><line x1="285.10" y1="70.40" x2="288.70" y2="70.40" stroke="#222" stroke-width="1.1" /><text x="283.50" y="70.40" font-family="Liberation Sans" font-size="5.6" text-anchor="middle" fill="#222" transform="rotate(-90 283.50 70.40)" >1 000</text><line x1="285.10" y1="43.40" x2="288.70" y2="43.40" stroke="#222" stroke-width="1.1" /><text x="283.50" y="43.40" font-family="Liberation Sans" font-size="5.6" text-anchor="middle" fill="#222" transform="rotate(-90 283.50 43.40)" >1 500</text><text x="275.20" y="81.00" font-family="Liberation Sans" font-size="6.6" text-anchor="middle" fill="#333" textLength="18.00" lengthAdjust="spacingAndGlyphs" transform="rotate(-90 275.20 81.00)" >Count</text><line x1="293.20" y1="124.40" x2="293.20" y2="129.60" stroke="#333" stroke-width="1.0" /><line x1="296.70" y1="124.40" x2="296.70" y2="127.20" stroke="#333" stroke-width="0.7" /><line x1="300.30" y1="124.40" x2="300.30" y2="129.60" stroke="#333" stroke-width="1.0" /><line x1="304.00" y1="124.40" x2="304.00" y2="127.20" stroke="#333" stroke-width="0.7" /><line x1="308.10" y1="124.40" x2="308.10" y2="129.60" stroke="#333" stroke-width="1.0" /><line x1="315.11" y1="124.40" x2="315.11" y2="127.20" stroke="#333" stroke-width="0.7" /><line x1="319.22" y1="124.40" x2="319.22" y2="127.20" stroke="#333" stroke-width="0.7" /><line x1="322.13" y1="124.40" x2="322.13" y2="127.20" stroke="#333" stroke-width="0.7" /><line x1="324.39" y1="124.40" x2="324.39" y2="127.20" stroke="#333" stroke-width="0.7" /><line x1="326.23" y1="124.40" x2="326.23" y2="127.20" stroke="#333" stroke-width="0.7" /><line x1="327.79" y1="124.40" x2="327.79" y2="127.20" stroke="#333" stroke-width="0.7" /><line x1="329.14" y1="124.40" x2="329.14" y2="127.20" stroke="#333" stroke-width="0.7" /><line x1="330.33" y1="124.40" x2="330.33" y2="127.20" stroke="#333" stroke-width="0.7" /><line x1="331.40" y1="124.40" x2="331.40" y2="129.60" stroke="#333" stroke-width="1.0" /><line x1="338.41" y1="124.40" x2="338.41" y2="127.20" stroke="#333" stroke-width="0.7" /><line x1="342.52" y1="124.40" x2="342.52" y2="127.20" stroke="#333" stroke-width="0.7" /><line x1="345.43" y1="124.40" x2="345.43" y2="127.20" stroke="#333" stroke-width="0.7" /><line x1="347.69" y1="124.40" x2="347.69" y2="127.20" stroke="#333" stroke-width="0.7" /><line x1="349.53" y1="124.40" x2="349.53" y2="127.20" stroke="#333" stroke-width="0.7" /><line x1="351.09" y1="124.40" x2="351.09" y2="127.20" stroke="#333" stroke-width="0.7" /><line x1="352.44" y1="124.40" x2="352.44" y2="127.20" stroke="#333" stroke-width="0.7" /><line x1="353.63" y1="124.40" x2="353.63" y2="127.20" stroke="#333" stroke-width="0.7" /><line x1="354.70" y1="124.40" x2="354.70" y2="129.60" stroke="#333" stroke-width="1.0" /><line x1="361.71" y1="124.40" x2="361.71" y2="127.20" stroke="#333" stroke-width="0.7" /><line x1="365.82" y1="124.40" x2="365.82" y2="127.20" stroke="#333" stroke-width="0.7" /><line x1="368.73" y1="124.40" x2="368.73" y2="127.20" stroke="#333" stroke-width="0.7" /><line x1="370.99" y1="124.40" x2="370.99" y2="127.20" stroke="#333" stroke-width="0.7" /><line x1="372.83" y1="124.40" x2="372.83" y2="127.20" stroke="#333" stroke-width="0.7" /><line x1="374.39" y1="124.40" x2="374.39" y2="127.20" stroke="#333" stroke-width="0.7" /><line x1="375.74" y1="124.40" x2="375.74" y2="127.20" stroke="#333" stroke-width="0.7" /><line x1="376.93" y1="124.40" x2="376.93" y2="127.20" stroke="#333" stroke-width="0.7" /><line x1="378.00" y1="124.40" x2="378.00" y2="129.60" stroke="#333" stroke-width="1.0" /><text x="300.30" y="136.00" font-family="Liberation Sans" font-size="5.6" text-anchor="middle" fill="#333" >0</text><text x="305.50" y="136.00" font-family="Liberation Sans" font-size="5.6" fill="#333" textLength="5.40" lengthAdjust="spacingAndGlyphs" >10</text><text x="311.00" y="133.00" font-family="Liberation Sans" font-size="4.0" fill="#333" >2</text><text x="328.80" y="136.00" font-family="Liberation Sans" font-size="5.6" fill="#333" textLength="5.40" lengthAdjust="spacingAndGlyphs" >10</text><text x="334.30" y="133.00" font-family="Liberation Sans" font-size="4.0" fill="#333" >3</text><text x="352.10" y="136.00" font-family="Liberation Sans" font-size="5.6" fill="#333" textLength="5.40" lengthAdjust="spacingAndGlyphs" >10</text><text x="357.60" y="133.00" font-family="Liberation Sans" font-size="4.0" fill="#333" >4</text><text x="373.30" y="136.00" font-family="Liberation Sans" font-size="5.6" fill="#333" textLength="5.40" lengthAdjust="spacingAndGlyphs" >10</text><text x="378.80" y="133.00" font-family="Liberation Sans" font-size="4.0" fill="#333" >5</text><text x="324.00" y="145.60" font-family="Liberation Sans" font-size="6.6" fill="#333" textLength="24.30" lengthAdjust="spacingAndGlyphs" >7AAD-A</text><rect x="393.50" y="25.80" width="125.10" height="123.90" fill="none" stroke="#6e6e6e" stroke-width="1.2" /><rect x="418.70" y="38.80" width="96.50" height="85.60" fill="none" stroke="#3c3c3c" stroke-width="1.0" /><line x1="448.70" y1="38.80" x2="448.70" y2="124.40" stroke="#555" stroke-width="1.0" /><line x1="506.10" y1="38.80" x2="506.10" y2="124.40" stroke="#555" stroke-width="1.0" /><line x1="448.70" y1="89.80" x2="506.10" y2="89.80" stroke="#555" stroke-width="1.0" /><path d="M424.3 124.4 L424.3 124.4 L424.9 120.4 L425.5 116.0 L426.1 112.2 L426.7 106.1 L427.3 95.9 L427.9 87.8 L428.5 77.4 L429.1 71.1 L429.7 63.7 L430.3 58.6 L430.9 53.0 L431.5 49.2 L432.1 44.3 L432.7 41.3 L433.3 41.7 L433.9 44.1 L434.5 47.7 L435.1 49.1 L435.7 53.6 L436.3 59.5 L436.9 65.8 L437.5 70.7 L438.1 78.1 L438.7 86.5 L439.3 91.8 L439.9 97.9 L440.5 104.0 L441.1 108.9 L441.7 111.9 L442.3 113.6 L442.9 117.9 L443.5 117.9 L444.1 119.2 L444.7 119.2 L445.3 120.5 L445.9 120.1 L446.5 119.6 L447.1 119.3 L447.7 119.8 L448.3 118.9 L448.9 119.0 L449.5 120.2 L450.1 119.5 L450.7 119.9 L451.3 118.5 L451.9 119.0 L452.5 118.8 L453.1 118.1 L453.7 118.3 L454.3 119.5 L454.9 119.2 L455.5 118.9 L456.1 119.1 L456.7 119.6 L457.3 119.8 L457.9 119.2 L458.5 118.3 L459.1 119.8 L459.7 118.6 L460.3 118.8 L460.9 118.6 L461.5 119.3 L462.1 119.5 L462.7 119.3 L463.3 119.4 L463.9 118.9 L464.5 120.0 L465.1 119.7 L465.7 119.3 L466.3 120.2 L466.9 120.4 L467.5 120.4 L468.1 120.6 L468.7 118.9 L469.3 119.5 L469.9 119.7 L470.5 119.3 L471.1 120.2 L471.7 120.5 L472.3 119.2 L472.9 119.8 L473.5 120.7 L474.1 120.6 L474.7 119.8 L475.3 119.2 L475.9 119.8 L476.5 120.0 L477.1 120.5 L477.7 119.4 L478.3 119.6 L478.9 120.6 L479.5 118.6 L480.1 119.3 L480.7 118.0 L481.3 118.9 L481.9 117.9 L482.5 118.5 L483.1 116.9 L483.7 117.7 L484.3 116.2 L484.9 114.3 L485.5 112.8 L486.1 111.3 L486.7 110.2 L487.3 109.6 L487.9 106.8 L488.5 105.3 L489.1 101.3 L489.7 99.5 L490.3 96.9 L490.9 93.4 L491.5 97.4 L492.1 101.5 L492.7 105.5 L493.3 110.4 L493.9 113.8 L494.5 116.5 L495.1 119.0 L495.7 119.3 L496.3 120.1 L496.9 121.1 L497.5 121.9 L498.1 122.2 L498.7 122.4 L499.3 122.0 L499.9 123.0 L500.5 123.3 L501.1 123.5 L501.7 123.9 L502.3 123.9 L502.9 124.0 L503.5 124.1 L504.0 124.4 Z" fill="#000" stroke="#000" stroke-width="0.4"/><text x="468.00" y="51.30" font-family="Liberation Serif" font-size="11.3" font-weight="bold" stroke="#000" stroke-width="0.3" textLength="29.80" lengthAdjust="spacingAndGlyphs" >28.8%</text><line x1="416.50" y1="121.32" x2="418.70" y2="121.32" stroke="#444" stroke-width="0.9" /><line x1="416.50" y1="118.24" x2="418.70" y2="118.24" stroke="#444" stroke-width="0.9" /><line x1="416.50" y1="115.16" x2="418.70" y2="115.16" stroke="#444" stroke-width="0.9" /><line x1="416.50" y1="112.08" x2="418.70" y2="112.08" stroke="#444" stroke-width="0.9" /><line x1="416.50" y1="109.00" x2="418.70" y2="109.00" stroke="#444" stroke-width="0.9" /><line x1="416.50" y1="105.92" x2="418.70" y2="105.92" stroke="#444" stroke-width="0.9" /><line x1="416.50" y1="102.84" x2="418.70" y2="102.84" stroke="#444" stroke-width="0.9" /><line x1="416.50" y1="99.76" x2="418.70" y2="99.76" stroke="#444" stroke-width="0.9" /><line x1="416.50" y1="96.68" x2="418.70" y2="96.68" stroke="#444" stroke-width="0.9" /><line x1="416.50" y1="93.60" x2="418.70" y2="93.60" stroke="#444" stroke-width="0.9" /><line x1="416.50" y1="90.52" x2="418.70" y2="90.52" stroke="#444" stroke-width="0.9" /><line x1="416.50" y1="87.44" x2="418.70" y2="87.44" stroke="#444" stroke-width="0.9" /><line x1="416.50" y1="84.36" x2="418.70" y2="84.36" stroke="#444" stroke-width="0.9" /><line x1="416.50" y1="81.28" x2="418.70" y2="81.28" stroke="#444" stroke-width="0.9" /><line x1="416.50" y1="78.20" x2="418.70" y2="78.20" stroke="#444" stroke-width="0.9" /><line x1="416.50" y1="75.12" x2="418.70" y2="75.12" stroke="#444" stroke-width="0.9" /><line x1="416.50" y1="72.04" x2="418.70" y2="72.04" stroke="#444" stroke-width="0.9" /><line x1="416.50" y1="68.96" x2="418.70" y2="68.96" stroke="#444" stroke-width="0.9" /><line x1="416.50" y1="65.88" x2="418.70" y2="65.88" stroke="#444" stroke-width="0.9" /><line x1="416.50" y1="62.80" x2="418.70" y2="62.80" stroke="#444" stroke-width="0.9" /><line x1="416.50" y1="59.72" x2="418.70" y2="59.72" stroke="#444" stroke-width="0.9" /><line x1="416.50" y1="56.64" x2="418.70" y2="56.64" stroke="#444" stroke-width="0.9" /><line x1="416.50" y1="53.56" x2="418.70" y2="53.56" stroke="#444" stroke-width="0.9" /><line x1="416.50" y1="50.48" x2="418.70" y2="50.48" stroke="#444" stroke-width="0.9" /><line x1="416.50" y1="47.40" x2="418.70" y2="47.40" stroke="#444" stroke-width="0.9" /><line x1="416.50" y1="44.32" x2="418.70" y2="44.32" stroke="#444" stroke-width="0.9" /><line x1="416.50" y1="41.24" x2="418.70" y2="41.24" stroke="#444" stroke-width="0.9" /><line x1="415.10" y1="124.40" x2="418.70" y2="124.40" stroke="#222" stroke-width="1.1" /><text x="413.50" y="124.40" font-family="Liberation Sans" font-size="5.6" text-anchor="middle" fill="#222" transform="rotate(-90 413.50 124.40)" >0</text><line x1="415.10" y1="109.00" x2="418.70" y2="109.00" stroke="#222" stroke-width="1.1" /><text x="413.50" y="109.00" font-family="Liberation Sans" font-size="5.6" text-anchor="middle" fill="#222" transform="rotate(-90 413.50 109.00)" >500</text><line x1="415.10" y1="93.60" x2="418.70" y2="93.60" stroke="#222" stroke-width="1.1" /><text x="413.50" y="93.60" font-family="Liberation Sans" font-size="5.6" text-anchor="middle" fill="#222" transform="rotate(-90 413.50 93.60)" >1 000</text><line x1="415.10" y1="78.20" x2="418.70" y2="78.20" stroke="#222" stroke-width="1.1" /><text x="413.50" y="78.20" font-family="Liberation Sans" font-size="5.6" text-anchor="middle" fill="#222" transform="rotate(-90 413.50 78.20)" >1 500</text><line x1="415.10" y1="62.80" x2="418.70" y2="62.80" stroke="#222" stroke-width="1.1" /><text x="413.50" y="62.80" font-family="Liberation Sans" font-size="5.6" text-anchor="middle" fill="#222" transform="rotate(-90 413.50 62.80)" >2 000</text><line x1="415.10" y1="47.40" x2="418.70" y2="47.40" stroke="#222" stroke-width="1.1" /><text x="413.50" y="47.40" font-family="Liberation Sans" font-size="5.6" text-anchor="middle" fill="#222" transform="rotate(-90 413.50 47.40)" >2 500</text><text x="405.20" y="81.00" font-family="Liberation Sans" font-size="6.6" text-anchor="middle" fill="#333" textLength="18.00" lengthAdjust="spacingAndGlyphs" transform="rotate(-90 405.20 81.00)" >Count</text><line x1="423.20" y1="124.40" x2="423.20" y2="129.60" stroke="#333" stroke-width="1.0" /><line x1="426.70" y1="124.40" x2="426.70" y2="127.20" stroke="#333" stroke-width="0.7" /><line x1="430.30" y1="124.40" x2="430.30" y2="129.60" stroke="#333" stroke-width="1.0" /><line x1="434.00" y1="124.40" x2="434.00" y2="127.20" stroke="#333" stroke-width="0.7" /><line x1="438.10" y1="124.40" x2="438.10" y2="129.60" stroke="#333" stroke-width="1.0" /><line x1="445.11" y1="124.40" x2="445.11" y2="127.20" stroke="#333" stroke-width="0.7" /><line x1="449.22" y1="124.40" x2="449.22" y2="127.20" stroke="#333" stroke-width="0.7" /><line x1="452.13" y1="124.40" x2="452.13" y2="127.20" stroke="#333" stroke-width="0.7" /><line x1="454.39" y1="124.40" x2="454.39" y2="127.20" stroke="#333" stroke-width="0.7" /><line x1="456.23" y1="124.40" x2="456.23" y2="127.20" stroke="#333" stroke-width="0.7" /><line x1="457.79" y1="124.40" x2="457.79" y2="127.20" stroke="#333" stroke-width="0.7" /><line x1="459.14" y1="124.40" x2="459.14" y2="127.20" stroke="#333" stroke-width="0.7" /><line x1="460.33" y1="124.40" x2="460.33" y2="127.20" stroke="#333" stroke-width="0.7" /><line x1="461.40" y1="124.40" x2="461.40" y2="129.60" stroke="#333" stroke-width="1.0" /><line x1="468.41" y1="124.40" x2="468.41" y2="127.20" stroke="#333" stroke-width="0.7" /><line x1="472.52" y1="124.40" x2="472.52" y2="127.20" stroke="#333" stroke-width="0.7" /><line x1="475.43" y1="124.40" x2="475.43" y2="127.20" stroke="#333" stroke-width="0.7" /><line x1="477.69" y1="124.40" x2="477.69" y2="127.20" stroke="#333" stroke-width="0.7" /><line x1="479.53" y1="124.40" x2="479.53" y2="127.20" stroke="#333" stroke-width="0.7" /><line x1="481.09" y1="124.40" x2="481.09" y2="127.20" stroke="#333" stroke-width="0.7" /><line x1="482.44" y1="124.40" x2="482.44" y2="127.20" stroke="#333" stroke-width="0.7" /><line x1="483.63" y1="124.40" x2="483.63" y2="127.20" stroke="#333" stroke-width="0.7" /><line x1="484.70" y1="124.40" x2="484.70" y2="129.60" stroke="#333" stroke-width="1.0" /><line x1="491.71" y1="124.40" x2="491.71" y2="127.20" stroke="#333" stroke-width="0.7" /><line x1="495.82" y1="124.40" x2="495.82" y2="127.20" stroke="#333" stroke-width="0.7" /><line x1="498.73" y1="124.40" x2="498.73" y2="127.20" stroke="#333" stroke-width="0.7" /><line x1="500.99" y1="124.40" x2="500.99" y2="127.20" stroke="#333" stroke-width="0.7" /><line x1="502.83" y1="124.40" x2="502.83" y2="127.20" stroke="#333" stroke-width="0.7" /><line x1="504.39" y1="124.40" x2="504.39" y2="127.20" stroke="#333" stroke-width="0.7" /><line x1="505.74" y1="124.40" x2="505.74" y2="127.20" stroke="#333" stroke-width="0.7" /><line x1="506.93" y1="124.40" x2="506.93" y2="127.20" stroke="#333" stroke-width="0.7" /><line x1="508.00" y1="124.40" x2="508.00" y2="129.60" stroke="#333" stroke-width="1.0" /><text x="430.30" y="136.00" font-family="Liberation Sans" font-size="5.6" text-anchor="middle" fill="#333" >0</text><text x="435.50" y="136.00" font-family="Liberation Sans" font-size="5.6" fill="#333" textLength="5.40" lengthAdjust="spacingAndGlyphs" >10</text><text x="441.00" y="133.00" font-family="Liberation Sans" font-size="4.0" fill="#333" >2</text><text x="458.80" y="136.00" font-family="Liberation Sans" font-size="5.6" fill="#333" textLength="5.40" lengthAdjust="spacingAndGlyphs" >10</text><text x="464.30" y="133.00" font-family="Liberation Sans" font-size="4.0" fill="#333" >3</text><text x="482.10" y="136.00" font-family="Liberation Sans" font-size="5.6" fill="#333" textLength="5.40" lengthAdjust="spacingAndGlyphs" >10</text><text x="487.60" y="133.00" font-family="Liberation Sans" font-size="4.0" fill="#333" >4</text><text x="503.30" y="136.00" font-family="Liberation Sans" font-size="5.6" fill="#333" textLength="5.40" lengthAdjust="spacingAndGlyphs" >10</text><text x="508.80" y="133.00" font-family="Liberation Sans" font-size="4.0" fill="#333" >5</text><text x="454.00" y="145.60" font-family="Liberation Sans" font-size="6.6" fill="#333" textLength="24.30" lengthAdjust="spacingAndGlyphs" >7AAD-A</text><text x="171.90" y="18.80" font-family="Liberation Serif" font-size="11.4" font-weight="bold" stroke="#000" stroke-width="0.3" textLength="62.10" lengthAdjust="spacingAndGlyphs" >Targets alone</text><text x="309.00" y="6.90" font-family="Liberation Serif" font-size="11.4" font-weight="bold" stroke="#000" stroke-width="0.3" textLength="32.00" lengthAdjust="spacingAndGlyphs" >Targets</text><text x="344.40" y="6.90" font-family="Liberation Serif" font-size="11.4" font-weight="bold" stroke="#000" stroke-width="0.3" textLength="6.40" lengthAdjust="spacingAndGlyphs" >+</text><text x="300.10" y="20.80" font-family="Liberation Serif" font-size="11.4" font-weight="bold" stroke="#000" stroke-width="0.3" textLength="20.50" lengthAdjust="spacingAndGlyphs" >CD8</text><path d="M321.10 13.90H323.90M322.50 12.50V15.30" stroke="#000" stroke-width="0.9" fill="none"/><text x="328.00" y="20.80" font-family="Liberation Serif" font-size="11.4" font-weight="bold" stroke="#000" stroke-width="0.3" textLength="30.90" lengthAdjust="spacingAndGlyphs" >[mDC]</text><text x="433.40" y="6.90" font-family="Liberation Serif" font-size="11.4" font-weight="bold" stroke="#000" stroke-width="0.3" textLength="32.00" lengthAdjust="spacingAndGlyphs" >Targets</text><text x="468.80" y="6.90" font-family="Liberation Serif" font-size="11.4" font-weight="bold" stroke="#000" stroke-width="0.3" textLength="6.40" lengthAdjust="spacingAndGlyphs" >+</text><text x="414.30" y="20.60" font-family="Liberation Serif" font-size="11.4" font-weight="bold" stroke="#000" stroke-width="0.3" textLength="20.80" lengthAdjust="spacingAndGlyphs" >CD8</text><path d="M435.40 13.90H438.20M436.80 12.50V15.30" stroke="#000" stroke-width="0.9" fill="none"/><text x="442.00" y="20.60" font-family="Liberation Serif" font-size="11.4" font-weight="bold" stroke="#000" stroke-width="0.3" textLength="50.70" lengthAdjust="spacingAndGlyphs" >[MPA-DC]</text><line x1="137.40" y1="155.00" x2="516.50" y2="155.00" stroke="#333" stroke-width="1.3" /><polyline points="512,152.2 517.6,155 512,158.4" fill="none" stroke="#222" stroke-width="1.5"/><text x="320.40" y="168.80" font-family="Liberation Serif" font-size="10.1" font-weight="bold" stroke="#000" stroke-width="0.3" textLength="32.60" lengthAdjust="spacingAndGlyphs" >7-AAD</text><text x="0.00" y="197.70" font-family="Liberation Sans" font-size="12" font-weight="bold" textLength="8.90" lengthAdjust="spacingAndGlyphs" >B</text><line x1="43.80" y1="202.50" x2="43.80" y2="332.00" stroke="#111" stroke-width="1.3" /><line x1="43.80" y1="329.20" x2="278.20" y2="329.20" stroke="#222" stroke-width="1.1" /><line x1="40.50" y1="329.20" x2="43.80" y2="329.20" stroke="#111" stroke-width="1.2" /><text x="36.00" y="332.10" font-family="Liberation Serif" font-size="8.6" font-weight="bold" stroke="#000" stroke-width="0.3" text-anchor="end" >0</text><line x1="40.50" y1="311.20" x2="43.80" y2="311.20" stroke="#111" stroke-width="1.2" /><text x="36.00" y="314.10" font-family="Liberation Serif" font-size="8.6" font-weight="bold" stroke="#000" stroke-width="0.3" text-anchor="end" >10</text><line x1="40.50" y1="293.20" x2="43.80" y2="293.20" stroke="#111" stroke-width="1.2" /><text x="36.00" y="296.10" font-family="Liberation Serif" font-size="8.6" font-weight="bold" stroke="#000" stroke-width="0.3" text-anchor="end" >20</text><line x1="40.50" y1="275.20" x2="43.80" y2="275.20" stroke="#111" stroke-width="1.2" /><text x="36.00" y="278.10" font-family="Liberation Serif" font-size="8.6" font-weight="bold" stroke="#000" stroke-width="0.3" text-anchor="end" >30</text><line x1="40.50" y1="257.20" x2="43.80" y2="257.20" stroke="#111" stroke-width="1.2" /><text x="36.00" y="260.10" font-family="Liberation Serif" font-size="8.6" font-weight="bold" stroke="#000" stroke-width="0.3" text-anchor="end" >40</text><line x1="40.50" y1="239.20" x2="43.80" y2="239.20" stroke="#111" stroke-width="1.2" /><text x="36.00" y="242.10" font-family="Liberation Serif" font-size="8.6" font-weight="bold" stroke="#000" stroke-width="0.3" text-anchor="end" >50</text><line x1="40.50" y1="221.20" x2="43.80" y2="221.20" stroke="#111" stroke-width="1.2" /><text x="36.00" y="224.10" font-family="Liberation Serif" font-size="8.6" font-weight="bold" stroke="#000" stroke-width="0.3" text-anchor="end" >60</text><line x1="40.50" y1="203.20" x2="43.80" y2="203.20" stroke="#111" stroke-width="1.2" /><text x="36.00" y="206.10" font-family="Liberation Serif" font-size="8.6" font-weight="bold" stroke="#000" stroke-width="0.3" text-anchor="end" >70</text><line x1="83.03" y1="329.20" x2="83.03" y2="332.40" stroke="#000" stroke-width="1.2" /><line x1="122.06" y1="329.20" x2="122.06" y2="332.40" stroke="#000" stroke-width="1.2" /><line x1="161.09" y1="329.20" x2="161.09" y2="332.40" stroke="#000" stroke-width="1.2" /><line x1="200.12" y1="329.20" x2="200.12" y2="332.40" stroke="#000" stroke-width="1.2" /><line x1="239.15" y1="329.20" x2="239.15" y2="332.40" stroke="#000" stroke-width="1.2" /><line x1="278.18" y1="329.20" x2="278.18" y2="332.40" stroke="#000" stroke-width="1.2" /><text x="63.50" y="347.00" font-family="Liberation Serif" font-size="8.4" font-weight="bold" stroke="#000" stroke-width="0.3" text-anchor="middle" >4:1</text><text x="102.53" y="347.00" font-family="Liberation Serif" font-size="8.4" font-weight="bold" stroke="#000" stroke-width="0.3" text-anchor="middle" >2:1</text><text x="141.56" y="347.00" font-family="Liberation Serif" font-size="8.4" font-weight="bold" stroke="#000" stroke-width="0.3" text-anchor="middle" >1:1</text><text x="180.59" y="347.00" font-family="Liberation Serif" font-size="8.4" font-weight="bold" stroke="#000" stroke-width="0.3" text-anchor="middle" >1:2</text><text x="219.62" y="347.00" font-family="Liberation Serif" font-size="8.4" font-weight="bold" stroke="#000" stroke-width="0.3" text-anchor="middle" >1:4</text><text x="258.65" y="347.00" font-family="Liberation Serif" font-size="8.4" font-weight="bold" stroke="#000" stroke-width="0.3" text-anchor="middle" >1:10</text><text x="115.00" y="363.20" font-family="Liberation Serif" font-size="9.5" font-weight="bold" stroke="#000" stroke-width="0.3" textLength="83.00" lengthAdjust="spacingAndGlyphs" >Effector : Target ratio</text><text x="19.70" y="266.80" font-family="Liberation Serif" font-size="9.8" font-weight="bold" stroke="#000" stroke-width="0.3" text-anchor="middle" textLength="78.50" lengthAdjust="spacingAndGlyphs" transform="rotate(-90 19.70 266.80)" >% of specific lysis</text><polyline points="63.50,307.96 102.53,309.76 141.56,311.92 180.59,314.08 219.62,315.70 258.65,316.60" fill="none" stroke="#000" stroke-width="1.5"/><polyline points="63.50,311.20 102.53,313.72 141.56,315.70 180.59,317.14 219.62,317.50 258.65,318.40" fill="none" stroke="#000" stroke-width="1.5"/><polyline points="63.50,221.20 102.53,229.66 141.56,249.28 180.59,263.14 219.62,265.48 258.65,286.18" fill="none" stroke="#000" stroke-width="1.5"/><polyline points="63.50,266.02 102.53,272.86 141.56,289.60 180.59,299.68 219.62,311.20 258.65,311.20" fill="none" stroke="#000" stroke-width="1.5"/><polygon points="63.50,304.77 66.30,310.09 60.70,310.09" fill="#fff" stroke="#000" stroke-width="0.9"/><polygon points="102.53,306.57 105.33,311.89 99.73,311.89" fill="#fff" stroke="#000" stroke-width="0.9"/><polygon points="141.56,308.73 144.36,314.05 138.76,314.05" fill="#fff" stroke="#000" stroke-width="0.9"/><polygon points="180.59,310.89 183.39,316.21 177.79,316.21" fill="#fff" stroke="#000" stroke-width="0.9"/><polygon points="219.62,312.51 222.42,317.83 216.82,317.83" fill="#fff" stroke="#000" stroke-width="0.9"/><polygon points="258.65,313.41 261.45,318.73 255.85,318.73" fill="#fff" stroke="#000" stroke-width="0.9"/><rect x="60.90" y="308.60" width="5.20" height="5.20" fill="#fff" stroke="#000" stroke-width="0.9"/><rect x="99.93" y="311.12" width="5.20" height="5.20" fill="#fff" stroke="#000" stroke-width="0.9"/><rect x="138.96" y="313.10" width="5.20" height="5.20" fill="#fff" stroke="#000" stroke-width="0.9"/><rect x="177.99" y="314.54" width="5.20" height="5.20" fill="#fff" stroke="#000" stroke-width="0.9"/><rect x="217.02" y="314.90" width="5.20" height="5.20" fill="#fff" stroke="#000" stroke-width="0.9"/><rect x="256.05" y="315.80" width="5.20" height="5.20" fill="#fff" stroke="#000" stroke-width="0.9"/><polygon points="63.50,217.44 66.80,223.71 60.20,223.71" fill="#000" stroke="#000" stroke-width="1.0"/><polygon points="102.53,225.90 105.83,232.17 99.23,232.17" fill="#000" stroke="#000" stroke-width="1.0"/><polygon points="141.56,245.52 144.86,251.79 138.26,251.79" fill="#000" stroke="#000" stroke-width="1.0"/><polygon points="180.59,259.38 183.89,265.65 177.29,265.65" fill="#000" stroke="#000" stroke-width="1.0"/><polygon points="219.62,261.72 222.92,267.99 216.32,267.99" fill="#000" stroke="#000" stroke-width="1.0"/><polygon points="258.65,282.42 261.95,288.69 255.35,288.69" fill="#000" stroke="#000" stroke-width="1.0"/><rect x="60.70" y="263.22" width="5.60" height="5.60" fill="#000" stroke="#000" stroke-width="1.0"/><rect x="99.73" y="270.06" width="5.60" height="5.60" fill="#000" stroke="#000" stroke-width="1.0"/><rect x="138.76" y="286.80" width="5.60" height="5.60" fill="#000" stroke="#000" stroke-width="1.0"/><rect x="177.79" y="296.88" width="5.60" height="5.60" fill="#000" stroke="#000" stroke-width="1.0"/><rect x="216.82" y="308.40" width="5.60" height="5.60" fill="#000" stroke="#000" stroke-width="1.0"/><rect x="255.85" y="308.40" width="5.60" height="5.60" fill="#000" stroke="#000" stroke-width="1.0"/><text x="205.10" y="206.10" font-family="Liberation Serif" font-size="8.4" fill="#111" textLength="16.20" lengthAdjust="spacingAndGlyphs" >CD8</text><path d="M221.80 201.40H224.20M223.00 200.20V202.60" stroke="#222" stroke-width="0.7" fill="none"/><text x="203.40" y="214.00" font-family="Liberation Serif" font-size="8.6" fill="#111" textLength="23.90" lengthAdjust="spacingAndGlyphs" >[mDC]</text><text x="239.00" y="206.10" font-family="Liberation Serif" font-size="8.4" fill="#111" textLength="15.50" lengthAdjust="spacingAndGlyphs" >CD8</text><path d="M255.20 201.40H257.60M256.40 200.20V202.60" stroke="#222" stroke-width="0.7" fill="none"/><text x="229.80" y="214.00" font-family="Liberation Serif" font-size="8.6" fill="#111" textLength="37.00" lengthAdjust="spacingAndGlyphs" >[MPA-DC]</text><text x="170.60" y="224.90" font-family="Liberation Serif" font-size="8.6" fill="#111" textLength="34.90" lengthAdjust="spacingAndGlyphs" >First party</text><text x="168.00" y="234.40" font-family="Liberation Serif" font-size="8.6" fill="#111" textLength="37.50" lengthAdjust="spacingAndGlyphs" >Third party</text><line x1="210.30" y1="222.80" x2="223.50" y2="222.80" stroke="#000" stroke-width="1.2" /><polygon points="216.80,219.64 219.40,224.58 214.20,224.58" fill="#000" stroke="#000" stroke-width="1.0"/><line x1="244.20" y1="222.80" x2="256.30" y2="222.80" stroke="#000" stroke-width="1.2" /><rect x="247.70" y="220.50" width="4.60" height="4.60" fill="#000" stroke="#000" stroke-width="1.0"/><line x1="210.30" y1="233.40" x2="223.50" y2="233.40" stroke="#000" stroke-width="1.2" /><polygon points="216.80,230.35 219.30,235.10 214.30,235.10" fill="#fff" stroke="#000" stroke-width="0.9"/><line x1="244.20" y1="233.40" x2="256.30" y2="233.40" stroke="#000" stroke-width="1.2" /><rect x="247.80" y="231.20" width="4.40" height="4.40" fill="#fff" stroke="#000" stroke-width="0.9"/><text x="320.40" y="198.00" font-family="Liberation Sans" font-size="12.5" font-weight="bold" textLength="8.80" lengthAdjust="spacingAndGlyphs" >C</text><line x1="362.40" y1="207.80" x2="362.40" y2="326.00" stroke="#444" stroke-width="1.2" /><line x1="357.80" y1="321.60" x2="497.00" y2="321.60" stroke="#000" stroke-width="1.2" /><line x1="358.00" y1="302.67" x2="362.40" y2="302.67" stroke="#333" stroke-width="1.1" /><line x1="358.00" y1="283.74" x2="362.40" y2="283.74" stroke="#333" stroke-width="1.1" /><line x1="358.00" y1="264.81" x2="362.40" y2="264.81" stroke="#333" stroke-width="1.1" /><line x1="358.00" y1="245.88" x2="362.40" y2="245.88" stroke="#333" stroke-width="1.1" /><line x1="358.00" y1="226.95" x2="362.40" y2="226.95" stroke="#333" stroke-width="1.1" /><line x1="358.00" y1="208.02" x2="362.40" y2="208.02" stroke="#333" stroke-width="1.1" /><text x="354.00" y="324.20" font-family="Liberation Serif" font-size="9.8" text-anchor="end" fill="#2a2a2a" >0</text><text x="354.00" y="305.27" font-family="Liberation Serif" font-size="9.8" text-anchor="end" fill="#2a2a2a" >10</text><text x="354.00" y="286.34" font-family="Liberation Serif" font-size="9.8" text-anchor="end" fill="#2a2a2a" >20</text><text x="354.00" y="267.41" font-family="Liberation Serif" font-size="9.8" text-anchor="end" fill="#2a2a2a" >30</text><text x="354.00" y="248.48" font-family="Liberation Serif" font-size="9.8" text-anchor="end" fill="#2a2a2a" >40</text><text x="354.00" y="229.55" font-family="Liberation Serif" font-size="9.8" text-anchor="end" fill="#2a2a2a" >50</text><text x="354.00" y="210.62" font-family="Liberation Serif" font-size="9.8" text-anchor="end" fill="#2a2a2a" >60</text><text x="334.10" y="264.65" font-family="Liberation Serif" font-size="10.8" font-weight="bold" stroke="#000" stroke-width="0.3" text-anchor="middle" textLength="75.50" lengthAdjust="spacingAndGlyphs" transform="rotate(-90 334.10 264.65)" >% of specific lysis</text><rect x="381.00" y="226.95" width="15.30" height="94.65" fill="#000" stroke="none" stroke-width="1" /><rect x="405.20" y="268.60" width="14.80" height="53.00" fill="#888" stroke="none" stroke-width="1" /><defs><pattern id="h1" patternUnits="userSpaceOnUse" width="5.8" height="5.8" patternTransform="rotate(45)"><rect width="5.8" height="5.8" fill="#fff"/><rect width="3.0" height="5.8" fill="#000"/></pattern><pattern id="h2" patternUnits="userSpaceOnUse" width="5.8" height="5.8" patternTransform="rotate(45)"><rect width="5.8" height="5.8" fill="#fff"/><rect width="2.6" height="5.8" fill="#c8c8c8"/></pattern></defs><rect x="443.60" y="240.80" width="13.80" height="80.80" fill="url(#h1)" stroke="#000" stroke-width="1.3" /><rect x="467.40" y="284.44" width="14.40" height="37.16" fill="url(#h2)" stroke="#000" stroke-width="1.3" /><polyline points="372.5,229 372.5,222 424.6,222 424.6,229" fill="none" stroke="#000" stroke-width="1.1"/><polyline points="438.6,229 438.6,222 496.2,222 496.2,229" fill="none" stroke="#000" stroke-width="1.1"/><text x="387.00" y="201.30" font-family="Liberation Serif" font-size="9.4" font-weight="bold" stroke="#000" stroke-width="0.3" textLength="24.40" lengthAdjust="spacingAndGlyphs" >Naive</text><text x="374.50" y="213.30" font-family="Liberation Serif" font-size="9.4" font-weight="bold" stroke="#000" stroke-width="0.3" textLength="48.50" lengthAdjust="spacingAndGlyphs" >CD8 T cells</text><text x="449.80" y="201.30" font-family="Liberation Serif" font-size="9.4" font-weight="bold" stroke="#000" stroke-width="0.3" textLength="36.40" lengthAdjust="spacingAndGlyphs" >Memory</text><text x="443.70" y="213.30" font-family="Liberation Serif" font-size="9.4" font-weight="bold" stroke="#000" stroke-width="0.3" textLength="48.60" lengthAdjust="spacingAndGlyphs" >CD8 T cells</text><text x="330.90" y="334.80" font-family="Liberation Serif" font-size="9.4" font-weight="bold" stroke="#000" stroke-width="0.3" textLength="19.30" lengthAdjust="spacingAndGlyphs" >CD8</text><path d="M350.85 329.80H353.55M352.20 328.45V331.15" stroke="#000" stroke-width="0.9" fill="none"/><text x="354.70" y="337.40" font-family="Liberation Serif" font-size="6.4" font-weight="bold" stroke="#000" stroke-width="0.3" textLength="20.30" lengthAdjust="spacingAndGlyphs" >[mDC]</text><text x="320.10" y="348.60" font-family="Liberation Serif" font-size="9.4" font-weight="bold" stroke="#000" stroke-width="0.3" textLength="19.40" lengthAdjust="spacingAndGlyphs" >CD8</text><path d="M340.10 344.00H342.90M341.50 342.60V345.40" stroke="#000" stroke-width="0.9" fill="none"/><text x="343.60" y="350.70" font-family="Liberation Serif" font-size="6.4" font-weight="bold" stroke="#000" stroke-width="0.3" textLength="32.20" lengthAdjust="spacingAndGlyphs" >[MPA-DC]</text><path d="M386.10 336.60H391.30M388.70 334.00V339.20" stroke="#222" stroke-width="1.0" fill="none"/><path d="M411.00 337.60H414.40" stroke="#222" stroke-width="1.1" fill="none"/><path d="M448.00 336.60H453.20M450.60 334.00V339.20" stroke="#222" stroke-width="1.0" fill="none"/><path d="M472.90 337.60H476.30" stroke="#222" stroke-width="1.1" fill="none"/><path d="M387.10 350.50H390.50" stroke="#222" stroke-width="1.1" fill="none"/><path d="M410.10 349.30H415.30M412.70 346.70V351.90" stroke="#222" stroke-width="1.0" fill="none"/><path d="M449.10 350.50H452.50" stroke="#222" stroke-width="1.1" fill="none"/><path d="M472.00 349.30H477.20M474.60 346.70V351.90" stroke="#222" stroke-width="1.0" fill="none"/><text x="403.10" y="368.80" font-family="Liberation Serif" font-size="9.8" font-weight="bold" stroke="#000" stroke-width="0.3" textLength="56.90" lengthAdjust="spacingAndGlyphs" >Ratio E:T 1:1</text><text x="0.00" y="398.80" font-family="Liberation Sans" font-size="12.2" font-weight="bold" textLength="9.30" lengthAdjust="spacingAndGlyphs" >D</text><text x="62.20" y="394.60" font-family="Liberation Serif" font-size="11.0" font-weight="bold" stroke="#000" stroke-width="0.3" textLength="57.00" lengthAdjust="spacingAndGlyphs" >Granzyme A</text><line x1="44.90" y1="404.20" x2="44.90" y2="530.00" stroke="#2a2a2a" stroke-width="1.2" /><line x1="42.70" y1="521.20" x2="140.20" y2="521.20" stroke="#2a2a2a" stroke-width="1.2" /><line x1="91.90" y1="521.20" x2="91.90" y2="530.00" stroke="#333" stroke-width="1.1" /><line x1="140.20" y1="521.20" x2="140.20" y2="530.00" stroke="#333" stroke-width="1.1" /><line x1="42.50" y1="521.20" x2="44.90" y2="521.20" stroke="#222" stroke-width="1.1" /><text x="37.90" y="524.30" font-family="Liberation Serif" font-size="8.4" font-weight="bold" stroke="#000" stroke-width="0.3" text-anchor="end" textLength="3.65" lengthAdjust="spacingAndGlyphs" >0</text><line x1="42.50" y1="511.48" x2="44.90" y2="511.48" stroke="#222" stroke-width="1.1" /><text x="37.90" y="514.58" font-family="Liberation Serif" font-size="8.4" font-weight="bold" stroke="#000" stroke-width="0.3" text-anchor="end" textLength="3.65" lengthAdjust="spacingAndGlyphs" >2</text><line x1="42.50" y1="501.77" x2="44.90" y2="501.77" stroke="#222" stroke-width="1.1" /><text x="37.90" y="504.87" font-family="Liberation Serif" font-size="8.4" font-weight="bold" stroke="#000" stroke-width="0.3" text-anchor="end" textLength="3.65" lengthAdjust="spacingAndGlyphs" >4</text><line x1="42.50" y1="492.05" x2="44.90" y2="492.05" stroke="#222" stroke-width="1.1" /><text x="37.90" y="495.15" font-family="Liberation Serif" font-size="8.4" font-weight="bold" stroke="#000" stroke-width="0.3" text-anchor="end" textLength="3.65" lengthAdjust="spacingAndGlyphs" >6</text><line x1="42.50" y1="482.33" x2="44.90" y2="482.33" stroke="#222" stroke-width="1.1" /><text x="37.90" y="485.43" font-family="Liberation Serif" font-size="8.4" font-weight="bold" stroke="#000" stroke-width="0.3" text-anchor="end" textLength="3.65" lengthAdjust="spacingAndGlyphs" >8</text><line x1="42.50" y1="472.62" x2="44.90" y2="472.62" stroke="#222" stroke-width="1.1" /><text x="37.90" y="475.72" font-family="Liberation Serif" font-size="8.4" font-weight="bold" stroke="#000" stroke-width="0.3" text-anchor="end" textLength="7.30" lengthAdjust="spacingAndGlyphs" >10</text><line x1="42.50" y1="462.90" x2="44.90" y2="462.90" stroke="#222" stroke-width="1.1" /><text x="37.90" y="466.00" font-family="Liberation Serif" font-size="8.4" font-weight="bold" stroke="#000" stroke-width="0.3" text-anchor="end" textLength="7.30" lengthAdjust="spacingAndGlyphs" >12</text><line x1="42.50" y1="453.18" x2="44.90" y2="453.18" stroke="#222" stroke-width="1.1" /><text x="37.90" y="456.28" font-family="Liberation Serif" font-size="8.4" font-weight="bold" stroke="#000" stroke-width="0.3" text-anchor="end" textLength="7.30" lengthAdjust="spacingAndGlyphs" >14</text><line x1="42.50" y1="443.47" x2="44.90" y2="443.47" stroke="#222" stroke-width="1.1" /><text x="37.90" y="446.57" font-family="Liberation Serif" font-size="8.4" font-weight="bold" stroke="#000" stroke-width="0.3" text-anchor="end" textLength="7.30" lengthAdjust="spacingAndGlyphs" >16</text><line x1="42.50" y1="433.75" x2="44.90" y2="433.75" stroke="#222" stroke-width="1.1" /><text x="37.90" y="436.85" font-family="Liberation Serif" font-size="8.4" font-weight="bold" stroke="#000" stroke-width="0.3" text-anchor="end" textLength="7.30" lengthAdjust="spacingAndGlyphs" >18</text><line x1="42.50" y1="424.03" x2="44.90" y2="424.03" stroke="#222" stroke-width="1.1" /><text x="37.90" y="427.13" font-family="Liberation Serif" font-size="8.4" font-weight="bold" stroke="#000" stroke-width="0.3" text-anchor="end" textLength="7.30" lengthAdjust="spacingAndGlyphs" >20</text><line x1="42.50" y1="414.32" x2="44.90" y2="414.32" stroke="#222" stroke-width="1.1" /><text x="37.90" y="417.42" font-family="Liberation Serif" font-size="8.4" font-weight="bold" stroke="#000" stroke-width="0.3" text-anchor="end" textLength="7.30" lengthAdjust="spacingAndGlyphs" >22</text><line x1="42.50" y1="404.60" x2="44.90" y2="404.60" stroke="#222" stroke-width="1.1" /><text x="37.90" y="407.70" font-family="Liberation Serif" font-size="8.4" font-weight="bold" stroke="#000" stroke-width="0.3" text-anchor="end" textLength="7.30" lengthAdjust="spacingAndGlyphs" >24</text><text x="56.20" y="535.30" font-family="Liberation Serif" font-size="10.2" font-weight="bold" stroke="#000" stroke-width="0.3" textLength="21.90" lengthAdjust="spacingAndGlyphs" >mDC</text><text x="97.60" y="535.30" font-family="Liberation Serif" font-size="10.2" font-weight="bold" stroke="#000" stroke-width="0.3" textLength="38.40" lengthAdjust="spacingAndGlyphs" >MPA-DC</text><text x="100.20" y="423.70" font-family="Liberation Serif" font-size="7.8" font-weight="bold" stroke="#000" stroke-width="0.3" textLength="27.90" lengthAdjust="spacingAndGlyphs" ><tspan font-style="italic">P</tspan> = .016</text><line x1="62.90" y1="442.01" x2="75.00" y2="442.01" stroke="#000" stroke-width="3.3" /><line x1="111.60" y1="485.73" x2="123.20" y2="485.73" stroke="#000" stroke-width="3.3" /><rect x="67.20" y="427.14" width="3.5" height="3.5" fill="#000"/><circle cx="68.95" cy="431.32" r="1.8" fill="#000"/><circle cx="68.95" cy="434.24" r="1.8" fill="#000"/><circle cx="68.95" cy="446.87" r="1.8" fill="#000"/><circle cx="68.95" cy="465.82" r="1.8" fill="#000"/><path d="M115.80 478.79L119.00 481.99M119.00 478.79L115.80 481.99" stroke="#000" stroke-width="1.3"/><rect x="115.65" y="481.07" width="3.5" height="3.5" fill="#000"/><path d="M115.60 492.05H119.20M116.20 490.55L118.60 493.55M118.60 490.55L116.20 493.55" stroke="#000" stroke-width="1.2"/><circle cx="117.40" cy="486.71" r="1.8" fill="#000"/><text x="24.00" y="462.70" font-family="Liberation Serif" font-size="11.2" font-weight="bold" stroke="#000" stroke-width="0.3" text-anchor="middle" textLength="82.00" lengthAdjust="spacingAndGlyphs" transform="rotate(-90 24.00 462.70)" >% of positive cells</text><text x="181.50" y="394.60" font-family="Liberation Serif" font-size="11.0" font-weight="bold" stroke="#000" stroke-width="0.3" textLength="57.10" lengthAdjust="spacingAndGlyphs" >Granzyme B</text><line x1="163.70" y1="405.00" x2="163.70" y2="530.90" stroke="#2a2a2a" stroke-width="1.2" /><line x1="161.50" y1="522.10" x2="257.90" y2="522.10" stroke="#2a2a2a" stroke-width="1.2" /><line x1="209.40" y1="522.10" x2="209.40" y2="530.90" stroke="#333" stroke-width="1.1" /><line x1="257.90" y1="522.10" x2="257.90" y2="530.90" stroke="#333" stroke-width="1.1" /><line x1="161.30" y1="522.10" x2="163.70" y2="522.10" stroke="#222" stroke-width="1.1" /><text x="156.70" y="525.20" font-family="Liberation Serif" font-size="8.4" font-weight="bold" stroke="#000" stroke-width="0.3" text-anchor="end" textLength="3.65" lengthAdjust="spacingAndGlyphs" >0</text><line x1="161.30" y1="510.43" x2="163.70" y2="510.43" stroke="#222" stroke-width="1.1" /><text x="156.70" y="513.53" font-family="Liberation Serif" font-size="8.4" font-weight="bold" stroke="#000" stroke-width="0.3" text-anchor="end" textLength="3.65" lengthAdjust="spacingAndGlyphs" >3</text><line x1="161.30" y1="498.76" x2="163.70" y2="498.76" stroke="#222" stroke-width="1.1" /><text x="156.70" y="501.86" font-family="Liberation Serif" font-size="8.4" font-weight="bold" stroke="#000" stroke-width="0.3" text-anchor="end" textLength="3.65" lengthAdjust="spacingAndGlyphs" >6</text><line x1="161.30" y1="487.09" x2="163.70" y2="487.09" stroke="#222" stroke-width="1.1" /><text x="156.70" y="490.19" font-family="Liberation Serif" font-size="8.4" font-weight="bold" stroke="#000" stroke-width="0.3" text-anchor="end" textLength="3.65" lengthAdjust="spacingAndGlyphs" >9</text><line x1="161.30" y1="475.42" x2="163.70" y2="475.42" stroke="#222" stroke-width="1.1" /><text x="156.70" y="478.52" font-family="Liberation Serif" font-size="8.4" font-weight="bold" stroke="#000" stroke-width="0.3" text-anchor="end" textLength="7.30" lengthAdjust="spacingAndGlyphs" >12</text><line x1="161.30" y1="463.75" x2="163.70" y2="463.75" stroke="#222" stroke-width="1.1" /><text x="156.70" y="466.85" font-family="Liberation Serif" font-size="8.4" font-weight="bold" stroke="#000" stroke-width="0.3" text-anchor="end" textLength="7.30" lengthAdjust="spacingAndGlyphs" >15</text><line x1="161.30" y1="452.08" x2="163.70" y2="452.08" stroke="#222" stroke-width="1.1" /><text x="156.70" y="455.18" font-family="Liberation Serif" font-size="8.4" font-weight="bold" stroke="#000" stroke-width="0.3" text-anchor="end" textLength="7.30" lengthAdjust="spacingAndGlyphs" >18</text><line x1="161.30" y1="440.41" x2="163.70" y2="440.41" stroke="#222" stroke-width="1.1" /><text x="156.70" y="443.51" font-family="Liberation Serif" font-size="8.4" font-weight="bold" stroke="#000" stroke-width="0.3" text-anchor="end" textLength="7.30" lengthAdjust="spacingAndGlyphs" >21</text><line x1="161.30" y1="428.74" x2="163.70" y2="428.74" stroke="#222" stroke-width="1.1" /><text x="156.70" y="431.84" font-family="Liberation Serif" font-size="8.4" font-weight="bold" stroke="#000" stroke-width="0.3" text-anchor="end" textLength="7.30" lengthAdjust="spacingAndGlyphs" >24</text><line x1="161.30" y1="417.07" x2="163.70" y2="417.07" stroke="#222" stroke-width="1.1" /><text x="156.70" y="420.17" font-family="Liberation Serif" font-size="8.4" font-weight="bold" stroke="#000" stroke-width="0.3" text-anchor="end" textLength="7.30" lengthAdjust="spacingAndGlyphs" >27</text><line x1="161.30" y1="405.40" x2="163.70" y2="405.40" stroke="#222" stroke-width="1.1" /><text x="156.70" y="408.50" font-family="Liberation Serif" font-size="8.4" font-weight="bold" stroke="#000" stroke-width="0.3" text-anchor="end" textLength="7.30" lengthAdjust="spacingAndGlyphs" >30</text><text x="175.80" y="535.30" font-family="Liberation Serif" font-size="10.2" font-weight="bold" stroke="#000" stroke-width="0.3" textLength="22.20" lengthAdjust="spacingAndGlyphs" >mDC</text><text x="214.60" y="535.30" font-family="Liberation Serif" font-size="10.2" font-weight="bold" stroke="#000" stroke-width="0.3" textLength="38.10" lengthAdjust="spacingAndGlyphs" >MPA-DC</text><text x="207.60" y="423.70" font-family="Liberation Serif" font-size="7.8" font-weight="bold" stroke="#000" stroke-width="0.3" textLength="28.10" lengthAdjust="spacingAndGlyphs" ><tspan font-style="italic">P</tspan> = .016</text><line x1="181.20" y1="443.13" x2="194.20" y2="443.13" stroke="#000" stroke-width="3.3" /><line x1="229.90" y1="482.42" x2="242.00" y2="482.42" stroke="#000" stroke-width="3.3" /><path d="M186.10 431.03L189.30 434.23M189.30 431.03L186.10 434.23" stroke="#000" stroke-width="1.3"/><circle cx="187.70" cy="434.96" r="1.8" fill="#000"/><circle cx="187.70" cy="438.46" r="1.8" fill="#000"/><path d="M185.90 447.41H189.50M186.50 445.91L188.90 448.91M188.90 445.91L186.50 448.91" stroke="#000" stroke-width="1.2"/><polygon points="187.70,453.67 189.80,457.57 185.60,457.57" fill="#000"/><rect x="234.20" y="471.73" width="3.5" height="3.5" fill="#000"/><rect x="234.20" y="474.06" width="3.5" height="3.5" fill="#000"/><circle cx="235.95" cy="480.87" r="1.8" fill="#000"/><circle cx="235.95" cy="489.04" r="1.8" fill="#000"/><text x="310.60" y="394.60" font-family="Liberation Serif" font-size="11.0" font-weight="bold" stroke="#000" stroke-width="0.3" textLength="37.60" lengthAdjust="spacingAndGlyphs" >Perforin</text><line x1="282.30" y1="404.80" x2="282.30" y2="531.00" stroke="#2a2a2a" stroke-width="1.2" /><line x1="280.10" y1="522.20" x2="377.00" y2="522.20" stroke="#2a2a2a" stroke-width="1.2" /><line x1="328.90" y1="522.20" x2="328.90" y2="531.00" stroke="#333" stroke-width="1.1" /><line x1="377.00" y1="522.20" x2="377.00" y2="531.00" stroke="#333" stroke-width="1.1" /><line x1="279.90" y1="522.20" x2="282.30" y2="522.20" stroke="#222" stroke-width="1.1" /><text x="275.30" y="525.30" font-family="Liberation Serif" font-size="8.4" font-weight="bold" stroke="#000" stroke-width="0.3" text-anchor="end" textLength="3.65" lengthAdjust="spacingAndGlyphs" >0</text><line x1="279.90" y1="512.45" x2="282.30" y2="512.45" stroke="#222" stroke-width="1.1" /><text x="275.30" y="515.55" font-family="Liberation Serif" font-size="8.4" font-weight="bold" stroke="#000" stroke-width="0.3" text-anchor="end" textLength="3.65" lengthAdjust="spacingAndGlyphs" >2</text><line x1="279.90" y1="502.70" x2="282.30" y2="502.70" stroke="#222" stroke-width="1.1" /><text x="275.30" y="505.80" font-family="Liberation Serif" font-size="8.4" font-weight="bold" stroke="#000" stroke-width="0.3" text-anchor="end" textLength="3.65" lengthAdjust="spacingAndGlyphs" >4</text><line x1="279.90" y1="492.95" x2="282.30" y2="492.95" stroke="#222" stroke-width="1.1" /><text x="275.30" y="496.05" font-family="Liberation Serif" font-size="8.4" font-weight="bold" stroke="#000" stroke-width="0.3" text-anchor="end" textLength="3.65" lengthAdjust="spacingAndGlyphs" >6</text><line x1="279.90" y1="483.20" x2="282.30" y2="483.20" stroke="#222" stroke-width="1.1" /><text x="275.30" y="486.30" font-family="Liberation Serif" font-size="8.4" font-weight="bold" stroke="#000" stroke-width="0.3" text-anchor="end" textLength="3.65" lengthAdjust="spacingAndGlyphs" >8</text><line x1="279.90" y1="473.45" x2="282.30" y2="473.45" stroke="#222" stroke-width="1.1" /><text x="275.30" y="476.55" font-family="Liberation Serif" font-size="8.4" font-weight="bold" stroke="#000" stroke-width="0.3" text-anchor="end" textLength="7.30" lengthAdjust="spacingAndGlyphs" >10</text><line x1="279.90" y1="463.70" x2="282.30" y2="463.70" stroke="#222" stroke-width="1.1" /><text x="275.30" y="466.80" font-family="Liberation Serif" font-size="8.4" font-weight="bold" stroke="#000" stroke-width="0.3" text-anchor="end" textLength="7.30" lengthAdjust="spacingAndGlyphs" >12</text><line x1="279.90" y1="453.95" x2="282.30" y2="453.95" stroke="#222" stroke-width="1.1" /><text x="275.30" y="457.05" font-family="Liberation Serif" font-size="8.4" font-weight="bold" stroke="#000" stroke-width="0.3" text-anchor="end" textLength="7.30" lengthAdjust="spacingAndGlyphs" >14</text><line x1="279.90" y1="444.20" x2="282.30" y2="444.20" stroke="#222" stroke-width="1.1" /><text x="275.30" y="447.30" font-family="Liberation Serif" font-size="8.4" font-weight="bold" stroke="#000" stroke-width="0.3" text-anchor="end" textLength="7.30" lengthAdjust="spacingAndGlyphs" >16</text><line x1="279.90" y1="434.45" x2="282.30" y2="434.45" stroke="#222" stroke-width="1.1" /><text x="275.30" y="437.55" font-family="Liberation Serif" font-size="8.4" font-weight="bold" stroke="#000" stroke-width="0.3" text-anchor="end" textLength="7.30" lengthAdjust="spacingAndGlyphs" >18</text><line x1="279.90" y1="424.70" x2="282.30" y2="424.70" stroke="#222" stroke-width="1.1" /><text x="275.30" y="427.80" font-family="Liberation Serif" font-size="8.4" font-weight="bold" stroke="#000" stroke-width="0.3" text-anchor="end" textLength="7.30" lengthAdjust="spacingAndGlyphs" >20</text><line x1="279.90" y1="414.95" x2="282.30" y2="414.95" stroke="#222" stroke-width="1.1" /><text x="275.30" y="418.05" font-family="Liberation Serif" font-size="8.4" font-weight="bold" stroke="#000" stroke-width="0.3" text-anchor="end" textLength="7.30" lengthAdjust="spacingAndGlyphs" >22</text><line x1="279.90" y1="405.20" x2="282.30" y2="405.20" stroke="#222" stroke-width="1.1" /><text x="275.30" y="408.30" font-family="Liberation Serif" font-size="8.4" font-weight="bold" stroke="#000" stroke-width="0.3" text-anchor="end" textLength="7.30" lengthAdjust="spacingAndGlyphs" >24</text><text x="296.00" y="535.30" font-family="Liberation Serif" font-size="10.2" font-weight="bold" stroke="#000" stroke-width="0.3" textLength="22.00" lengthAdjust="spacingAndGlyphs" >mDC</text><text x="335.40" y="535.30" font-family="Liberation Serif" font-size="10.2" font-weight="bold" stroke="#000" stroke-width="0.3" textLength="40.40" lengthAdjust="spacingAndGlyphs" >MPA-DC</text><text x="334.00" y="423.70" font-family="Liberation Serif" font-size="7.8" font-weight="bold" stroke="#000" stroke-width="0.3" textLength="27.50" lengthAdjust="spacingAndGlyphs" ><tspan font-style="italic">P</tspan> = .016</text><line x1="300.60" y1="435.91" x2="313.70" y2="435.91" stroke="#000" stroke-width="3.3" /><line x1="348.50" y1="473.94" x2="361.50" y2="473.94" stroke="#000" stroke-width="3.3" /><circle cx="307.15" cy="421.77" r="1.8" fill="#000"/><path d="M305.55 425.54L308.75 428.74M308.75 425.54L305.55 428.74" stroke="#000" stroke-width="1.3"/><rect x="305.40" y="431.24" width="3.5" height="3.5" fill="#000"/><circle cx="307.15" cy="442.74" r="1.8" fill="#000"/><polygon points="307.15,454.09 309.25,457.99 305.05,457.99" fill="#000"/><rect x="353.25" y="458.05" width="3.5" height="3.5" fill="#000"/><circle cx="355.00" cy="471.50" r="1.8" fill="#000"/><circle cx="355.00" cy="478.81" r="1.8" fill="#000"/><path d="M353.40 489.40L356.60 492.60M356.60 489.40L353.40 492.60" stroke="#000" stroke-width="1.3"/><text x="429.00" y="394.60" font-family="Liberation Serif" font-size="11.0" font-weight="bold" stroke="#000" stroke-width="0.3" textLength="31.90" lengthAdjust="spacingAndGlyphs" >CD107</text><line x1="402.20" y1="405.10" x2="402.20" y2="531.00" stroke="#2a2a2a" stroke-width="1.2" /><line x1="400.00" y1="522.20" x2="497.90" y2="522.20" stroke="#2a2a2a" stroke-width="1.2" /><line x1="448.40" y1="522.20" x2="448.40" y2="531.00" stroke="#333" stroke-width="1.1" /><line x1="497.90" y1="522.20" x2="497.90" y2="531.00" stroke="#333" stroke-width="1.1" /><line x1="399.80" y1="522.20" x2="402.20" y2="522.20" stroke="#222" stroke-width="1.1" /><text x="395.20" y="525.30" font-family="Liberation Serif" font-size="8.4" font-weight="bold" stroke="#000" stroke-width="0.3" text-anchor="end" textLength="3.65" lengthAdjust="spacingAndGlyphs" >0</text><line x1="399.80" y1="509.23" x2="402.20" y2="509.23" stroke="#222" stroke-width="1.1" /><text x="395.20" y="512.33" font-family="Liberation Serif" font-size="8.4" font-weight="bold" stroke="#000" stroke-width="0.3" text-anchor="end" textLength="3.65" lengthAdjust="spacingAndGlyphs" >5</text><line x1="399.80" y1="496.27" x2="402.20" y2="496.27" stroke="#222" stroke-width="1.1" /><text x="395.20" y="499.37" font-family="Liberation Serif" font-size="8.4" font-weight="bold" stroke="#000" stroke-width="0.3" text-anchor="end" textLength="7.30" lengthAdjust="spacingAndGlyphs" >10</text><line x1="399.80" y1="483.30" x2="402.20" y2="483.30" stroke="#222" stroke-width="1.1" /><text x="395.20" y="486.40" font-family="Liberation Serif" font-size="8.4" font-weight="bold" stroke="#000" stroke-width="0.3" text-anchor="end" textLength="7.30" lengthAdjust="spacingAndGlyphs" >15</text><line x1="399.80" y1="470.33" x2="402.20" y2="470.33" stroke="#222" stroke-width="1.1" /><text x="395.20" y="473.43" font-family="Liberation Serif" font-size="8.4" font-weight="bold" stroke="#000" stroke-width="0.3" text-anchor="end" textLength="7.30" lengthAdjust="spacingAndGlyphs" >20</text><line x1="399.80" y1="457.37" x2="402.20" y2="457.37" stroke="#222" stroke-width="1.1" /><text x="395.20" y="460.47" font-family="Liberation Serif" font-size="8.4" font-weight="bold" stroke="#000" stroke-width="0.3" text-anchor="end" textLength="7.30" lengthAdjust="spacingAndGlyphs" >25</text><line x1="399.80" y1="444.40" x2="402.20" y2="444.40" stroke="#222" stroke-width="1.1" /><text x="395.20" y="447.50" font-family="Liberation Serif" font-size="8.4" font-weight="bold" stroke="#000" stroke-width="0.3" text-anchor="end" textLength="7.30" lengthAdjust="spacingAndGlyphs" >30</text><line x1="399.80" y1="431.43" x2="402.20" y2="431.43" stroke="#222" stroke-width="1.1" /><text x="395.20" y="434.53" font-family="Liberation Serif" font-size="8.4" font-weight="bold" stroke="#000" stroke-width="0.3" text-anchor="end" textLength="7.30" lengthAdjust="spacingAndGlyphs" >35</text><line x1="399.80" y1="418.47" x2="402.20" y2="418.47" stroke="#222" stroke-width="1.1" /><text x="395.20" y="421.57" font-family="Liberation Serif" font-size="8.4" font-weight="bold" stroke="#000" stroke-width="0.3" text-anchor="end" textLength="7.30" lengthAdjust="spacingAndGlyphs" >40</text><line x1="399.80" y1="405.50" x2="402.20" y2="405.50" stroke="#222" stroke-width="1.1" /><text x="395.20" y="408.60" font-family="Liberation Serif" font-size="8.4" font-weight="bold" stroke="#000" stroke-width="0.3" text-anchor="end" textLength="7.30" lengthAdjust="spacingAndGlyphs" >45</text><text x="416.20" y="535.30" font-family="Liberation Serif" font-size="10.2" font-weight="bold" stroke="#000" stroke-width="0.3" textLength="22.10" lengthAdjust="spacingAndGlyphs" >mDC</text><text x="453.90" y="535.30" font-family="Liberation Serif" font-size="10.2" font-weight="bold" stroke="#000" stroke-width="0.3" textLength="39.70" lengthAdjust="spacingAndGlyphs" >MPA-DC</text><text x="454.00" y="423.70" font-family="Liberation Serif" font-size="7.8" font-weight="bold" stroke="#000" stroke-width="0.3" textLength="28.00" lengthAdjust="spacingAndGlyphs" ><tspan font-style="italic">P</tspan> = .023</text><line x1="418.90" y1="446.47" x2="432.90" y2="446.47" stroke="#000" stroke-width="3.3" /><line x1="467.60" y1="483.30" x2="480.60" y2="483.30" stroke="#000" stroke-width="3.3" /><path d="M424.30 410.38L427.50 413.58M427.50 410.38L424.30 413.58" stroke="#000" stroke-width="1.3"/><rect x="424.15" y="418.53" width="3.5" height="3.5" fill="#000"/><polygon points="425.90,440.80 428.00,444.70 423.80,444.70" fill="#000"/><path d="M424.30 452.65L427.50 455.85M427.50 452.65L424.30 455.85" stroke="#000" stroke-width="1.3"/><circle cx="425.90" cy="472.93" r="1.8" fill="#000"/><rect x="424.15" y="472.73" width="3.5" height="3.5" fill="#000"/><path d="M472.50 446.69L475.70 449.89M475.70 446.69L472.50 449.89" stroke="#000" stroke-width="1.3"/><polygon points="474.10,457.66 476.20,461.56 472.00,461.56" fill="#000"/><circle cx="474.10" cy="492.90" r="1.8" fill="#000"/><circle cx="474.10" cy="502.75" r="1.8" fill="#000"/><rect x="472.35" y="509.56" width="3.5" height="3.5" fill="#000"/></svg>
</body></html>
